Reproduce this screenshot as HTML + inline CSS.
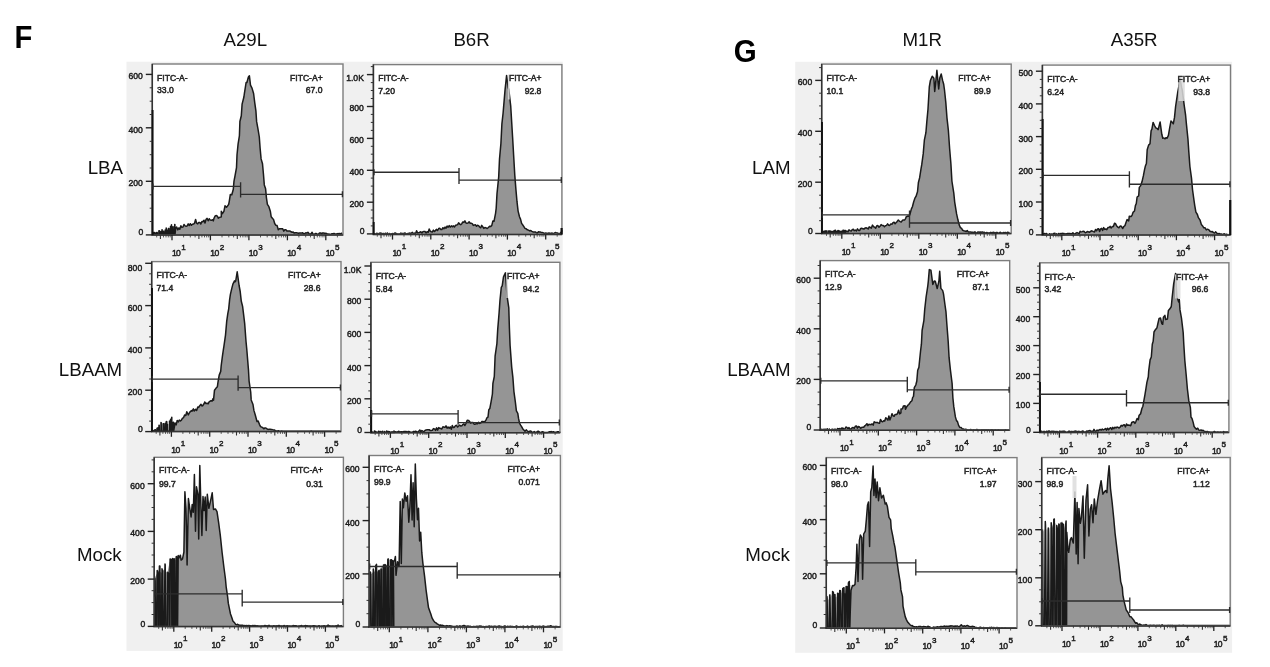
<!DOCTYPE html>
<html lang="en"><head><meta charset="utf-8"><title>Figure F G flow cytometry histograms</title>
<style>
html,body{margin:0;padding:0;background:#fff;}
body{width:1270px;height:667px;overflow:hidden;position:relative;font-family:"Liberation Sans",Arial,sans-serif;}
svg{position:absolute;left:0;top:0;display:block;filter:blur(0.35px);}
svg text{font-family:"Liberation Sans",Arial,sans-serif;}
.tk{font-size:8.6px;fill:#1c1c1c;stroke:#1c1c1c;stroke-width:0.45px;}
.ten{letter-spacing:-0.6px;}
.sup{font-size:8.1px;fill:#1c1c1c;stroke:#1c1c1c;stroke-width:0.45px;}
.lb{font-size:8.6px;fill:#262626;stroke:#262626;stroke-width:0.5px;}
.hd{font-size:18.7px;fill:#111;}
.big{font-size:31.4px;font-weight:bold;fill:#000;}
</style></head><body>
<svg width="1270" height="667" viewBox="0 0 1270 667">
<rect x="126.5" y="61.7" width="436.2" height="589.2" fill="#f0f0f0"/>
<rect x="795.2" y="61.8" width="436.9" height="591.0" fill="#f0f0f0"/>
<rect x="152.3" y="64.0" width="190.7" height="171.1" fill="#fff"/>
<path d="M153.4 234.8 L153.5 232.4 L153.7 232.4 L153.8 234.8 L154.5 234.8 L154.6 232.6 L155.1 232.7 L155.2 234.8 L156.6 234.8 L156.7 232.6 L157.2 232.5 L157.3 234.8 L158.8 234.8 L158.9 230.8 L159.4 230.8 L159.5 234.8 L160.9 234.8 L161.0 231.4 L160.9 231.4 L161.0 234.8 L162.0 234.8 L162.1 229.8 L162.0 229.8 L162.1 234.8 L163.0 234.8 L163.1 231.2 L163.6 231.2 L163.7 234.8 L165.1 234.8 L165.2 230.1 L165.4 230.2 L165.5 234.8 L166.2 234.8 L166.3 228.2 L166.2 228.1 L166.3 234.8 L167.2 234.8 L167.3 230.3 L167.8 230.2 L167.9 234.8 L168.3 234.8 L168.4 228.5 L168.9 228.5 L169.0 234.8 L170.4 234.8 L170.5 226.4 L170.7 226.4 L170.8 234.8 L171.4 234.8 L171.5 224.8 L171.4 225.0 L171.5 234.8 L172.5 234.8 L172.6 226.9 L173.1 226.8 L173.2 234.8 L174.6 234.8 L174.7 224.5 L174.9 224.5 L175.0 234.8 L175.6 228.6 L176.7 227.0 L177.7 229.8 L178.8 228.0 L179.8 229.3 L180.9 225.8 L181.9 227.4 L183.0 227.0 L184.0 224.4 L185.1 225.9 L186.1 226.3 L187.2 225.9 L188.2 223.9 L189.3 225.5 L190.3 223.7 L191.4 225.3 L192.4 224.3 L193.5 224.1 L194.5 223.2 L195.6 219.4 L196.6 223.2 L197.7 223.9 L198.7 222.4 L199.8 222.4 L200.8 224.0 L201.9 221.6 L202.9 221.7 L204.0 220.2 L205.0 223.1 L206.1 219.3 L207.1 218.4 L208.2 220.8 L209.2 218.7 L210.3 220.1 L211.3 220.3 L212.5 219.7 L213.3 220.9 L214.0 218.3 L215.1 216.0 L216.4 215.5 L217.6 216.4 L218.3 218.2 L219.3 217.5 L221.3 216.9 L221.3 211.2 L222.4 213.6 L223.9 211.3 L225.0 205.8 L226.5 207.2 L227.5 206.0 L228.7 204.4 L229.3 201.1 L230.3 194.6 L231.8 194.7 L233.3 189.3 L234.0 181.1 L235.0 176.0 L236.5 167.6 L237.0 155.0 L238.1 143.9 L239.4 135.8 L239.9 121.5 L241.3 115.7 L242.1 104.1 L243.9 97.0 L244.4 93.4 L246.1 82.5 L246.9 82.5 L248.4 77.0 L249.4 75.8 L250.5 85.2 L252.0 88.1 L253.6 93.5 L254.8 103.1 L255.9 110.8 L256.6 121.4 L258.0 129.2 L259.3 137.0 L260.1 148.0 L261.1 158.9 L262.5 163.8 L263.5 174.7 L264.3 184.9 L265.6 188.7 L266.4 197.6 L267.4 204.3 L268.9 206.7 L270.4 211.5 L271.2 216.8 L272.8 218.8 L273.5 219.4 L274.7 223.5 L275.9 225.3 L277.1 225.6 L278.3 229.7 L279.4 228.7 L280.6 228.7 L281.7 228.7 L282.7 228.7 L283.8 231.1 L284.8 229.8 L285.9 229.7 L286.9 230.9 L288.0 231.0 L289.0 231.0 L290.1 231.1 L291.1 231.8 L292.2 232.3 L293.2 232.1 L294.3 233.1 L295.3 232.8 L296.4 232.8 L297.4 232.9 L298.5 233.3 L299.5 233.0 L300.6 233.1 L301.6 233.1 L302.7 232.7 L303.7 234.0 L304.8 233.5 L305.8 232.8 L306.9 233.1 L307.9 232.3 L309.0 233.6 L310.0 234.6 L311.1 233.7 L312.1 232.3 L313.2 234.3 L314.2 234.3 L315.3 233.5 L316.3 233.6 L317.4 234.2 L318.4 234.3 L319.5 233.0 L320.5 232.9 L321.6 233.9 L322.6 232.9 L323.7 232.9 L324.7 233.7 L325.8 233.3 L326.8 233.7 L327.8 234.2 L328.9 234.0 L329.9 234.6 L330.9 234.2 L332.0 233.8 L333.0 233.8 L334.1 233.4 L335.1 233.9 L336.1 234.4 L337.2 233.6 L338.2 234.0 L339.2 233.4 L340.3 234.3 L341.3 233.2 L342.4 233.9 L342.4 235.1 L153.4 235.1 Z" fill="#959595" stroke="none"/>
<path d="M153.4 234.8 L153.5 232.4 L153.7 232.4 L153.8 234.8 L154.5 234.8 L154.6 232.6 L155.1 232.7 L155.2 234.8 L156.6 234.8 L156.7 232.6 L157.2 232.5 L157.3 234.8 L158.8 234.8 L158.9 230.8 L159.4 230.8 L159.5 234.8 L160.9 234.8 L161.0 231.4 L160.9 231.4 L161.0 234.8 L162.0 234.8 L162.1 229.8 L162.0 229.8 L162.1 234.8 L163.0 234.8 L163.1 231.2 L163.6 231.2 L163.7 234.8 L165.1 234.8 L165.2 230.1 L165.4 230.2 L165.5 234.8 L166.2 234.8 L166.3 228.2 L166.2 228.1 L166.3 234.8 L167.2 234.8 L167.3 230.3 L167.8 230.2 L167.9 234.8 L168.3 234.8 L168.4 228.5 L168.9 228.5 L169.0 234.8 L170.4 234.8 L170.5 226.4 L170.7 226.4 L170.8 234.8 L171.4 234.8 L171.5 224.8 L171.4 225.0 L171.5 234.8 L172.5 234.8 L172.6 226.9 L173.1 226.8 L173.2 234.8 L174.6 234.8 L174.7 224.5 L174.9 224.5 L175.0 234.8 L175.6 228.6 L176.7 227.0 L177.7 229.8 L178.8 228.0 L179.8 229.3 L180.9 225.8 L181.9 227.4 L183.0 227.0 L184.0 224.4 L185.1 225.9 L186.1 226.3 L187.2 225.9 L188.2 223.9 L189.3 225.5 L190.3 223.7 L191.4 225.3 L192.4 224.3 L193.5 224.1 L194.5 223.2 L195.6 219.4 L196.6 223.2 L197.7 223.9 L198.7 222.4 L199.8 222.4 L200.8 224.0 L201.9 221.6 L202.9 221.7 L204.0 220.2 L205.0 223.1 L206.1 219.3 L207.1 218.4 L208.2 220.8 L209.2 218.7 L210.3 220.1 L211.3 220.3 L212.5 219.7 L213.3 220.9 L214.0 218.3 L215.1 216.0 L216.4 215.5 L217.6 216.4 L218.3 218.2 L219.3 217.5 L221.3 216.9 L221.3 211.2 L222.4 213.6 L223.9 211.3 L225.0 205.8 L226.5 207.2 L227.5 206.0 L228.7 204.4 L229.3 201.1 L230.3 194.6 L231.8 194.7 L233.3 189.3 L234.0 181.1 L235.0 176.0 L236.5 167.6 L237.0 155.0 L238.1 143.9 L239.4 135.8 L239.9 121.5 L241.3 115.7 L242.1 104.1 L243.9 97.0 L244.4 93.4 L246.1 82.5 L246.9 82.5 L248.4 77.0 L249.4 75.8 L250.5 85.2 L252.0 88.1 L253.6 93.5 L254.8 103.1 L255.9 110.8 L256.6 121.4 L258.0 129.2 L259.3 137.0 L260.1 148.0 L261.1 158.9 L262.5 163.8 L263.5 174.7 L264.3 184.9 L265.6 188.7 L266.4 197.6 L267.4 204.3 L268.9 206.7 L270.4 211.5 L271.2 216.8 L272.8 218.8 L273.5 219.4 L274.7 223.5 L275.9 225.3 L277.1 225.6 L278.3 229.7 L279.4 228.7 L280.6 228.7 L281.7 228.7 L282.7 228.7 L283.8 231.1 L284.8 229.8 L285.9 229.7 L286.9 230.9 L288.0 231.0 L289.0 231.0 L290.1 231.1 L291.1 231.8 L292.2 232.3 L293.2 232.1 L294.3 233.1 L295.3 232.8 L296.4 232.8 L297.4 232.9 L298.5 233.3 L299.5 233.0 L300.6 233.1 L301.6 233.1 L302.7 232.7 L303.7 234.0 L304.8 233.5 L305.8 232.8 L306.9 233.1 L307.9 232.3 L309.0 233.6 L310.0 234.6 L311.1 233.7 L312.1 232.3 L313.2 234.3 L314.2 234.3 L315.3 233.5 L316.3 233.6 L317.4 234.2 L318.4 234.3 L319.5 233.0 L320.5 232.9 L321.6 233.9 L322.6 232.9 L323.7 232.9 L324.7 233.7 L325.8 233.3 L326.8 233.7 L327.8 234.2 L328.9 234.0 L329.9 234.6 L330.9 234.2 L332.0 233.8 L333.0 233.8 L334.1 233.4 L335.1 233.9 L336.1 234.4 L337.2 233.6 L338.2 234.0 L339.2 233.4 L340.3 234.3 L341.3 233.2 L342.4 233.9" fill="none" stroke="#1a1a1a" stroke-width="1.5" stroke-linejoin="round"/>
<rect x="152.3" y="64.0" width="190.7" height="171.1" fill="none" stroke="#7d7d7d" stroke-width="1.4"/>
<path d="M152.3 64.0 V235.1 H343.0" fill="none" stroke="#333" stroke-width="1.5"/>
<path d="M152.6 110.0 V235.1" stroke="#111" stroke-width="1.9"/>
<path d="M145.8 74.4 H152.3" stroke="#222" stroke-width="1.4"/>
<text x="142.8" y="79.3" text-anchor="end" class="tk">600</text>
<path d="M145.8 127.8 H152.3" stroke="#222" stroke-width="1.4"/>
<text x="142.8" y="132.7" text-anchor="end" class="tk">400</text>
<path d="M145.8 181.3 H152.3" stroke="#222" stroke-width="1.4"/>
<text x="142.8" y="186.2" text-anchor="end" class="tk">200</text>
<path d="M145.8 234.9 H152.3" stroke="#222" stroke-width="1.4"/>
<text x="143.4" y="235.2" text-anchor="end" class="tk">0</text>
<path d="M149.7 221.5 H152.3" stroke="#333" stroke-width="1"/>
<path d="M149.7 208.2 H152.3" stroke="#333" stroke-width="1"/>
<path d="M149.7 194.8 H152.3" stroke="#333" stroke-width="1"/>
<path d="M149.7 168.0 H152.3" stroke="#333" stroke-width="1"/>
<path d="M149.7 154.7 H152.3" stroke="#333" stroke-width="1"/>
<path d="M149.7 141.3 H152.3" stroke="#333" stroke-width="1"/>
<path d="M149.7 114.5 H152.3" stroke="#333" stroke-width="1"/>
<path d="M149.7 101.2 H152.3" stroke="#333" stroke-width="1"/>
<path d="M149.7 87.8 H152.3" stroke="#333" stroke-width="1"/>
<path d="M156.7 235.1 V237.4" stroke="#333" stroke-width="0.8"/>
<path d="M160.4 235.1 V239.0" stroke="#333" stroke-width="1.1"/>
<path d="M163.5 235.1 V237.4" stroke="#333" stroke-width="0.8"/>
<path d="M166.0 235.1 V237.4" stroke="#333" stroke-width="0.8"/>
<path d="M168.3 235.1 V237.4" stroke="#333" stroke-width="0.8"/>
<path d="M170.2 235.1 V237.4" stroke="#333" stroke-width="0.8"/>
<path d="M172.0 235.1 V240.3" stroke="#222" stroke-width="1.3"/>
<text x="171.9" y="256.3" class="tk ten">10</text><text x="181.3" y="249.8" class="sup">1</text>
<path d="M183.6 235.1 V237.4" stroke="#333" stroke-width="0.8"/>
<path d="M190.3 235.1 V237.4" stroke="#333" stroke-width="0.8"/>
<path d="M195.1 235.1 V237.4" stroke="#333" stroke-width="0.8"/>
<path d="M198.9 235.1 V239.0" stroke="#333" stroke-width="1.1"/>
<path d="M201.9 235.1 V237.4" stroke="#333" stroke-width="0.8"/>
<path d="M204.5 235.1 V237.4" stroke="#333" stroke-width="0.8"/>
<path d="M206.7 235.1 V237.4" stroke="#333" stroke-width="0.8"/>
<path d="M208.7 235.1 V237.4" stroke="#333" stroke-width="0.8"/>
<path d="M210.4 235.1 V240.3" stroke="#222" stroke-width="1.3"/>
<text x="210.3" y="256.3" class="tk ten">10</text><text x="219.8" y="249.8" class="sup">2</text>
<path d="M222.0 235.1 V237.4" stroke="#333" stroke-width="0.8"/>
<path d="M228.8 235.1 V237.4" stroke="#333" stroke-width="0.8"/>
<path d="M233.6 235.1 V237.4" stroke="#333" stroke-width="0.8"/>
<path d="M237.3 235.1 V239.0" stroke="#333" stroke-width="1.1"/>
<path d="M240.4 235.1 V237.4" stroke="#333" stroke-width="0.8"/>
<path d="M242.9 235.1 V237.4" stroke="#333" stroke-width="0.8"/>
<path d="M245.2 235.1 V237.4" stroke="#333" stroke-width="0.8"/>
<path d="M247.1 235.1 V237.4" stroke="#333" stroke-width="0.8"/>
<path d="M248.9 235.1 V240.3" stroke="#222" stroke-width="1.3"/>
<text x="248.8" y="256.3" class="tk ten">10</text><text x="258.2" y="249.8" class="sup">3</text>
<path d="M260.5 235.1 V237.4" stroke="#333" stroke-width="0.8"/>
<path d="M267.2 235.1 V237.4" stroke="#333" stroke-width="0.8"/>
<path d="M272.0 235.1 V237.4" stroke="#333" stroke-width="0.8"/>
<path d="M275.8 235.1 V239.0" stroke="#333" stroke-width="1.1"/>
<path d="M278.8 235.1 V237.4" stroke="#333" stroke-width="0.8"/>
<path d="M281.4 235.1 V237.4" stroke="#333" stroke-width="0.8"/>
<path d="M283.6 235.1 V237.4" stroke="#333" stroke-width="0.8"/>
<path d="M285.6 235.1 V237.4" stroke="#333" stroke-width="0.8"/>
<path d="M287.4 235.1 V240.3" stroke="#222" stroke-width="1.3"/>
<text x="287.2" y="256.3" class="tk ten">10</text><text x="296.7" y="249.8" class="sup">4</text>
<path d="M298.9 235.1 V237.4" stroke="#333" stroke-width="0.8"/>
<path d="M305.7 235.1 V237.4" stroke="#333" stroke-width="0.8"/>
<path d="M310.5 235.1 V237.4" stroke="#333" stroke-width="0.8"/>
<path d="M314.2 235.1 V239.0" stroke="#333" stroke-width="1.1"/>
<path d="M317.3 235.1 V237.4" stroke="#333" stroke-width="0.8"/>
<path d="M319.8 235.1 V237.4" stroke="#333" stroke-width="0.8"/>
<path d="M322.1 235.1 V237.4" stroke="#333" stroke-width="0.8"/>
<path d="M324.0 235.1 V237.4" stroke="#333" stroke-width="0.8"/>
<path d="M325.8 235.1 V240.3" stroke="#222" stroke-width="1.3"/>
<text x="325.7" y="256.3" class="tk ten">10</text><text x="335.1" y="249.8" class="sup">5</text>
<path d="M337.4 235.1 V237.4" stroke="#333" stroke-width="0.8"/>
<path d="M152.3 186.4 H240.6 M240.6 182.3 V197.4 M240.6 194.3 H343.0 M152.9 183.4 V189.4 M342.4 191.3 V197.3" fill="none" stroke="#2c2c2c" stroke-width="1.35"/>
<text x="157.1" y="81.3" class="lb">FITC-A-</text>
<text x="157.1" y="93.4" class="lb">33.0</text>
<text x="290.0" y="81.3" class="lb">FITC-A+</text>
<text x="322.5" y="93.4" class="lb" text-anchor="end">67.0</text>
<rect x="373.4" y="64.6" width="188.5" height="169.8" fill="#fff"/>
<path d="M373.4 234.1 L373.5 233.3 L373.4 233.3 L373.5 234.1 L374.5 234.1 L374.6 233.7 L375.1 233.7 L375.2 234.1 L376.6 234.1 L376.7 233.3 L376.9 233.3 L377.0 234.1 L377.6 234.1 L377.7 233.4 L378.2 233.4 L378.3 234.1 L379.8 234.1 L379.9 233.1 L379.8 233.1 L379.9 234.1 L380.8 234.1 L380.9 232.9 L380.8 232.9 L380.9 234.1 L381.9 234.1 L382.0 233.6 L381.9 233.6 L382.0 234.1 L383.0 234.1 L383.1 233.4 L383.6 233.4 L383.7 234.1 L385.1 234.1 L385.2 233.3 L385.7 233.3 L385.8 234.1 L387.2 234.1 L387.3 233.1 L387.5 233.1 L387.6 234.1 L389.3 234.1 L389.4 233.6 L389.6 233.6 L389.7 234.1 L391.4 234.1 L391.5 233.7 L391.7 233.7 L391.8 234.1 L392.5 234.1 L392.6 233.4 L393.1 233.4 L393.2 234.1 L393.5 234.1 L393.6 233.7 L393.8 233.7 L393.9 234.1 L394.6 234.1 L394.7 233.1 L394.9 233.1 L395.0 234.1 L395.6 234.1 L395.7 233.1 L395.6 233.1 L395.7 234.1 L396.7 233.8 L397.7 234.1 L398.8 233.9 L399.8 234.1 L400.9 233.1 L401.9 233.6 L403.0 233.5 L404.0 233.3 L405.1 232.9 L406.1 234.1 L407.2 233.8 L408.2 233.4 L409.3 233.1 L410.3 233.2 L411.4 233.2 L412.4 232.4 L413.5 233.9 L414.5 233.1 L415.6 233.6 L416.6 230.8 L417.7 233.1 L418.7 232.8 L419.8 232.2 L420.8 231.8 L421.9 233.1 L422.9 231.7 L424.0 231.4 L425.0 231.5 L426.1 233.2 L427.1 231.7 L428.2 232.3 L429.2 229.0 L430.3 231.3 L431.3 231.7 L432.4 231.9 L433.4 230.1 L434.5 231.5 L435.5 230.4 L436.6 229.4 L437.6 230.5 L438.7 228.5 L439.7 228.2 L440.8 229.4 L441.8 229.6 L442.9 227.7 L443.9 228.8 L445.0 227.1 L446.0 228.2 L447.1 226.1 L448.1 227.1 L449.2 225.6 L450.2 227.1 L451.3 225.9 L452.3 226.8 L453.4 225.9 L454.4 227.0 L455.5 225.3 L456.5 225.0 L457.6 224.6 L458.6 222.8 L459.7 224.1 L460.7 224.7 L461.8 223.7 L462.8 222.0 L463.9 222.4 L464.9 220.9 L466.0 223.0 L467.0 223.3 L468.1 222.9 L469.1 221.8 L470.2 223.2 L471.2 223.3 L472.3 223.6 L473.3 225.4 L474.4 224.9 L475.4 224.8 L476.5 226.2 L477.5 225.2 L478.6 225.6 L479.6 227.0 L480.7 227.8 L481.7 225.4 L482.8 226.8 L483.8 228.4 L484.9 227.5 L486.1 227.9 L487.2 228.5 L488.4 227.5 L489.6 226.2 L490.7 226.6 L491.8 225.4 L492.9 221.0 L494.0 221.3 L495.6 213.1 L496.2 208.1 L497.0 193.6 L498.7 176.8 L499.5 159.1 L500.9 143.6 L501.9 123.8 L503.1 113.0 L505.0 90.4 L506.6 75.4 L508.1 87.4 L508.8 89.6 L510.7 105.8 L512.6 137.3 L513.6 154.8 L514.8 175.4 L516.0 190.4 L517.0 201.7 L518.1 211.1 L519.5 216.7 L520.6 219.4 L521.6 223.4 L522.7 224.8 L523.9 226.7 L525.0 228.4 L526.2 228.8 L527.4 229.8 L528.5 230.1 L529.7 230.9 L530.8 230.5 L531.9 231.3 L533.0 231.9 L534.2 232.0 L535.3 231.9 L536.3 232.7 L537.4 233.1 L538.4 231.7 L539.5 231.9 L540.5 232.1 L541.6 232.6 L542.6 232.6 L543.7 233.0 L544.7 233.6 L545.8 232.9 L546.8 233.4 L547.9 233.2 L548.9 233.1 L550.0 233.3 L551.0 233.5 L552.1 232.9 L553.1 234.1 L554.2 233.1 L555.2 232.6 L556.3 232.8 L557.3 232.9 L558.4 233.7 L559.4 233.4 L560.5 233.1 L562.4 230.4 L562.4 234.4 L373.4 234.4 Z" fill="#959595" stroke="none"/>
<path d="M373.4 234.1 L373.5 233.3 L373.4 233.3 L373.5 234.1 L374.5 234.1 L374.6 233.7 L375.1 233.7 L375.2 234.1 L376.6 234.1 L376.7 233.3 L376.9 233.3 L377.0 234.1 L377.6 234.1 L377.7 233.4 L378.2 233.4 L378.3 234.1 L379.8 234.1 L379.9 233.1 L379.8 233.1 L379.9 234.1 L380.8 234.1 L380.9 232.9 L380.8 232.9 L380.9 234.1 L381.9 234.1 L382.0 233.6 L381.9 233.6 L382.0 234.1 L383.0 234.1 L383.1 233.4 L383.6 233.4 L383.7 234.1 L385.1 234.1 L385.2 233.3 L385.7 233.3 L385.8 234.1 L387.2 234.1 L387.3 233.1 L387.5 233.1 L387.6 234.1 L389.3 234.1 L389.4 233.6 L389.6 233.6 L389.7 234.1 L391.4 234.1 L391.5 233.7 L391.7 233.7 L391.8 234.1 L392.5 234.1 L392.6 233.4 L393.1 233.4 L393.2 234.1 L393.5 234.1 L393.6 233.7 L393.8 233.7 L393.9 234.1 L394.6 234.1 L394.7 233.1 L394.9 233.1 L395.0 234.1 L395.6 234.1 L395.7 233.1 L395.6 233.1 L395.7 234.1 L396.7 233.8 L397.7 234.1 L398.8 233.9 L399.8 234.1 L400.9 233.1 L401.9 233.6 L403.0 233.5 L404.0 233.3 L405.1 232.9 L406.1 234.1 L407.2 233.8 L408.2 233.4 L409.3 233.1 L410.3 233.2 L411.4 233.2 L412.4 232.4 L413.5 233.9 L414.5 233.1 L415.6 233.6 L416.6 230.8 L417.7 233.1 L418.7 232.8 L419.8 232.2 L420.8 231.8 L421.9 233.1 L422.9 231.7 L424.0 231.4 L425.0 231.5 L426.1 233.2 L427.1 231.7 L428.2 232.3 L429.2 229.0 L430.3 231.3 L431.3 231.7 L432.4 231.9 L433.4 230.1 L434.5 231.5 L435.5 230.4 L436.6 229.4 L437.6 230.5 L438.7 228.5 L439.7 228.2 L440.8 229.4 L441.8 229.6 L442.9 227.7 L443.9 228.8 L445.0 227.1 L446.0 228.2 L447.1 226.1 L448.1 227.1 L449.2 225.6 L450.2 227.1 L451.3 225.9 L452.3 226.8 L453.4 225.9 L454.4 227.0 L455.5 225.3 L456.5 225.0 L457.6 224.6 L458.6 222.8 L459.7 224.1 L460.7 224.7 L461.8 223.7 L462.8 222.0 L463.9 222.4 L464.9 220.9 L466.0 223.0 L467.0 223.3 L468.1 222.9 L469.1 221.8 L470.2 223.2 L471.2 223.3 L472.3 223.6 L473.3 225.4 L474.4 224.9 L475.4 224.8 L476.5 226.2 L477.5 225.2 L478.6 225.6 L479.6 227.0 L480.7 227.8 L481.7 225.4 L482.8 226.8 L483.8 228.4 L484.9 227.5 L486.1 227.9 L487.2 228.5 L488.4 227.5 L489.6 226.2 L490.7 226.6 L491.8 225.4 L492.9 221.0 L494.0 221.3 L495.6 213.1 L496.2 208.1 L497.0 193.6 L498.7 176.8 L499.5 159.1 L500.9 143.6 L501.9 123.8 L503.1 113.0 L505.0 90.4 L506.6 75.4 L508.1 87.4 L508.8 89.6 L510.7 105.8 L512.6 137.3 L513.6 154.8 L514.8 175.4 L516.0 190.4 L517.0 201.7 L518.1 211.1 L519.5 216.7 L520.6 219.4 L521.6 223.4 L522.7 224.8 L523.9 226.7 L525.0 228.4 L526.2 228.8 L527.4 229.8 L528.5 230.1 L529.7 230.9 L530.8 230.5 L531.9 231.3 L533.0 231.9 L534.2 232.0 L535.3 231.9 L536.3 232.7 L537.4 233.1 L538.4 231.7 L539.5 231.9 L540.5 232.1 L541.6 232.6 L542.6 232.6 L543.7 233.0 L544.7 233.6 L545.8 232.9 L546.8 233.4 L547.9 233.2 L548.9 233.1 L550.0 233.3 L551.0 233.5 L552.1 232.9 L553.1 234.1 L554.2 233.1 L555.2 232.6 L556.3 232.8 L557.3 232.9 L558.4 233.7 L559.4 233.4 L560.5 233.1 L562.4 230.4" fill="none" stroke="#1a1a1a" stroke-width="1.5" stroke-linejoin="round"/>
<rect x="507.9" y="74.5" width="1.8" height="25.0" fill="#dcdcdc" opacity="0.85"/>
<rect x="373.4" y="64.6" width="188.5" height="169.8" fill="none" stroke="#7d7d7d" stroke-width="1.4"/>
<path d="M373.4 64.6 V234.4 H561.9" fill="none" stroke="#333" stroke-width="1.5"/>
<path d="M373.7 222.0 V234.4" stroke="#111" stroke-width="1.9"/>
<path d="M561.6 228.0 V234.4" stroke="#111" stroke-width="2.2"/>
<path d="M366.9 74.6 H373.4" stroke="#222" stroke-width="1.4"/>
<text x="363.9" y="81.1" text-anchor="end" class="tk">1.0K</text>
<path d="M366.9 106.5 H373.4" stroke="#222" stroke-width="1.4"/>
<text x="363.9" y="111.4" text-anchor="end" class="tk">800</text>
<path d="M366.9 138.4 H373.4" stroke="#222" stroke-width="1.4"/>
<text x="363.9" y="143.3" text-anchor="end" class="tk">600</text>
<path d="M366.9 170.3 H373.4" stroke="#222" stroke-width="1.4"/>
<text x="363.9" y="175.2" text-anchor="end" class="tk">400</text>
<path d="M366.9 202.2 H373.4" stroke="#222" stroke-width="1.4"/>
<text x="363.9" y="207.1" text-anchor="end" class="tk">200</text>
<path d="M366.9 233.9 H373.4" stroke="#222" stroke-width="1.4"/>
<text x="364.5" y="234.2" text-anchor="end" class="tk">0</text>
<path d="M370.8 225.9 H373.4" stroke="#333" stroke-width="1"/>
<path d="M370.8 218.0 H373.4" stroke="#333" stroke-width="1"/>
<path d="M370.8 210.0 H373.4" stroke="#333" stroke-width="1"/>
<path d="M370.8 194.1 H373.4" stroke="#333" stroke-width="1"/>
<path d="M370.8 186.1 H373.4" stroke="#333" stroke-width="1"/>
<path d="M370.8 178.1 H373.4" stroke="#333" stroke-width="1"/>
<path d="M370.8 162.2 H373.4" stroke="#333" stroke-width="1"/>
<path d="M370.8 154.2 H373.4" stroke="#333" stroke-width="1"/>
<path d="M370.8 146.3 H373.4" stroke="#333" stroke-width="1"/>
<path d="M370.8 130.4 H373.4" stroke="#333" stroke-width="1"/>
<path d="M370.8 122.4 H373.4" stroke="#333" stroke-width="1"/>
<path d="M370.8 114.4 H373.4" stroke="#333" stroke-width="1"/>
<path d="M370.8 98.5 H373.4" stroke="#333" stroke-width="1"/>
<path d="M370.8 90.5 H373.4" stroke="#333" stroke-width="1"/>
<path d="M370.8 82.6 H373.4" stroke="#333" stroke-width="1"/>
<path d="M370.8 66.6 H373.4" stroke="#333" stroke-width="1"/>
<path d="M377.3 234.4 V236.7" stroke="#333" stroke-width="0.8"/>
<path d="M381.0 234.4 V238.3" stroke="#333" stroke-width="1.1"/>
<path d="M384.0 234.4 V236.7" stroke="#333" stroke-width="0.8"/>
<path d="M386.6 234.4 V236.7" stroke="#333" stroke-width="0.8"/>
<path d="M388.8 234.4 V236.7" stroke="#333" stroke-width="0.8"/>
<path d="M390.7 234.4 V236.7" stroke="#333" stroke-width="0.8"/>
<path d="M392.5 234.4 V239.6" stroke="#222" stroke-width="1.3"/>
<text x="392.4" y="255.6" class="tk ten">10</text><text x="401.8" y="249.1" class="sup">1</text>
<path d="M404.0 234.4 V236.7" stroke="#333" stroke-width="0.8"/>
<path d="M410.8 234.4 V236.7" stroke="#333" stroke-width="0.8"/>
<path d="M415.6 234.4 V236.7" stroke="#333" stroke-width="0.8"/>
<path d="M419.3 234.4 V238.3" stroke="#333" stroke-width="1.1"/>
<path d="M422.3 234.4 V236.7" stroke="#333" stroke-width="0.8"/>
<path d="M424.9 234.4 V236.7" stroke="#333" stroke-width="0.8"/>
<path d="M427.1 234.4 V236.7" stroke="#333" stroke-width="0.8"/>
<path d="M429.0 234.4 V236.7" stroke="#333" stroke-width="0.8"/>
<path d="M430.8 234.4 V239.6" stroke="#222" stroke-width="1.3"/>
<text x="430.7" y="255.6" class="tk ten">10</text><text x="440.1" y="249.1" class="sup">2</text>
<path d="M442.3 234.4 V236.7" stroke="#333" stroke-width="0.8"/>
<path d="M449.1 234.4 V236.7" stroke="#333" stroke-width="0.8"/>
<path d="M453.9 234.4 V236.7" stroke="#333" stroke-width="0.8"/>
<path d="M457.6 234.4 V238.3" stroke="#333" stroke-width="1.1"/>
<path d="M460.6 234.4 V236.7" stroke="#333" stroke-width="0.8"/>
<path d="M463.2 234.4 V236.7" stroke="#333" stroke-width="0.8"/>
<path d="M465.4 234.4 V236.7" stroke="#333" stroke-width="0.8"/>
<path d="M467.3 234.4 V236.7" stroke="#333" stroke-width="0.8"/>
<path d="M469.1 234.4 V239.6" stroke="#222" stroke-width="1.3"/>
<text x="469.0" y="255.6" class="tk ten">10</text><text x="478.4" y="249.1" class="sup">3</text>
<path d="M480.6 234.4 V236.7" stroke="#333" stroke-width="0.8"/>
<path d="M487.4 234.4 V236.7" stroke="#333" stroke-width="0.8"/>
<path d="M492.2 234.4 V236.7" stroke="#333" stroke-width="0.8"/>
<path d="M495.9 234.4 V238.3" stroke="#333" stroke-width="1.1"/>
<path d="M498.9 234.4 V236.7" stroke="#333" stroke-width="0.8"/>
<path d="M501.5 234.4 V236.7" stroke="#333" stroke-width="0.8"/>
<path d="M503.7 234.4 V236.7" stroke="#333" stroke-width="0.8"/>
<path d="M505.6 234.4 V236.7" stroke="#333" stroke-width="0.8"/>
<path d="M507.4 234.4 V239.6" stroke="#222" stroke-width="1.3"/>
<text x="507.3" y="255.6" class="tk ten">10</text><text x="516.7" y="249.1" class="sup">4</text>
<path d="M518.9 234.4 V236.7" stroke="#333" stroke-width="0.8"/>
<path d="M525.7 234.4 V236.7" stroke="#333" stroke-width="0.8"/>
<path d="M530.5 234.4 V236.7" stroke="#333" stroke-width="0.8"/>
<path d="M534.2 234.4 V238.3" stroke="#333" stroke-width="1.1"/>
<path d="M537.2 234.4 V236.7" stroke="#333" stroke-width="0.8"/>
<path d="M539.8 234.4 V236.7" stroke="#333" stroke-width="0.8"/>
<path d="M542.0 234.4 V236.7" stroke="#333" stroke-width="0.8"/>
<path d="M543.9 234.4 V236.7" stroke="#333" stroke-width="0.8"/>
<path d="M545.7 234.4 V239.6" stroke="#222" stroke-width="1.3"/>
<text x="545.6" y="255.6" class="tk ten">10</text><text x="555.0" y="249.1" class="sup">5</text>
<path d="M557.2 234.4 V236.7" stroke="#333" stroke-width="0.8"/>
<path d="M373.4 172.2 H459.0 M459.0 168.0 V183.9 M459.0 180.1 H561.9 M374.0 169.2 V175.2 M561.3 177.1 V183.1" fill="none" stroke="#2c2c2c" stroke-width="1.35"/>
<text x="378.2" y="81.4" class="lb">FITC-A-</text>
<text x="378.2" y="94.0" class="lb">7.20</text>
<text x="508.9" y="81.4" class="lb">FITC-A+</text>
<text x="541.4" y="94.0" class="lb" text-anchor="end">92.8</text>
<rect x="151.7" y="261.6" width="189.3" height="170.0" fill="#fff"/>
<path d="M152.8 431.3 L152.9 430.7 L152.8 430.7 L152.9 431.3 L153.8 431.3 L153.9 430.4 L153.8 430.5 L153.9 431.3 L154.8 431.3 L154.9 429.7 L155.4 429.8 L155.5 431.3 L156.9 431.3 L157.0 428.3 L157.2 428.4 L157.3 431.3 L157.9 431.3 L158.0 427.7 L157.9 427.8 L158.0 431.3 L158.9 431.3 L159.0 425.3 L159.2 425.3 L159.3 431.3 L160.9 431.3 L161.0 422.6 L161.2 422.7 L161.3 431.3 L163.0 431.3 L163.1 423.7 L163.6 423.8 L163.7 431.3 L165.1 431.3 L165.2 423.4 L165.4 423.3 L165.5 431.3 L166.2 431.3 L166.3 421.6 L166.8 421.7 L166.9 431.3 L167.2 431.3 L167.3 424.2 L167.5 424.4 L167.6 431.3 L169.5 431.3 L169.6 421.3 L169.5 421.1 L169.6 431.3 L170.6 431.3 L170.7 419.2 L170.6 419.2 L170.7 431.3 L171.7 431.3 L171.8 417.3 L171.7 417.6 L171.8 431.3 L172.9 431.3 L173.0 422.4 L173.5 422.2 L173.6 431.3 L175.1 422.9 L176.2 424.9 L177.2 420.4 L178.3 421.9 L179.3 420.1 L180.4 421.0 L181.4 420.1 L182.5 418.1 L183.5 417.8 L184.6 415.0 L185.8 415.5 L186.8 411.7 L188.3 414.9 L189.3 413.0 L189.8 412.1 L191.5 410.6 L192.1 411.1 L193.4 408.9 L194.2 411.0 L195.6 409.3 L196.6 410.5 L197.8 406.9 L198.7 407.4 L199.3 406.3 L201.0 404.3 L201.9 406.0 L202.8 405.5 L204.5 403.0 L204.7 401.9 L205.9 403.5 L207.2 403.2 L208.2 403.8 L209.1 401.9 L211.0 400.7 L212.2 400.9 L212.9 398.7 L213.5 400.1 L214.5 390.2 L216.1 388.1 L217.4 386.7 L218.0 382.1 L219.2 375.1 L220.7 371.4 L221.2 365.5 L222.4 356.3 L223.3 350.1 L223.9 346.4 L225.5 335.1 L226.7 321.4 L227.8 313.7 L228.7 308.8 L229.6 299.9 L230.4 294.4 L231.8 288.4 L232.9 284.1 L234.5 280.9 L235.0 281.9 L235.7 281.0 L237.2 271.8 L239.1 285.5 L240.2 291.5 L241.3 301.3 L242.6 306.4 L243.5 313.6 L244.7 323.7 L246.0 341.3 L246.8 349.5 L248.5 370.3 L249.1 381.1 L250.7 392.0 L251.2 399.9 L253.0 404.5 L253.9 410.4 L255.2 414.7 L256.0 417.8 L257.0 421.5 L258.2 421.0 L259.4 424.3 L260.6 426.6 L261.7 427.1 L262.8 427.7 L263.8 428.8 L264.9 427.9 L265.9 428.0 L267.0 428.8 L268.0 429.5 L269.1 429.3 L270.1 429.2 L271.2 429.5 L272.2 429.6 L273.3 429.9 L274.3 429.9 L275.4 430.6 L276.4 431.0 L277.5 431.1 L278.5 430.7 L279.6 431.3 L280.6 431.2 L281.7 431.1 L282.7 431.3 L283.8 431.3 L284.8 431.3 L285.9 431.3 L286.9 431.3 L287.9 431.3 L288.9 431.3 L290.0 431.3 L291.0 431.3 L292.0 431.3 L293.0 431.3 L294.0 431.3 L295.0 431.3 L296.0 431.3 L297.0 431.3 L298.0 431.3 L299.1 431.3 L300.1 431.3 L301.1 431.3 L302.1 431.3 L303.1 431.3 L304.1 431.3 L305.1 431.3 L306.1 431.3 L307.1 431.3 L308.1 431.3 L309.2 431.3 L310.2 431.3 L311.2 431.1 L312.2 431.3 L313.2 431.3 L314.2 431.3 L315.2 431.3 L316.2 431.3 L317.2 431.3 L318.2 431.3 L319.3 431.3 L320.3 431.3 L321.3 431.3 L322.3 431.3 L323.3 431.3 L324.3 431.3 L325.3 431.3 L326.3 431.3 L327.3 431.3 L328.3 431.3 L329.4 431.3 L330.4 431.3 L331.4 431.3 L332.4 431.3 L333.4 431.3 L334.4 431.3 L335.4 431.3 L336.4 431.3 L337.4 431.3 L338.5 431.3 L339.5 431.3 L340.5 431.3 L340.5 431.6 L152.8 431.6 Z" fill="#959595" stroke="none"/>
<path d="M152.8 431.3 L152.9 430.7 L152.8 430.7 L152.9 431.3 L153.8 431.3 L153.9 430.4 L153.8 430.5 L153.9 431.3 L154.8 431.3 L154.9 429.7 L155.4 429.8 L155.5 431.3 L156.9 431.3 L157.0 428.3 L157.2 428.4 L157.3 431.3 L157.9 431.3 L158.0 427.7 L157.9 427.8 L158.0 431.3 L158.9 431.3 L159.0 425.3 L159.2 425.3 L159.3 431.3 L160.9 431.3 L161.0 422.6 L161.2 422.7 L161.3 431.3 L163.0 431.3 L163.1 423.7 L163.6 423.8 L163.7 431.3 L165.1 431.3 L165.2 423.4 L165.4 423.3 L165.5 431.3 L166.2 431.3 L166.3 421.6 L166.8 421.7 L166.9 431.3 L167.2 431.3 L167.3 424.2 L167.5 424.4 L167.6 431.3 L169.5 431.3 L169.6 421.3 L169.5 421.1 L169.6 431.3 L170.6 431.3 L170.7 419.2 L170.6 419.2 L170.7 431.3 L171.7 431.3 L171.8 417.3 L171.7 417.6 L171.8 431.3 L172.9 431.3 L173.0 422.4 L173.5 422.2 L173.6 431.3 L175.1 422.9 L176.2 424.9 L177.2 420.4 L178.3 421.9 L179.3 420.1 L180.4 421.0 L181.4 420.1 L182.5 418.1 L183.5 417.8 L184.6 415.0 L185.8 415.5 L186.8 411.7 L188.3 414.9 L189.3 413.0 L189.8 412.1 L191.5 410.6 L192.1 411.1 L193.4 408.9 L194.2 411.0 L195.6 409.3 L196.6 410.5 L197.8 406.9 L198.7 407.4 L199.3 406.3 L201.0 404.3 L201.9 406.0 L202.8 405.5 L204.5 403.0 L204.7 401.9 L205.9 403.5 L207.2 403.2 L208.2 403.8 L209.1 401.9 L211.0 400.7 L212.2 400.9 L212.9 398.7 L213.5 400.1 L214.5 390.2 L216.1 388.1 L217.4 386.7 L218.0 382.1 L219.2 375.1 L220.7 371.4 L221.2 365.5 L222.4 356.3 L223.3 350.1 L223.9 346.4 L225.5 335.1 L226.7 321.4 L227.8 313.7 L228.7 308.8 L229.6 299.9 L230.4 294.4 L231.8 288.4 L232.9 284.1 L234.5 280.9 L235.0 281.9 L235.7 281.0 L237.2 271.8 L239.1 285.5 L240.2 291.5 L241.3 301.3 L242.6 306.4 L243.5 313.6 L244.7 323.7 L246.0 341.3 L246.8 349.5 L248.5 370.3 L249.1 381.1 L250.7 392.0 L251.2 399.9 L253.0 404.5 L253.9 410.4 L255.2 414.7 L256.0 417.8 L257.0 421.5 L258.2 421.0 L259.4 424.3 L260.6 426.6 L261.7 427.1 L262.8 427.7 L263.8 428.8 L264.9 427.9 L265.9 428.0 L267.0 428.8 L268.0 429.5 L269.1 429.3 L270.1 429.2 L271.2 429.5 L272.2 429.6 L273.3 429.9 L274.3 429.9 L275.4 430.6 L276.4 431.0 L277.5 431.1 L278.5 430.7 L279.6 431.3 L280.6 431.2 L281.7 431.1 L282.7 431.3 L283.8 431.3 L284.8 431.3 L285.9 431.3 L286.9 431.3 L287.9 431.3 L288.9 431.3 L290.0 431.3 L291.0 431.3 L292.0 431.3 L293.0 431.3 L294.0 431.3 L295.0 431.3 L296.0 431.3 L297.0 431.3 L298.0 431.3 L299.1 431.3 L300.1 431.3 L301.1 431.3 L302.1 431.3 L303.1 431.3 L304.1 431.3 L305.1 431.3 L306.1 431.3 L307.1 431.3 L308.1 431.3 L309.2 431.3 L310.2 431.3 L311.2 431.1 L312.2 431.3 L313.2 431.3 L314.2 431.3 L315.2 431.3 L316.2 431.3 L317.2 431.3 L318.2 431.3 L319.3 431.3 L320.3 431.3 L321.3 431.3 L322.3 431.3 L323.3 431.3 L324.3 431.3 L325.3 431.3 L326.3 431.3 L327.3 431.3 L328.3 431.3 L329.4 431.3 L330.4 431.3 L331.4 431.3 L332.4 431.3 L333.4 431.3 L334.4 431.3 L335.4 431.3 L336.4 431.3 L337.4 431.3 L338.5 431.3 L339.5 431.3 L340.5 431.3" fill="none" stroke="#1a1a1a" stroke-width="1.5" stroke-linejoin="round"/>
<rect x="151.7" y="261.6" width="189.3" height="170.0" fill="none" stroke="#7d7d7d" stroke-width="1.4"/>
<path d="M151.7 261.6 V431.6 H341.0" fill="none" stroke="#333" stroke-width="1.5"/>
<path d="M152.0 288.0 V431.6" stroke="#111" stroke-width="1.9"/>
<path d="M145.2 263.3 H151.7" stroke="#222" stroke-width="1.4"/>
<text x="142.2" y="270.7" text-anchor="end" class="tk">800</text>
<path d="M145.2 305.6 H151.7" stroke="#222" stroke-width="1.4"/>
<text x="142.2" y="310.5" text-anchor="end" class="tk">600</text>
<path d="M145.2 347.9 H151.7" stroke="#222" stroke-width="1.4"/>
<text x="142.2" y="352.8" text-anchor="end" class="tk">400</text>
<path d="M145.2 390.2 H151.7" stroke="#222" stroke-width="1.4"/>
<text x="142.2" y="395.1" text-anchor="end" class="tk">200</text>
<path d="M145.2 431.6 H151.7" stroke="#222" stroke-width="1.4"/>
<text x="142.8" y="431.9" text-anchor="end" class="tk">0</text>
<path d="M149.1 421.1 H151.7" stroke="#333" stroke-width="1"/>
<path d="M149.1 410.6 H151.7" stroke="#333" stroke-width="1"/>
<path d="M149.1 400.0 H151.7" stroke="#333" stroke-width="1"/>
<path d="M149.1 379.0 H151.7" stroke="#333" stroke-width="1"/>
<path d="M149.1 368.5 H151.7" stroke="#333" stroke-width="1"/>
<path d="M149.1 358.0 H151.7" stroke="#333" stroke-width="1"/>
<path d="M149.1 336.9 H151.7" stroke="#333" stroke-width="1"/>
<path d="M149.1 326.4 H151.7" stroke="#333" stroke-width="1"/>
<path d="M149.1 315.9 H151.7" stroke="#333" stroke-width="1"/>
<path d="M149.1 294.9 H151.7" stroke="#333" stroke-width="1"/>
<path d="M149.1 284.3 H151.7" stroke="#333" stroke-width="1"/>
<path d="M149.1 273.8 H151.7" stroke="#333" stroke-width="1"/>
<path d="M156.2 431.6 V433.9" stroke="#333" stroke-width="0.8"/>
<path d="M159.9 431.6 V435.5" stroke="#333" stroke-width="1.1"/>
<path d="M162.9 431.6 V433.9" stroke="#333" stroke-width="0.8"/>
<path d="M165.5 431.6 V433.9" stroke="#333" stroke-width="0.8"/>
<path d="M167.7 431.6 V433.9" stroke="#333" stroke-width="0.8"/>
<path d="M169.6 431.6 V433.9" stroke="#333" stroke-width="0.8"/>
<path d="M171.4 431.6 V436.8" stroke="#222" stroke-width="1.3"/>
<text x="171.3" y="452.8" class="tk ten">10</text><text x="180.7" y="446.3" class="sup">1</text>
<path d="M182.9 431.6 V433.9" stroke="#333" stroke-width="0.8"/>
<path d="M189.7 431.6 V433.9" stroke="#333" stroke-width="0.8"/>
<path d="M194.5 431.6 V433.9" stroke="#333" stroke-width="0.8"/>
<path d="M198.2 431.6 V435.5" stroke="#333" stroke-width="1.1"/>
<path d="M201.2 431.6 V433.9" stroke="#333" stroke-width="0.8"/>
<path d="M203.8 431.6 V433.9" stroke="#333" stroke-width="0.8"/>
<path d="M206.0 431.6 V433.9" stroke="#333" stroke-width="0.8"/>
<path d="M207.9 431.6 V433.9" stroke="#333" stroke-width="0.8"/>
<path d="M209.7 431.6 V436.8" stroke="#222" stroke-width="1.3"/>
<text x="209.6" y="452.8" class="tk ten">10</text><text x="219.0" y="446.3" class="sup">2</text>
<path d="M221.2 431.6 V433.9" stroke="#333" stroke-width="0.8"/>
<path d="M228.0 431.6 V433.9" stroke="#333" stroke-width="0.8"/>
<path d="M232.8 431.6 V433.9" stroke="#333" stroke-width="0.8"/>
<path d="M236.5 431.6 V435.5" stroke="#333" stroke-width="1.1"/>
<path d="M239.5 431.6 V433.9" stroke="#333" stroke-width="0.8"/>
<path d="M242.1 431.6 V433.9" stroke="#333" stroke-width="0.8"/>
<path d="M244.3 431.6 V433.9" stroke="#333" stroke-width="0.8"/>
<path d="M246.2 431.6 V433.9" stroke="#333" stroke-width="0.8"/>
<path d="M248.0 431.6 V436.8" stroke="#222" stroke-width="1.3"/>
<text x="247.9" y="452.8" class="tk ten">10</text><text x="257.3" y="446.3" class="sup">3</text>
<path d="M259.5 431.6 V433.9" stroke="#333" stroke-width="0.8"/>
<path d="M266.3 431.6 V433.9" stroke="#333" stroke-width="0.8"/>
<path d="M271.1 431.6 V433.9" stroke="#333" stroke-width="0.8"/>
<path d="M274.8 431.6 V435.5" stroke="#333" stroke-width="1.1"/>
<path d="M277.8 431.6 V433.9" stroke="#333" stroke-width="0.8"/>
<path d="M280.4 431.6 V433.9" stroke="#333" stroke-width="0.8"/>
<path d="M282.6 431.6 V433.9" stroke="#333" stroke-width="0.8"/>
<path d="M284.5 431.6 V433.9" stroke="#333" stroke-width="0.8"/>
<path d="M286.3 431.6 V436.8" stroke="#222" stroke-width="1.3"/>
<text x="286.2" y="452.8" class="tk ten">10</text><text x="295.6" y="446.3" class="sup">4</text>
<path d="M297.8 431.6 V433.9" stroke="#333" stroke-width="0.8"/>
<path d="M304.6 431.6 V433.9" stroke="#333" stroke-width="0.8"/>
<path d="M309.4 431.6 V433.9" stroke="#333" stroke-width="0.8"/>
<path d="M313.1 431.6 V435.5" stroke="#333" stroke-width="1.1"/>
<path d="M316.1 431.6 V433.9" stroke="#333" stroke-width="0.8"/>
<path d="M318.7 431.6 V433.9" stroke="#333" stroke-width="0.8"/>
<path d="M320.9 431.6 V433.9" stroke="#333" stroke-width="0.8"/>
<path d="M322.8 431.6 V433.9" stroke="#333" stroke-width="0.8"/>
<path d="M324.6 431.6 V436.8" stroke="#222" stroke-width="1.3"/>
<text x="324.5" y="452.8" class="tk ten">10</text><text x="333.9" y="446.3" class="sup">5</text>
<path d="M336.1 431.6 V433.9" stroke="#333" stroke-width="0.8"/>
<path d="M151.7 379.1 H238.1 M238.1 375.4 V390.8 M238.1 387.6 H341.0 M152.3 376.1 V382.1 M340.4 384.6 V390.6" fill="none" stroke="#2c2c2c" stroke-width="1.35"/>
<text x="156.5" y="278.4" class="lb">FITC-A-</text>
<text x="156.5" y="291.0" class="lb">71.4</text>
<text x="288.0" y="278.4" class="lb">FITC-A+</text>
<text x="320.5" y="291.0" class="lb" text-anchor="end">28.6</text>
<rect x="370.9" y="262.3" width="189.0" height="170.4" fill="#fff"/>
<path d="M371.2 432.4 L371.3 431.3 L371.2 431.3 L371.3 432.4 L372.2 432.4 L372.3 431.9 L372.5 431.9 L372.6 432.4 L374.3 432.4 L374.4 431.1 L374.6 431.1 L374.7 432.4 L375.3 432.4 L375.4 431.4 L375.3 431.4 L375.4 432.4 L376.3 432.4 L376.4 432.0 L376.9 432.0 L377.0 432.4 L378.4 432.4 L378.5 431.2 L379.0 431.2 L379.1 432.4 L380.4 432.4 L380.5 431.4 L381.0 431.4 L381.1 432.4 L382.5 432.4 L382.6 431.2 L382.8 431.2 L382.9 432.4 L384.5 432.4 L384.6 431.4 L384.8 431.4 L384.9 432.4 L386.6 432.4 L386.7 431.0 L386.6 431.0 L386.7 432.4 L387.6 432.4 L387.7 431.4 L387.9 431.4 L388.0 432.4 L388.6 432.4 L388.7 431.6 L388.9 431.6 L389.0 432.4 L389.7 432.4 L389.8 431.8 L390.0 431.8 L390.1 432.4 L391.7 432.4 L391.8 431.8 L392.3 431.8 L392.4 432.4 L393.8 432.4 L393.9 431.1 L394.1 431.1 L394.2 432.4 L394.8 432.4 L395.8 431.7 L396.8 432.3 L397.9 431.7 L398.9 431.3 L399.9 432.4 L400.9 431.7 L402.0 431.8 L403.0 431.9 L404.0 431.4 L405.1 431.5 L406.1 431.5 L407.2 432.1 L408.2 431.5 L409.3 431.6 L410.3 431.9 L411.4 432.2 L412.4 432.3 L413.5 431.4 L414.5 431.7 L415.6 431.2 L416.6 431.7 L417.7 432.3 L418.7 431.3 L419.8 430.0 L420.8 431.6 L421.9 430.6 L422.9 431.1 L424.0 431.5 L425.0 430.5 L426.1 429.9 L427.1 429.8 L428.2 429.7 L429.2 429.7 L430.3 430.6 L431.3 430.4 L432.4 430.3 L433.4 428.6 L434.5 428.9 L435.5 430.4 L436.6 427.9 L437.6 430.1 L438.7 427.6 L439.7 428.3 L440.8 428.5 L441.8 429.0 L442.9 426.7 L443.9 427.2 L445.0 427.2 L446.0 425.9 L447.1 428.1 L448.1 427.1 L449.2 428.3 L450.2 426.8 L451.3 429.3 L452.3 425.5 L453.4 427.6 L454.4 427.2 L455.5 425.6 L456.5 425.3 L457.6 427.0 L458.6 426.0 L459.7 425.1 L460.7 426.0 L461.8 425.7 L462.8 424.6 L463.9 423.8 L464.9 425.5 L466.0 423.3 L467.2 420.2 L468.5 420.4 L469.6 421.5 L470.7 423.2 L471.8 422.4 L473.0 422.4 L474.1 424.2 L475.2 424.2 L476.3 423.6 L477.5 423.8 L478.6 422.3 L479.6 423.4 L480.7 423.1 L481.7 421.6 L482.8 421.5 L483.8 421.7 L484.9 421.5 L485.9 420.1 L487.0 417.7 L488.0 417.1 L488.8 409.8 L489.8 408.6 L491.2 401.2 L492.4 394.0 L492.9 383.5 L494.3 376.5 L495.1 356.2 L496.9 343.6 L497.7 329.6 L499.1 312.7 L500.0 300.1 L501.3 287.4 L502.2 285.9 L503.5 276.8 L505.4 272.9 L507.2 297.1 L508.8 307.9 L509.4 328.1 L510.1 345.6 L511.7 367.1 L512.9 377.6 L513.9 391.3 L515.4 402.4 L516.4 410.9 L517.8 413.3 L518.5 418.2 L519.5 423.0 L520.6 425.2 L521.6 426.7 L522.7 428.7 L523.9 430.1 L525.0 431.3 L526.2 429.9 L527.4 431.0 L528.5 431.8 L529.7 431.3 L530.8 430.9 L531.9 432.3 L533.0 432.3 L534.2 431.6 L535.3 432.2 L536.3 432.4 L537.3 431.5 L538.3 431.2 L539.3 431.8 L540.3 432.4 L541.3 432.4 L542.3 431.7 L543.3 432.0 L544.3 432.4 L545.4 432.4 L546.4 432.4 L547.4 432.4 L548.4 432.3 L549.4 431.7 L550.4 431.7 L551.4 431.6 L552.4 432.2 L553.4 431.7 L554.4 432.2 L555.4 432.2 L556.4 432.4 L557.4 431.7 L558.5 431.7 L559.5 432.4 L560.5 432.0 L560.5 432.7 L371.2 432.7 Z" fill="#959595" stroke="none"/>
<path d="M371.2 432.4 L371.3 431.3 L371.2 431.3 L371.3 432.4 L372.2 432.4 L372.3 431.9 L372.5 431.9 L372.6 432.4 L374.3 432.4 L374.4 431.1 L374.6 431.1 L374.7 432.4 L375.3 432.4 L375.4 431.4 L375.3 431.4 L375.4 432.4 L376.3 432.4 L376.4 432.0 L376.9 432.0 L377.0 432.4 L378.4 432.4 L378.5 431.2 L379.0 431.2 L379.1 432.4 L380.4 432.4 L380.5 431.4 L381.0 431.4 L381.1 432.4 L382.5 432.4 L382.6 431.2 L382.8 431.2 L382.9 432.4 L384.5 432.4 L384.6 431.4 L384.8 431.4 L384.9 432.4 L386.6 432.4 L386.7 431.0 L386.6 431.0 L386.7 432.4 L387.6 432.4 L387.7 431.4 L387.9 431.4 L388.0 432.4 L388.6 432.4 L388.7 431.6 L388.9 431.6 L389.0 432.4 L389.7 432.4 L389.8 431.8 L390.0 431.8 L390.1 432.4 L391.7 432.4 L391.8 431.8 L392.3 431.8 L392.4 432.4 L393.8 432.4 L393.9 431.1 L394.1 431.1 L394.2 432.4 L394.8 432.4 L395.8 431.7 L396.8 432.3 L397.9 431.7 L398.9 431.3 L399.9 432.4 L400.9 431.7 L402.0 431.8 L403.0 431.9 L404.0 431.4 L405.1 431.5 L406.1 431.5 L407.2 432.1 L408.2 431.5 L409.3 431.6 L410.3 431.9 L411.4 432.2 L412.4 432.3 L413.5 431.4 L414.5 431.7 L415.6 431.2 L416.6 431.7 L417.7 432.3 L418.7 431.3 L419.8 430.0 L420.8 431.6 L421.9 430.6 L422.9 431.1 L424.0 431.5 L425.0 430.5 L426.1 429.9 L427.1 429.8 L428.2 429.7 L429.2 429.7 L430.3 430.6 L431.3 430.4 L432.4 430.3 L433.4 428.6 L434.5 428.9 L435.5 430.4 L436.6 427.9 L437.6 430.1 L438.7 427.6 L439.7 428.3 L440.8 428.5 L441.8 429.0 L442.9 426.7 L443.9 427.2 L445.0 427.2 L446.0 425.9 L447.1 428.1 L448.1 427.1 L449.2 428.3 L450.2 426.8 L451.3 429.3 L452.3 425.5 L453.4 427.6 L454.4 427.2 L455.5 425.6 L456.5 425.3 L457.6 427.0 L458.6 426.0 L459.7 425.1 L460.7 426.0 L461.8 425.7 L462.8 424.6 L463.9 423.8 L464.9 425.5 L466.0 423.3 L467.2 420.2 L468.5 420.4 L469.6 421.5 L470.7 423.2 L471.8 422.4 L473.0 422.4 L474.1 424.2 L475.2 424.2 L476.3 423.6 L477.5 423.8 L478.6 422.3 L479.6 423.4 L480.7 423.1 L481.7 421.6 L482.8 421.5 L483.8 421.7 L484.9 421.5 L485.9 420.1 L487.0 417.7 L488.0 417.1 L488.8 409.8 L489.8 408.6 L491.2 401.2 L492.4 394.0 L492.9 383.5 L494.3 376.5 L495.1 356.2 L496.9 343.6 L497.7 329.6 L499.1 312.7 L500.0 300.1 L501.3 287.4 L502.2 285.9 L503.5 276.8 L505.4 272.9 L507.2 297.1 L508.8 307.9 L509.4 328.1 L510.1 345.6 L511.7 367.1 L512.9 377.6 L513.9 391.3 L515.4 402.4 L516.4 410.9 L517.8 413.3 L518.5 418.2 L519.5 423.0 L520.6 425.2 L521.6 426.7 L522.7 428.7 L523.9 430.1 L525.0 431.3 L526.2 429.9 L527.4 431.0 L528.5 431.8 L529.7 431.3 L530.8 430.9 L531.9 432.3 L533.0 432.3 L534.2 431.6 L535.3 432.2 L536.3 432.4 L537.3 431.5 L538.3 431.2 L539.3 431.8 L540.3 432.4 L541.3 432.4 L542.3 431.7 L543.3 432.0 L544.3 432.4 L545.4 432.4 L546.4 432.4 L547.4 432.4 L548.4 432.3 L549.4 431.7 L550.4 431.7 L551.4 431.6 L552.4 432.2 L553.4 431.7 L554.4 432.2 L555.4 432.2 L556.4 432.4 L557.4 431.7 L558.5 431.7 L559.5 432.4 L560.5 432.0" fill="none" stroke="#1a1a1a" stroke-width="1.5" stroke-linejoin="round"/>
<rect x="506.3" y="272.0" width="1.5" height="26.0" fill="#dcdcdc" opacity="0.85"/>
<rect x="370.9" y="262.3" width="189.0" height="170.4" fill="none" stroke="#7d7d7d" stroke-width="1.4"/>
<path d="M370.9 262.3 V432.7 H559.9" fill="none" stroke="#333" stroke-width="1.5"/>
<path d="M371.2 410.0 V432.7" stroke="#111" stroke-width="1.9"/>
<path d="M364.4 266.0 H370.9" stroke="#222" stroke-width="1.4"/>
<text x="361.4" y="272.5" text-anchor="end" class="tk">1.0K</text>
<path d="M364.4 299.2 H370.9" stroke="#222" stroke-width="1.4"/>
<text x="361.4" y="304.1" text-anchor="end" class="tk">800</text>
<path d="M364.4 332.4 H370.9" stroke="#222" stroke-width="1.4"/>
<text x="361.4" y="337.3" text-anchor="end" class="tk">600</text>
<path d="M364.4 365.6 H370.9" stroke="#222" stroke-width="1.4"/>
<text x="361.4" y="370.5" text-anchor="end" class="tk">400</text>
<path d="M364.4 398.8 H370.9" stroke="#222" stroke-width="1.4"/>
<text x="361.4" y="403.7" text-anchor="end" class="tk">200</text>
<path d="M364.4 432.5 H370.9" stroke="#222" stroke-width="1.4"/>
<text x="362.0" y="432.8" text-anchor="end" class="tk">0</text>
<path d="M368.3 424.2 H370.9" stroke="#333" stroke-width="1"/>
<path d="M368.3 415.9 H370.9" stroke="#333" stroke-width="1"/>
<path d="M368.3 407.5 H370.9" stroke="#333" stroke-width="1"/>
<path d="M368.3 390.9 H370.9" stroke="#333" stroke-width="1"/>
<path d="M368.3 382.6 H370.9" stroke="#333" stroke-width="1"/>
<path d="M368.3 374.2 H370.9" stroke="#333" stroke-width="1"/>
<path d="M368.3 357.6 H370.9" stroke="#333" stroke-width="1"/>
<path d="M368.3 349.2 H370.9" stroke="#333" stroke-width="1"/>
<path d="M368.3 340.9 H370.9" stroke="#333" stroke-width="1"/>
<path d="M368.3 324.3 H370.9" stroke="#333" stroke-width="1"/>
<path d="M368.3 316.0 H370.9" stroke="#333" stroke-width="1"/>
<path d="M368.3 307.6 H370.9" stroke="#333" stroke-width="1"/>
<path d="M368.3 291.0 H370.9" stroke="#333" stroke-width="1"/>
<path d="M368.3 282.6 H370.9" stroke="#333" stroke-width="1"/>
<path d="M368.3 274.3 H370.9" stroke="#333" stroke-width="1"/>
<path d="M375.2 432.7 V435.0" stroke="#333" stroke-width="0.8"/>
<path d="M378.9 432.7 V436.6" stroke="#333" stroke-width="1.1"/>
<path d="M381.9 432.7 V435.0" stroke="#333" stroke-width="0.8"/>
<path d="M384.5 432.7 V435.0" stroke="#333" stroke-width="0.8"/>
<path d="M386.7 432.7 V435.0" stroke="#333" stroke-width="0.8"/>
<path d="M388.6 432.7 V435.0" stroke="#333" stroke-width="0.8"/>
<path d="M390.4 432.7 V437.9" stroke="#222" stroke-width="1.3"/>
<text x="390.3" y="453.9" class="tk ten">10</text><text x="399.7" y="447.4" class="sup">1</text>
<path d="M401.9 432.7 V435.0" stroke="#333" stroke-width="0.8"/>
<path d="M408.7 432.7 V435.0" stroke="#333" stroke-width="0.8"/>
<path d="M413.5 432.7 V435.0" stroke="#333" stroke-width="0.8"/>
<path d="M417.2 432.7 V436.6" stroke="#333" stroke-width="1.1"/>
<path d="M420.2 432.7 V435.0" stroke="#333" stroke-width="0.8"/>
<path d="M422.8 432.7 V435.0" stroke="#333" stroke-width="0.8"/>
<path d="M425.0 432.7 V435.0" stroke="#333" stroke-width="0.8"/>
<path d="M426.9 432.7 V435.0" stroke="#333" stroke-width="0.8"/>
<path d="M428.7 432.7 V437.9" stroke="#222" stroke-width="1.3"/>
<text x="428.6" y="453.9" class="tk ten">10</text><text x="438.0" y="447.4" class="sup">2</text>
<path d="M440.2 432.7 V435.0" stroke="#333" stroke-width="0.8"/>
<path d="M447.0 432.7 V435.0" stroke="#333" stroke-width="0.8"/>
<path d="M451.8 432.7 V435.0" stroke="#333" stroke-width="0.8"/>
<path d="M455.5 432.7 V436.6" stroke="#333" stroke-width="1.1"/>
<path d="M458.5 432.7 V435.0" stroke="#333" stroke-width="0.8"/>
<path d="M461.1 432.7 V435.0" stroke="#333" stroke-width="0.8"/>
<path d="M463.3 432.7 V435.0" stroke="#333" stroke-width="0.8"/>
<path d="M465.2 432.7 V435.0" stroke="#333" stroke-width="0.8"/>
<path d="M467.0 432.7 V437.9" stroke="#222" stroke-width="1.3"/>
<text x="466.9" y="453.9" class="tk ten">10</text><text x="476.3" y="447.4" class="sup">3</text>
<path d="M478.5 432.7 V435.0" stroke="#333" stroke-width="0.8"/>
<path d="M485.3 432.7 V435.0" stroke="#333" stroke-width="0.8"/>
<path d="M490.1 432.7 V435.0" stroke="#333" stroke-width="0.8"/>
<path d="M493.8 432.7 V436.6" stroke="#333" stroke-width="1.1"/>
<path d="M496.8 432.7 V435.0" stroke="#333" stroke-width="0.8"/>
<path d="M499.4 432.7 V435.0" stroke="#333" stroke-width="0.8"/>
<path d="M501.6 432.7 V435.0" stroke="#333" stroke-width="0.8"/>
<path d="M503.5 432.7 V435.0" stroke="#333" stroke-width="0.8"/>
<path d="M505.3 432.7 V437.9" stroke="#222" stroke-width="1.3"/>
<text x="505.2" y="453.9" class="tk ten">10</text><text x="514.6" y="447.4" class="sup">4</text>
<path d="M516.8 432.7 V435.0" stroke="#333" stroke-width="0.8"/>
<path d="M523.6 432.7 V435.0" stroke="#333" stroke-width="0.8"/>
<path d="M528.4 432.7 V435.0" stroke="#333" stroke-width="0.8"/>
<path d="M532.1 432.7 V436.6" stroke="#333" stroke-width="1.1"/>
<path d="M535.1 432.7 V435.0" stroke="#333" stroke-width="0.8"/>
<path d="M537.7 432.7 V435.0" stroke="#333" stroke-width="0.8"/>
<path d="M539.9 432.7 V435.0" stroke="#333" stroke-width="0.8"/>
<path d="M541.8 432.7 V435.0" stroke="#333" stroke-width="0.8"/>
<path d="M543.6 432.7 V437.9" stroke="#222" stroke-width="1.3"/>
<text x="543.5" y="453.9" class="tk ten">10</text><text x="552.9" y="447.4" class="sup">5</text>
<path d="M555.1 432.7 V435.0" stroke="#333" stroke-width="0.8"/>
<path d="M370.9 413.8 H458.1 M458.1 410.0 V424.8 M458.1 422.6 H559.9 M371.5 410.8 V416.8 M559.3 419.6 V425.6" fill="none" stroke="#2c2c2c" stroke-width="1.35"/>
<text x="375.7" y="279.1" class="lb">FITC-A-</text>
<text x="375.7" y="291.7" class="lb">5.84</text>
<text x="506.9" y="279.1" class="lb">FITC-A+</text>
<text x="539.4" y="291.7" class="lb" text-anchor="end">94.2</text>
<rect x="154.2" y="457.3" width="189.2" height="169.3" fill="#fff"/>
<path d="M154.5 626.3 L154.9 578.6 L155.1 581.2 L155.6 626.3 L156.6 626.3 L157.2 570.4 L158.0 573.6 L158.5 626.3 L158.8 626.3 L159.4 565.9 L159.9 565.9 L160.5 626.3 L161.5 626.3 L162.0 568.8 L162.5 571.0 L163.0 626.3 L164.2 626.3 L165.0 563.9 L165.2 564.9 L165.9 626.3 L167.4 626.3 L167.8 572.2 L169.1 574.4 L169.5 626.3 L169.6 626.3 L170.1 559.1 L171.4 559.4 L171.9 626.3 L172.3 626.3 L172.6 558.4 L173.5 562.2 L173.8 626.3 L173.6 626.3 L174.1 558.8 L174.5 560.3 L175.0 626.3 L176.0 626.3 L176.3 556.5 L177.2 557.4 L177.6 626.3 L178.2 555.4 L178.8 558.2 L180.4 555.2 L181.1 560.1 L182.5 558.9 L183.9 552.1 L184.9 491.7 L186.0 508.5 L187.1 564.9 L188.4 498.5 L189.8 508.6 L191.1 517.0 L192.2 504.5 L193.3 512.3 L194.4 474.6 L195.5 531.2 L196.5 486.8 L197.9 494.5 L198.7 539.0 L199.8 465.5 L200.8 502.3 L201.9 535.4 L203.0 496.6 L204.1 510.6 L205.2 497.0 L206.2 530.4 L207.3 494.3 L208.9 508.3 L210.5 501.2 L212.2 492.8 L213.5 509.4 L215.4 508.9 L217.0 511.6 L218.6 522.4 L220.3 535.4 L222.1 552.5 L224.0 568.0 L225.4 578.5 L226.2 587.2 L227.6 596.6 L228.3 603.2 L229.2 607.7 L230.5 614.0 L231.7 617.3 L232.9 620.9 L234.3 622.4 L235.6 624.4 L236.6 624.7 L237.6 624.3 L238.7 625.1 L239.7 625.3 L240.7 625.2 L241.7 625.2 L242.7 625.2 L243.7 625.9 L244.8 625.5 L245.8 626.0 L246.8 625.5 L247.8 626.0 L248.8 625.5 L249.9 625.8 L250.9 625.8 L251.9 626.1 L252.9 625.4 L253.9 626.0 L254.9 625.5 L256.0 625.9 L257.0 625.8 L258.0 626.0 L259.0 626.1 L260.0 626.3 L261.0 626.0 L262.0 626.1 L263.0 625.9 L264.0 626.0 L265.0 625.5 L266.0 626.1 L267.0 625.7 L268.0 626.3 L269.0 625.4 L270.0 626.3 L271.0 625.9 L272.0 626.3 L273.0 626.0 L274.0 625.8 L275.0 626.1 L276.0 626.1 L277.0 625.7 L278.0 626.3 L279.0 625.4 L280.0 625.9 L281.0 626.1 L282.0 625.9 L283.0 626.2 L284.0 625.5 L285.0 625.9 L286.0 626.3 L287.0 625.7 L288.0 625.9 L289.0 625.9 L290.0 626.1 L291.0 626.3 L292.0 626.1 L293.0 625.6 L294.1 625.7 L295.1 625.7 L296.1 625.8 L297.1 626.2 L298.1 626.3 L299.1 625.9 L300.1 626.1 L301.1 625.6 L302.1 625.8 L303.1 625.9 L304.1 625.9 L305.1 625.6 L306.1 625.7 L307.1 625.7 L308.1 625.9 L309.1 626.1 L310.1 626.1 L311.1 625.9 L312.1 626.2 L313.1 625.8 L314.1 625.8 L315.1 625.9 L316.1 626.1 L317.1 626.2 L318.1 626.0 L319.1 625.7 L320.1 626.3 L321.1 626.2 L322.1 625.9 L323.1 626.2 L324.1 625.7 L325.1 626.2 L326.1 626.0 L327.1 625.9 L328.1 625.1 L329.1 626.2 L330.1 625.8 L331.1 626.3 L332.1 625.9 L333.1 626.0 L334.1 626.3 L335.1 626.1 L336.1 625.7 L337.1 626.1 L338.1 625.1 L339.1 626.0 L340.1 626.0 L341.1 625.6 L342.1 626.0 L342.1 626.6 L154.5 626.6 Z" fill="#959595" stroke="none"/>
<path d="M154.2 626.6 L154.5 578.3 L158.8 570.2 L161.5 572.9 L164.2 568.9 L167.4 572.9 L169.6 562.1 L172.3 559.5 L175.0 558.1 L177.1 556.8 L177.4 556.8 L177.4 626.6 Z" fill="#151515" opacity="0.5"/>
<path d="M154.5 626.3 L154.9 578.6 L155.1 581.2 L155.6 626.3 L156.6 626.3 L157.2 570.4 L158.0 573.6 L158.5 626.3 L158.8 626.3 L159.4 565.9 L159.9 565.9 L160.5 626.3 L161.5 626.3 L162.0 568.8 L162.5 571.0 L163.0 626.3 L164.2 626.3 L165.0 563.9 L165.2 564.9 L165.9 626.3 L167.4 626.3 L167.8 572.2 L169.1 574.4 L169.5 626.3 L169.6 626.3 L170.1 559.1 L171.4 559.4 L171.9 626.3 L172.3 626.3 L172.6 558.4 L173.5 562.2 L173.8 626.3 L173.6 626.3 L174.1 558.8 L174.5 560.3 L175.0 626.3 L176.0 626.3 L176.3 556.5 L177.2 557.4 L177.6 626.3 L178.2 555.4 L178.8 558.2 L180.4 555.2 L181.1 560.1 L182.5 558.9 L183.9 552.1 L184.9 491.7 L186.0 508.5 L187.1 564.9 L188.4 498.5 L189.8 508.6 L191.1 517.0 L192.2 504.5 L193.3 512.3 L194.4 474.6 L195.5 531.2 L196.5 486.8 L197.9 494.5 L198.7 539.0 L199.8 465.5 L200.8 502.3 L201.9 535.4 L203.0 496.6 L204.1 510.6 L205.2 497.0 L206.2 530.4 L207.3 494.3 L208.9 508.3 L210.5 501.2 L212.2 492.8 L213.5 509.4 L215.4 508.9 L217.0 511.6 L218.6 522.4 L220.3 535.4 L222.1 552.5 L224.0 568.0 L225.4 578.5 L226.2 587.2 L227.6 596.6 L228.3 603.2 L229.2 607.7 L230.5 614.0 L231.7 617.3 L232.9 620.9 L234.3 622.4 L235.6 624.4 L236.6 624.7 L237.6 624.3 L238.7 625.1 L239.7 625.3 L240.7 625.2 L241.7 625.2 L242.7 625.2 L243.7 625.9 L244.8 625.5 L245.8 626.0 L246.8 625.5 L247.8 626.0 L248.8 625.5 L249.9 625.8 L250.9 625.8 L251.9 626.1 L252.9 625.4 L253.9 626.0 L254.9 625.5 L256.0 625.9 L257.0 625.8 L258.0 626.0 L259.0 626.1 L260.0 626.3 L261.0 626.0 L262.0 626.1 L263.0 625.9 L264.0 626.0 L265.0 625.5 L266.0 626.1 L267.0 625.7 L268.0 626.3 L269.0 625.4 L270.0 626.3 L271.0 625.9 L272.0 626.3 L273.0 626.0 L274.0 625.8 L275.0 626.1 L276.0 626.1 L277.0 625.7 L278.0 626.3 L279.0 625.4 L280.0 625.9 L281.0 626.1 L282.0 625.9 L283.0 626.2 L284.0 625.5 L285.0 625.9 L286.0 626.3 L287.0 625.7 L288.0 625.9 L289.0 625.9 L290.0 626.1 L291.0 626.3 L292.0 626.1 L293.0 625.6 L294.1 625.7 L295.1 625.7 L296.1 625.8 L297.1 626.2 L298.1 626.3 L299.1 625.9 L300.1 626.1 L301.1 625.6 L302.1 625.8 L303.1 625.9 L304.1 625.9 L305.1 625.6 L306.1 625.7 L307.1 625.7 L308.1 625.9 L309.1 626.1 L310.1 626.1 L311.1 625.9 L312.1 626.2 L313.1 625.8 L314.1 625.8 L315.1 625.9 L316.1 626.1 L317.1 626.2 L318.1 626.0 L319.1 625.7 L320.1 626.3 L321.1 626.2 L322.1 625.9 L323.1 626.2 L324.1 625.7 L325.1 626.2 L326.1 626.0 L327.1 625.9 L328.1 625.1 L329.1 626.2 L330.1 625.8 L331.1 626.3 L332.1 625.9 L333.1 626.0 L334.1 626.3 L335.1 626.1 L336.1 625.7 L337.1 626.1 L338.1 625.1 L339.1 626.0 L340.1 626.0 L341.1 625.6 L342.1 626.0" fill="none" stroke="#1a1a1a" stroke-width="1.5" stroke-linejoin="round"/>
<rect x="154.2" y="457.3" width="189.2" height="169.3" fill="none" stroke="#7d7d7d" stroke-width="1.4"/>
<path d="M154.2 457.3 V626.6 H343.4" fill="none" stroke="#333" stroke-width="1.5"/>
<path d="M147.7 483.7 H154.2" stroke="#222" stroke-width="1.4"/>
<text x="144.7" y="488.6" text-anchor="end" class="tk">600</text>
<path d="M147.7 531.4 H154.2" stroke="#222" stroke-width="1.4"/>
<text x="144.7" y="536.3" text-anchor="end" class="tk">400</text>
<path d="M147.7 579.1 H154.2" stroke="#222" stroke-width="1.4"/>
<text x="144.7" y="584.0" text-anchor="end" class="tk">200</text>
<path d="M147.7 626.4 H154.2" stroke="#222" stroke-width="1.4"/>
<text x="145.3" y="626.7" text-anchor="end" class="tk">0</text>
<path d="M151.6 614.5 H154.2" stroke="#333" stroke-width="1"/>
<path d="M151.6 602.6 H154.2" stroke="#333" stroke-width="1"/>
<path d="M151.6 590.7 H154.2" stroke="#333" stroke-width="1"/>
<path d="M151.6 566.9 H154.2" stroke="#333" stroke-width="1"/>
<path d="M151.6 555.0 H154.2" stroke="#333" stroke-width="1"/>
<path d="M151.6 543.2 H154.2" stroke="#333" stroke-width="1"/>
<path d="M151.6 519.4 H154.2" stroke="#333" stroke-width="1"/>
<path d="M151.6 507.5 H154.2" stroke="#333" stroke-width="1"/>
<path d="M151.6 495.6 H154.2" stroke="#333" stroke-width="1"/>
<path d="M151.6 471.8 H154.2" stroke="#333" stroke-width="1"/>
<path d="M151.6 459.9 H154.2" stroke="#333" stroke-width="1"/>
<path d="M158.7 626.6 V628.9" stroke="#333" stroke-width="0.8"/>
<path d="M162.4 626.6 V630.5" stroke="#333" stroke-width="1.1"/>
<path d="M165.4 626.6 V628.9" stroke="#333" stroke-width="0.8"/>
<path d="M167.9 626.6 V628.9" stroke="#333" stroke-width="0.8"/>
<path d="M170.1 626.6 V628.9" stroke="#333" stroke-width="0.8"/>
<path d="M172.1 626.6 V628.9" stroke="#333" stroke-width="0.8"/>
<path d="M173.8 626.6 V631.8" stroke="#222" stroke-width="1.3"/>
<text x="173.7" y="647.8" class="tk ten">10</text><text x="183.1" y="641.3" class="sup">1</text>
<path d="M185.2 626.6 V628.9" stroke="#333" stroke-width="0.8"/>
<path d="M191.9 626.6 V628.9" stroke="#333" stroke-width="0.8"/>
<path d="M196.6 626.6 V628.9" stroke="#333" stroke-width="0.8"/>
<path d="M200.3 626.6 V630.5" stroke="#333" stroke-width="1.1"/>
<path d="M203.3 626.6 V628.9" stroke="#333" stroke-width="0.8"/>
<path d="M205.8 626.6 V628.9" stroke="#333" stroke-width="0.8"/>
<path d="M208.0 626.6 V628.9" stroke="#333" stroke-width="0.8"/>
<path d="M210.0 626.6 V628.9" stroke="#333" stroke-width="0.8"/>
<path d="M211.7 626.6 V631.8" stroke="#222" stroke-width="1.3"/>
<text x="211.6" y="647.8" class="tk ten">10</text><text x="221.0" y="641.3" class="sup">2</text>
<path d="M223.1 626.6 V628.9" stroke="#333" stroke-width="0.8"/>
<path d="M229.8 626.6 V628.9" stroke="#333" stroke-width="0.8"/>
<path d="M234.5 626.6 V628.9" stroke="#333" stroke-width="0.8"/>
<path d="M238.2 626.6 V630.5" stroke="#333" stroke-width="1.1"/>
<path d="M241.2 626.6 V628.9" stroke="#333" stroke-width="0.8"/>
<path d="M243.7 626.6 V628.9" stroke="#333" stroke-width="0.8"/>
<path d="M245.9 626.6 V628.9" stroke="#333" stroke-width="0.8"/>
<path d="M247.9 626.6 V628.9" stroke="#333" stroke-width="0.8"/>
<path d="M249.6 626.6 V631.8" stroke="#222" stroke-width="1.3"/>
<text x="249.5" y="647.8" class="tk ten">10</text><text x="258.9" y="641.3" class="sup">3</text>
<path d="M261.0 626.6 V628.9" stroke="#333" stroke-width="0.8"/>
<path d="M267.7 626.6 V628.9" stroke="#333" stroke-width="0.8"/>
<path d="M272.4 626.6 V628.9" stroke="#333" stroke-width="0.8"/>
<path d="M276.1 626.6 V630.5" stroke="#333" stroke-width="1.1"/>
<path d="M279.1 626.6 V628.9" stroke="#333" stroke-width="0.8"/>
<path d="M281.6 626.6 V628.9" stroke="#333" stroke-width="0.8"/>
<path d="M283.8 626.6 V628.9" stroke="#333" stroke-width="0.8"/>
<path d="M285.8 626.6 V628.9" stroke="#333" stroke-width="0.8"/>
<path d="M287.5 626.6 V631.8" stroke="#222" stroke-width="1.3"/>
<text x="287.4" y="647.8" class="tk ten">10</text><text x="296.8" y="641.3" class="sup">4</text>
<path d="M298.9 626.6 V628.9" stroke="#333" stroke-width="0.8"/>
<path d="M305.6 626.6 V628.9" stroke="#333" stroke-width="0.8"/>
<path d="M310.3 626.6 V628.9" stroke="#333" stroke-width="0.8"/>
<path d="M314.0 626.6 V630.5" stroke="#333" stroke-width="1.1"/>
<path d="M317.0 626.6 V628.9" stroke="#333" stroke-width="0.8"/>
<path d="M319.5 626.6 V628.9" stroke="#333" stroke-width="0.8"/>
<path d="M321.7 626.6 V628.9" stroke="#333" stroke-width="0.8"/>
<path d="M323.7 626.6 V628.9" stroke="#333" stroke-width="0.8"/>
<path d="M325.4 626.6 V631.8" stroke="#222" stroke-width="1.3"/>
<text x="325.3" y="647.8" class="tk ten">10</text><text x="334.7" y="641.3" class="sup">5</text>
<path d="M336.8 626.6 V628.9" stroke="#333" stroke-width="0.8"/>
<path d="M154.2 593.8 H242.2 M242.2 589.8 V606.5 M242.2 602.1 H343.4 M154.8 590.8 V596.8 M342.8 599.1 V605.1" fill="none" stroke="#2c2c2c" stroke-width="1.35"/>
<text x="159.0" y="473.3" class="lb">FITC-A-</text>
<text x="159.0" y="486.7" class="lb">99.7</text>
<text x="290.4" y="473.3" class="lb">FITC-A+</text>
<text x="322.9" y="486.7" class="lb" text-anchor="end">0.31</text>
<rect x="369.1" y="455.5" width="191.3" height="171.6" fill="#fff"/>
<path d="M369.5 626.8 L370.3 572.1 L370.5 572.3 L371.2 626.8 L372.7 626.8 L373.3 569.1 L373.5 570.4 L374.1 626.8 L375.1 626.8 L375.7 565.9 L376.5 564.4 L377.2 626.8 L377.8 626.8 L378.4 571.2 L379.2 570.4 L379.7 626.8 L380.5 626.8 L381.0 569.0 L381.5 569.4 L381.9 626.8 L383.2 626.8 L383.5 565.1 L384.4 564.9 L384.7 626.8 L384.6 626.8 L385.0 564.6 L385.9 565.3 L386.3 626.8 L387.3 626.8 L387.8 559.7 L388.2 558.9 L388.7 626.8 L390.0 626.8 L390.3 560.0 L391.6 559.8 L391.9 626.8 L392.1 626.8 L392.5 560.8 L393.4 561.1 L393.8 626.8 L393.2 562.2 L394.7 560.0 L395.4 556.5 L396.0 575.3 L397.5 561.8 L399.1 566.4 L400.2 501.4 L401.3 563.6 L402.4 499.1 L403.4 507.8 L404.8 492.9 L406.1 501.2 L407.5 495.7 L408.8 522.3 L409.9 506.6 L411.0 474.7 L412.1 520.1 L413.1 482.8 L414.2 526.8 L415.3 463.9 L416.4 498.7 L417.5 519.8 L418.5 508.3 L419.6 541.0 L420.7 532.2 L421.8 552.7 L422.9 563.3 L424.5 575.6 L426.1 590.1 L427.7 601.9 L428.5 607.6 L429.9 611.4 L430.9 614.2 L432.0 617.9 L433.4 620.4 L434.7 622.1 L436.0 622.9 L437.2 623.9 L438.5 624.7 L439.6 625.3 L440.6 625.0 L441.7 625.4 L442.8 625.3 L443.9 625.9 L444.9 625.9 L445.9 625.9 L446.9 625.6 L447.9 626.0 L448.9 625.9 L449.9 625.7 L450.9 626.2 L451.9 626.1 L452.9 626.5 L453.9 626.4 L454.9 626.4 L455.9 626.3 L456.9 626.1 L457.9 626.2 L458.9 626.8 L459.9 625.8 L461.0 626.5 L462.0 626.1 L463.0 625.7 L464.0 625.4 L465.0 626.2 L466.0 626.1 L467.0 626.5 L468.0 626.0 L469.0 626.4 L470.0 626.2 L471.0 626.5 L472.0 626.7 L473.0 626.6 L474.0 626.4 L475.0 626.7 L476.0 626.4 L477.0 626.2 L478.0 626.7 L479.1 626.1 L480.1 626.3 L481.1 626.0 L482.1 626.8 L483.1 626.6 L484.1 626.7 L485.1 626.8 L486.1 626.4 L487.1 626.5 L488.1 626.7 L489.2 626.0 L490.2 626.6 L491.2 626.3 L492.2 626.5 L493.2 626.4 L494.2 626.3 L495.2 626.2 L496.2 626.4 L497.2 626.7 L498.2 626.3 L499.2 626.0 L500.3 626.3 L501.3 626.4 L502.3 626.8 L503.3 626.7 L504.3 626.1 L505.3 626.1 L506.3 626.8 L507.3 626.3 L508.3 626.5 L509.3 626.5 L510.4 626.3 L511.4 626.6 L512.4 626.4 L513.4 626.8 L514.4 626.7 L515.4 626.8 L516.4 625.9 L517.4 626.6 L518.4 626.8 L519.4 626.8 L520.4 626.6 L521.5 626.8 L522.5 626.5 L523.5 626.2 L524.5 626.8 L525.5 626.8 L526.5 626.7 L527.5 626.1 L528.5 626.7 L529.5 626.7 L530.5 626.5 L531.5 626.3 L532.6 626.1 L533.6 626.3 L534.6 626.8 L535.6 626.4 L536.6 626.4 L537.6 626.6 L538.6 626.5 L539.6 626.3 L540.6 626.5 L541.6 626.8 L542.7 626.2 L543.7 626.1 L544.7 626.6 L545.7 626.8 L546.7 626.6 L547.7 626.3 L548.7 626.2 L549.7 626.2 L550.7 625.8 L551.7 626.2 L552.7 626.8 L553.8 626.4 L554.8 626.8 L555.8 626.3 L556.8 626.6 L557.8 626.8 L558.8 626.8 L559.8 626.4 L559.8 627.1 L369.5 627.1 Z" fill="#959595" stroke="none"/>
<path d="M369.1 627.1 L369.5 575.6 L373.8 571.6 L376.5 571.6 L379.2 572.9 L381.9 566.2 L384.6 567.5 L387.3 564.8 L390.0 566.2 L392.1 563.5 L392.4 563.5 L392.4 627.1 Z" fill="#151515" opacity="0.5"/>
<path d="M369.5 626.8 L370.3 572.1 L370.5 572.3 L371.2 626.8 L372.7 626.8 L373.3 569.1 L373.5 570.4 L374.1 626.8 L375.1 626.8 L375.7 565.9 L376.5 564.4 L377.2 626.8 L377.8 626.8 L378.4 571.2 L379.2 570.4 L379.7 626.8 L380.5 626.8 L381.0 569.0 L381.5 569.4 L381.9 626.8 L383.2 626.8 L383.5 565.1 L384.4 564.9 L384.7 626.8 L384.6 626.8 L385.0 564.6 L385.9 565.3 L386.3 626.8 L387.3 626.8 L387.8 559.7 L388.2 558.9 L388.7 626.8 L390.0 626.8 L390.3 560.0 L391.6 559.8 L391.9 626.8 L392.1 626.8 L392.5 560.8 L393.4 561.1 L393.8 626.8 L393.2 562.2 L394.7 560.0 L395.4 556.5 L396.0 575.3 L397.5 561.8 L399.1 566.4 L400.2 501.4 L401.3 563.6 L402.4 499.1 L403.4 507.8 L404.8 492.9 L406.1 501.2 L407.5 495.7 L408.8 522.3 L409.9 506.6 L411.0 474.7 L412.1 520.1 L413.1 482.8 L414.2 526.8 L415.3 463.9 L416.4 498.7 L417.5 519.8 L418.5 508.3 L419.6 541.0 L420.7 532.2 L421.8 552.7 L422.9 563.3 L424.5 575.6 L426.1 590.1 L427.7 601.9 L428.5 607.6 L429.9 611.4 L430.9 614.2 L432.0 617.9 L433.4 620.4 L434.7 622.1 L436.0 622.9 L437.2 623.9 L438.5 624.7 L439.6 625.3 L440.6 625.0 L441.7 625.4 L442.8 625.3 L443.9 625.9 L444.9 625.9 L445.9 625.9 L446.9 625.6 L447.9 626.0 L448.9 625.9 L449.9 625.7 L450.9 626.2 L451.9 626.1 L452.9 626.5 L453.9 626.4 L454.9 626.4 L455.9 626.3 L456.9 626.1 L457.9 626.2 L458.9 626.8 L459.9 625.8 L461.0 626.5 L462.0 626.1 L463.0 625.7 L464.0 625.4 L465.0 626.2 L466.0 626.1 L467.0 626.5 L468.0 626.0 L469.0 626.4 L470.0 626.2 L471.0 626.5 L472.0 626.7 L473.0 626.6 L474.0 626.4 L475.0 626.7 L476.0 626.4 L477.0 626.2 L478.0 626.7 L479.1 626.1 L480.1 626.3 L481.1 626.0 L482.1 626.8 L483.1 626.6 L484.1 626.7 L485.1 626.8 L486.1 626.4 L487.1 626.5 L488.1 626.7 L489.2 626.0 L490.2 626.6 L491.2 626.3 L492.2 626.5 L493.2 626.4 L494.2 626.3 L495.2 626.2 L496.2 626.4 L497.2 626.7 L498.2 626.3 L499.2 626.0 L500.3 626.3 L501.3 626.4 L502.3 626.8 L503.3 626.7 L504.3 626.1 L505.3 626.1 L506.3 626.8 L507.3 626.3 L508.3 626.5 L509.3 626.5 L510.4 626.3 L511.4 626.6 L512.4 626.4 L513.4 626.8 L514.4 626.7 L515.4 626.8 L516.4 625.9 L517.4 626.6 L518.4 626.8 L519.4 626.8 L520.4 626.6 L521.5 626.8 L522.5 626.5 L523.5 626.2 L524.5 626.8 L525.5 626.8 L526.5 626.7 L527.5 626.1 L528.5 626.7 L529.5 626.7 L530.5 626.5 L531.5 626.3 L532.6 626.1 L533.6 626.3 L534.6 626.8 L535.6 626.4 L536.6 626.4 L537.6 626.6 L538.6 626.5 L539.6 626.3 L540.6 626.5 L541.6 626.8 L542.7 626.2 L543.7 626.1 L544.7 626.6 L545.7 626.8 L546.7 626.6 L547.7 626.3 L548.7 626.2 L549.7 626.2 L550.7 625.8 L551.7 626.2 L552.7 626.8 L553.8 626.4 L554.8 626.8 L555.8 626.3 L556.8 626.6 L557.8 626.8 L558.8 626.8 L559.8 626.4" fill="none" stroke="#1a1a1a" stroke-width="1.5" stroke-linejoin="round"/>
<rect x="369.1" y="455.5" width="191.3" height="171.6" fill="none" stroke="#7d7d7d" stroke-width="1.4"/>
<path d="M369.1 455.5 V627.1 H560.4" fill="none" stroke="#333" stroke-width="1.5"/>
<path d="M362.6 467.3 H369.1" stroke="#222" stroke-width="1.4"/>
<text x="359.6" y="472.2" text-anchor="end" class="tk">600</text>
<path d="M362.6 520.6 H369.1" stroke="#222" stroke-width="1.4"/>
<text x="359.6" y="525.5" text-anchor="end" class="tk">400</text>
<path d="M362.6 573.9 H369.1" stroke="#222" stroke-width="1.4"/>
<text x="359.6" y="578.8" text-anchor="end" class="tk">200</text>
<path d="M362.6 627.0 H369.1" stroke="#222" stroke-width="1.4"/>
<text x="360.2" y="627.3" text-anchor="end" class="tk">0</text>
<path d="M366.5 613.7 H369.1" stroke="#333" stroke-width="1"/>
<path d="M366.5 600.4 H369.1" stroke="#333" stroke-width="1"/>
<path d="M366.5 587.1 H369.1" stroke="#333" stroke-width="1"/>
<path d="M366.5 560.5 H369.1" stroke="#333" stroke-width="1"/>
<path d="M366.5 547.1 H369.1" stroke="#333" stroke-width="1"/>
<path d="M366.5 533.8 H369.1" stroke="#333" stroke-width="1"/>
<path d="M366.5 507.2 H369.1" stroke="#333" stroke-width="1"/>
<path d="M366.5 493.9 H369.1" stroke="#333" stroke-width="1"/>
<path d="M366.5 480.6 H369.1" stroke="#333" stroke-width="1"/>
<path d="M374.0 627.1 V629.4" stroke="#333" stroke-width="0.8"/>
<path d="M377.7 627.1 V631.0" stroke="#333" stroke-width="1.1"/>
<path d="M380.7 627.1 V629.4" stroke="#333" stroke-width="0.8"/>
<path d="M383.3 627.1 V629.4" stroke="#333" stroke-width="0.8"/>
<path d="M385.6 627.1 V629.4" stroke="#333" stroke-width="0.8"/>
<path d="M387.5 627.1 V629.4" stroke="#333" stroke-width="0.8"/>
<path d="M389.3 627.1 V632.3" stroke="#222" stroke-width="1.3"/>
<text x="389.2" y="648.3" class="tk ten">10</text><text x="398.6" y="641.8" class="sup">1</text>
<path d="M400.9 627.1 V629.4" stroke="#333" stroke-width="0.8"/>
<path d="M407.7 627.1 V629.4" stroke="#333" stroke-width="0.8"/>
<path d="M412.5 627.1 V629.4" stroke="#333" stroke-width="0.8"/>
<path d="M416.2 627.1 V631.0" stroke="#333" stroke-width="1.1"/>
<path d="M419.3 627.1 V629.4" stroke="#333" stroke-width="0.8"/>
<path d="M421.9 627.1 V629.4" stroke="#333" stroke-width="0.8"/>
<path d="M424.1 627.1 V629.4" stroke="#333" stroke-width="0.8"/>
<path d="M426.1 627.1 V629.4" stroke="#333" stroke-width="0.8"/>
<path d="M427.9 627.1 V632.3" stroke="#222" stroke-width="1.3"/>
<text x="427.8" y="648.3" class="tk ten">10</text><text x="437.2" y="641.8" class="sup">2</text>
<path d="M439.5 627.1 V629.4" stroke="#333" stroke-width="0.8"/>
<path d="M446.2 627.1 V629.4" stroke="#333" stroke-width="0.8"/>
<path d="M451.1 627.1 V629.4" stroke="#333" stroke-width="0.8"/>
<path d="M454.8 627.1 V631.0" stroke="#333" stroke-width="1.1"/>
<path d="M457.8 627.1 V629.4" stroke="#333" stroke-width="0.8"/>
<path d="M460.4 627.1 V629.4" stroke="#333" stroke-width="0.8"/>
<path d="M462.7 627.1 V629.4" stroke="#333" stroke-width="0.8"/>
<path d="M464.6 627.1 V629.4" stroke="#333" stroke-width="0.8"/>
<path d="M466.4 627.1 V632.3" stroke="#222" stroke-width="1.3"/>
<text x="466.3" y="648.3" class="tk ten">10</text><text x="475.7" y="641.8" class="sup">3</text>
<path d="M478.0 627.1 V629.4" stroke="#333" stroke-width="0.8"/>
<path d="M484.8 627.1 V629.4" stroke="#333" stroke-width="0.8"/>
<path d="M489.6 627.1 V629.4" stroke="#333" stroke-width="0.8"/>
<path d="M493.3 627.1 V631.0" stroke="#333" stroke-width="1.1"/>
<path d="M496.4 627.1 V629.4" stroke="#333" stroke-width="0.8"/>
<path d="M499.0 627.1 V629.4" stroke="#333" stroke-width="0.8"/>
<path d="M501.2 627.1 V629.4" stroke="#333" stroke-width="0.8"/>
<path d="M503.2 627.1 V629.4" stroke="#333" stroke-width="0.8"/>
<path d="M504.9 627.1 V632.3" stroke="#222" stroke-width="1.3"/>
<text x="504.8" y="648.3" class="tk ten">10</text><text x="514.2" y="641.8" class="sup">4</text>
<path d="M516.6 627.1 V629.4" stroke="#333" stroke-width="0.8"/>
<path d="M523.3 627.1 V629.4" stroke="#333" stroke-width="0.8"/>
<path d="M528.2 627.1 V629.4" stroke="#333" stroke-width="0.8"/>
<path d="M531.9 627.1 V631.0" stroke="#333" stroke-width="1.1"/>
<path d="M534.9 627.1 V629.4" stroke="#333" stroke-width="0.8"/>
<path d="M537.5 627.1 V629.4" stroke="#333" stroke-width="0.8"/>
<path d="M539.8 627.1 V629.4" stroke="#333" stroke-width="0.8"/>
<path d="M541.7 627.1 V629.4" stroke="#333" stroke-width="0.8"/>
<path d="M543.5 627.1 V632.3" stroke="#222" stroke-width="1.3"/>
<text x="543.4" y="648.3" class="tk ten">10</text><text x="552.8" y="641.8" class="sup">5</text>
<path d="M555.1 627.1 V629.4" stroke="#333" stroke-width="0.8"/>
<path d="M369.1 566.5 H457.2 M457.2 562.2 V578.8 M457.2 574.8 H560.4 M369.7 563.5 V569.5 M559.8 571.8 V577.8" fill="none" stroke="#2c2c2c" stroke-width="1.35"/>
<text x="373.9" y="471.5" class="lb">FITC-A-</text>
<text x="373.9" y="484.9" class="lb">99.9</text>
<text x="507.4" y="471.5" class="lb">FITC-A+</text>
<text x="539.9" y="484.9" class="lb" text-anchor="end">0.071</text>
<rect x="821.7" y="64.1" width="189.5" height="169.5" fill="#fff"/>
<path d="M822.9 233.3 L823.0 231.4 L823.2 231.5 L823.3 233.3 L823.9 233.3 L824.0 231.2 L824.5 231.2 L824.6 233.3 L824.9 233.3 L825.0 231.1 L824.9 231.2 L825.0 233.3 L825.9 233.3 L826.0 230.8 L826.2 230.8 L826.3 233.3 L827.9 233.3 L828.0 231.1 L828.5 231.0 L828.6 233.3 L829.9 233.3 L830.0 230.8 L829.9 230.7 L830.0 233.3 L830.9 233.3 L831.0 231.6 L831.5 231.6 L831.6 233.3 L831.9 233.3 L832.0 231.6 L832.5 231.6 L832.6 233.3 L833.9 233.3 L834.0 230.7 L833.9 230.7 L834.0 233.3 L834.9 233.3 L835.0 230.3 L835.5 230.3 L835.6 233.3 L836.9 233.3 L837.0 231.2 L837.2 231.2 L837.3 233.3 L837.9 233.3 L838.0 230.5 L838.2 230.5 L838.3 233.3 L838.9 233.3 L839.0 230.9 L839.5 231.0 L839.6 233.3 L840.9 233.3 L841.0 231.3 L841.2 231.3 L841.3 233.3 L841.9 233.3 L842.0 231.3 L841.9 231.4 L842.0 233.3 L842.9 233.3 L843.0 230.3 L843.5 230.3 L843.6 233.3 L843.9 233.3 L844.0 230.4 L844.2 230.4 L844.3 233.3 L844.9 233.3 L845.0 230.6 L845.5 230.6 L845.6 233.3 L845.9 231.4 L846.9 231.1 L848.0 232.0 L849.0 229.9 L850.1 230.6 L851.2 231.1 L852.2 229.7 L853.3 229.3 L854.3 230.7 L855.4 230.1 L856.4 231.0 L857.5 228.9 L858.6 230.4 L859.6 230.6 L860.7 228.4 L861.7 228.2 L862.8 228.8 L863.9 229.1 L864.9 228.1 L866.0 227.8 L867.1 228.2 L868.2 229.0 L869.2 226.9 L870.3 227.5 L871.4 228.1 L872.5 225.1 L873.6 226.7 L874.6 227.1 L875.7 228.2 L876.8 225.7 L877.9 225.6 L879.0 227.3 L880.0 226.3 L881.1 224.6 L882.2 225.5 L883.3 225.4 L884.4 226.8 L885.4 225.8 L886.5 225.4 L887.6 223.9 L888.7 225.3 L889.7 225.4 L890.8 223.9 L891.9 224.3 L893.0 222.7 L894.1 222.2 L895.1 223.8 L896.2 222.6 L897.2 221.4 L898.3 220.0 L899.3 221.1 L900.3 221.7 L901.4 221.9 L902.4 220.3 L903.4 220.1 L904.5 220.1 L905.6 218.6 L906.1 217.0 L907.6 216.1 L908.8 216.3 L909.8 214.8 L911.4 208.9 L912.4 206.7 L913.7 201.8 L914.9 198.2 L916.0 196.4 L917.5 191.8 L918.4 182.5 L919.6 177.9 L921.0 168.9 L921.7 164.9 L923.2 153.9 L924.4 139.8 L925.9 132.7 L926.8 121.9 L928.0 109.0 L929.3 87.0 L930.4 80.5 L932.2 76.3 L933.9 78.3 L934.7 91.5 L935.5 84.6 L936.9 70.2 L938.7 89.0 L939.8 78.1 L941.2 73.9 L942.6 80.4 L943.7 84.3 L944.5 90.0 L945.8 102.4 L947.0 118.1 L948.4 130.7 L949.6 148.2 L950.9 163.8 L951.9 181.0 L953.8 193.2 L954.7 202.1 L956.6 213.9 L957.9 219.8 L959.2 224.9 L960.4 227.6 L961.6 228.4 L962.7 230.3 L963.9 230.7 L965.0 231.0 L966.1 231.6 L967.2 230.5 L968.4 232.1 L969.5 232.0 L970.6 232.0 L971.7 232.2 L972.8 232.2 L973.9 232.5 L974.9 231.8 L976.0 233.2 L977.0 232.6 L978.1 231.9 L979.1 232.3 L980.2 232.1 L981.3 232.3 L982.3 231.9 L983.4 232.5 L984.4 232.3 L985.5 233.3 L986.5 232.5 L987.6 232.8 L988.7 233.0 L989.7 232.9 L990.8 232.3 L991.8 232.8 L992.8 232.4 L993.9 232.3 L994.9 233.0 L996.0 232.6 L997.0 232.4 L998.0 233.0 L999.1 233.3 L1000.1 232.2 L1001.2 233.0 L1002.2 233.3 L1003.3 232.5 L1004.3 232.7 L1005.3 232.5 L1006.4 233.2 L1007.4 232.2 L1008.5 232.4 L1009.5 232.7 L1009.5 233.6 L822.9 233.6 Z" fill="#959595" stroke="none"/>
<path d="M822.9 233.3 L823.0 231.4 L823.2 231.5 L823.3 233.3 L823.9 233.3 L824.0 231.2 L824.5 231.2 L824.6 233.3 L824.9 233.3 L825.0 231.1 L824.9 231.2 L825.0 233.3 L825.9 233.3 L826.0 230.8 L826.2 230.8 L826.3 233.3 L827.9 233.3 L828.0 231.1 L828.5 231.0 L828.6 233.3 L829.9 233.3 L830.0 230.8 L829.9 230.7 L830.0 233.3 L830.9 233.3 L831.0 231.6 L831.5 231.6 L831.6 233.3 L831.9 233.3 L832.0 231.6 L832.5 231.6 L832.6 233.3 L833.9 233.3 L834.0 230.7 L833.9 230.7 L834.0 233.3 L834.9 233.3 L835.0 230.3 L835.5 230.3 L835.6 233.3 L836.9 233.3 L837.0 231.2 L837.2 231.2 L837.3 233.3 L837.9 233.3 L838.0 230.5 L838.2 230.5 L838.3 233.3 L838.9 233.3 L839.0 230.9 L839.5 231.0 L839.6 233.3 L840.9 233.3 L841.0 231.3 L841.2 231.3 L841.3 233.3 L841.9 233.3 L842.0 231.3 L841.9 231.4 L842.0 233.3 L842.9 233.3 L843.0 230.3 L843.5 230.3 L843.6 233.3 L843.9 233.3 L844.0 230.4 L844.2 230.4 L844.3 233.3 L844.9 233.3 L845.0 230.6 L845.5 230.6 L845.6 233.3 L845.9 231.4 L846.9 231.1 L848.0 232.0 L849.0 229.9 L850.1 230.6 L851.2 231.1 L852.2 229.7 L853.3 229.3 L854.3 230.7 L855.4 230.1 L856.4 231.0 L857.5 228.9 L858.6 230.4 L859.6 230.6 L860.7 228.4 L861.7 228.2 L862.8 228.8 L863.9 229.1 L864.9 228.1 L866.0 227.8 L867.1 228.2 L868.2 229.0 L869.2 226.9 L870.3 227.5 L871.4 228.1 L872.5 225.1 L873.6 226.7 L874.6 227.1 L875.7 228.2 L876.8 225.7 L877.9 225.6 L879.0 227.3 L880.0 226.3 L881.1 224.6 L882.2 225.5 L883.3 225.4 L884.4 226.8 L885.4 225.8 L886.5 225.4 L887.6 223.9 L888.7 225.3 L889.7 225.4 L890.8 223.9 L891.9 224.3 L893.0 222.7 L894.1 222.2 L895.1 223.8 L896.2 222.6 L897.2 221.4 L898.3 220.0 L899.3 221.1 L900.3 221.7 L901.4 221.9 L902.4 220.3 L903.4 220.1 L904.5 220.1 L905.6 218.6 L906.1 217.0 L907.6 216.1 L908.8 216.3 L909.8 214.8 L911.4 208.9 L912.4 206.7 L913.7 201.8 L914.9 198.2 L916.0 196.4 L917.5 191.8 L918.4 182.5 L919.6 177.9 L921.0 168.9 L921.7 164.9 L923.2 153.9 L924.4 139.8 L925.9 132.7 L926.8 121.9 L928.0 109.0 L929.3 87.0 L930.4 80.5 L932.2 76.3 L933.9 78.3 L934.7 91.5 L935.5 84.6 L936.9 70.2 L938.7 89.0 L939.8 78.1 L941.2 73.9 L942.6 80.4 L943.7 84.3 L944.5 90.0 L945.8 102.4 L947.0 118.1 L948.4 130.7 L949.6 148.2 L950.9 163.8 L951.9 181.0 L953.8 193.2 L954.7 202.1 L956.6 213.9 L957.9 219.8 L959.2 224.9 L960.4 227.6 L961.6 228.4 L962.7 230.3 L963.9 230.7 L965.0 231.0 L966.1 231.6 L967.2 230.5 L968.4 232.1 L969.5 232.0 L970.6 232.0 L971.7 232.2 L972.8 232.2 L973.9 232.5 L974.9 231.8 L976.0 233.2 L977.0 232.6 L978.1 231.9 L979.1 232.3 L980.2 232.1 L981.3 232.3 L982.3 231.9 L983.4 232.5 L984.4 232.3 L985.5 233.3 L986.5 232.5 L987.6 232.8 L988.7 233.0 L989.7 232.9 L990.8 232.3 L991.8 232.8 L992.8 232.4 L993.9 232.3 L994.9 233.0 L996.0 232.6 L997.0 232.4 L998.0 233.0 L999.1 233.3 L1000.1 232.2 L1001.2 233.0 L1002.2 233.3 L1003.3 232.5 L1004.3 232.7 L1005.3 232.5 L1006.4 233.2 L1007.4 232.2 L1008.5 232.4 L1009.5 232.7" fill="none" stroke="#1a1a1a" stroke-width="1.5" stroke-linejoin="round"/>
<rect x="821.7" y="64.1" width="189.5" height="169.5" fill="none" stroke="#7d7d7d" stroke-width="1.4"/>
<path d="M821.7 64.1 V233.6 H1011.2" fill="none" stroke="#333" stroke-width="1.5"/>
<path d="M822.0 122.0 V233.6" stroke="#111" stroke-width="1.9"/>
<path d="M815.2 80.4 H821.7" stroke="#222" stroke-width="1.4"/>
<text x="812.2" y="85.3" text-anchor="end" class="tk">600</text>
<path d="M815.2 131.3 H821.7" stroke="#222" stroke-width="1.4"/>
<text x="812.2" y="136.2" text-anchor="end" class="tk">400</text>
<path d="M815.2 182.2 H821.7" stroke="#222" stroke-width="1.4"/>
<text x="812.2" y="187.1" text-anchor="end" class="tk">200</text>
<path d="M815.2 233.5 H821.7" stroke="#222" stroke-width="1.4"/>
<text x="812.8" y="233.8" text-anchor="end" class="tk">0</text>
<path d="M819.1 220.7 H821.7" stroke="#333" stroke-width="1"/>
<path d="M819.1 208.0 H821.7" stroke="#333" stroke-width="1"/>
<path d="M819.1 195.2 H821.7" stroke="#333" stroke-width="1"/>
<path d="M819.1 169.7 H821.7" stroke="#333" stroke-width="1"/>
<path d="M819.1 156.9 H821.7" stroke="#333" stroke-width="1"/>
<path d="M819.1 144.2 H821.7" stroke="#333" stroke-width="1"/>
<path d="M819.1 118.7 H821.7" stroke="#333" stroke-width="1"/>
<path d="M819.1 105.9 H821.7" stroke="#333" stroke-width="1"/>
<path d="M819.1 93.2 H821.7" stroke="#333" stroke-width="1"/>
<path d="M819.1 67.6 H821.7" stroke="#333" stroke-width="1"/>
<path d="M826.5 233.6 V235.9" stroke="#333" stroke-width="0.8"/>
<path d="M830.2 233.6 V237.5" stroke="#333" stroke-width="1.1"/>
<path d="M833.3 233.6 V235.9" stroke="#333" stroke-width="0.8"/>
<path d="M835.8 233.6 V235.9" stroke="#333" stroke-width="0.8"/>
<path d="M838.1 233.6 V235.9" stroke="#333" stroke-width="0.8"/>
<path d="M840.0 233.6 V235.9" stroke="#333" stroke-width="0.8"/>
<path d="M841.8 233.6 V238.8" stroke="#222" stroke-width="1.3"/>
<text x="841.7" y="254.8" class="tk ten">10</text><text x="851.1" y="248.3" class="sup">1</text>
<path d="M853.4 233.6 V235.9" stroke="#333" stroke-width="0.8"/>
<path d="M860.2 233.6 V235.9" stroke="#333" stroke-width="0.8"/>
<path d="M865.0 233.6 V235.9" stroke="#333" stroke-width="0.8"/>
<path d="M868.7 233.6 V237.5" stroke="#333" stroke-width="1.1"/>
<path d="M871.8 233.6 V235.9" stroke="#333" stroke-width="0.8"/>
<path d="M874.3 233.6 V235.9" stroke="#333" stroke-width="0.8"/>
<path d="M876.6 233.6 V235.9" stroke="#333" stroke-width="0.8"/>
<path d="M878.5 233.6 V235.9" stroke="#333" stroke-width="0.8"/>
<path d="M880.3 233.6 V238.8" stroke="#222" stroke-width="1.3"/>
<text x="880.2" y="254.8" class="tk ten">10</text><text x="889.6" y="248.3" class="sup">2</text>
<path d="M891.9 233.6 V235.9" stroke="#333" stroke-width="0.8"/>
<path d="M898.7 233.6 V235.9" stroke="#333" stroke-width="0.8"/>
<path d="M903.5 233.6 V235.9" stroke="#333" stroke-width="0.8"/>
<path d="M907.2 233.6 V237.5" stroke="#333" stroke-width="1.1"/>
<path d="M910.3 233.6 V235.9" stroke="#333" stroke-width="0.8"/>
<path d="M912.8 233.6 V235.9" stroke="#333" stroke-width="0.8"/>
<path d="M915.1 233.6 V235.9" stroke="#333" stroke-width="0.8"/>
<path d="M917.0 233.6 V235.9" stroke="#333" stroke-width="0.8"/>
<path d="M918.8 233.6 V238.8" stroke="#222" stroke-width="1.3"/>
<text x="918.7" y="254.8" class="tk ten">10</text><text x="928.1" y="248.3" class="sup">3</text>
<path d="M930.4 233.6 V235.9" stroke="#333" stroke-width="0.8"/>
<path d="M937.2 233.6 V235.9" stroke="#333" stroke-width="0.8"/>
<path d="M942.0 233.6 V235.9" stroke="#333" stroke-width="0.8"/>
<path d="M945.7 233.6 V237.5" stroke="#333" stroke-width="1.1"/>
<path d="M948.8 233.6 V235.9" stroke="#333" stroke-width="0.8"/>
<path d="M951.3 233.6 V235.9" stroke="#333" stroke-width="0.8"/>
<path d="M953.6 233.6 V235.9" stroke="#333" stroke-width="0.8"/>
<path d="M955.5 233.6 V235.9" stroke="#333" stroke-width="0.8"/>
<path d="M957.3 233.6 V238.8" stroke="#222" stroke-width="1.3"/>
<text x="957.2" y="254.8" class="tk ten">10</text><text x="966.6" y="248.3" class="sup">4</text>
<path d="M968.9 233.6 V235.9" stroke="#333" stroke-width="0.8"/>
<path d="M975.7 233.6 V235.9" stroke="#333" stroke-width="0.8"/>
<path d="M980.5 233.6 V235.9" stroke="#333" stroke-width="0.8"/>
<path d="M984.2 233.6 V237.5" stroke="#333" stroke-width="1.1"/>
<path d="M987.3 233.6 V235.9" stroke="#333" stroke-width="0.8"/>
<path d="M989.8 233.6 V235.9" stroke="#333" stroke-width="0.8"/>
<path d="M992.1 233.6 V235.9" stroke="#333" stroke-width="0.8"/>
<path d="M994.0 233.6 V235.9" stroke="#333" stroke-width="0.8"/>
<path d="M995.8 233.6 V238.8" stroke="#222" stroke-width="1.3"/>
<text x="995.7" y="254.8" class="tk ten">10</text><text x="1005.1" y="248.3" class="sup">5</text>
<path d="M1007.4 233.6 V235.9" stroke="#333" stroke-width="0.8"/>
<path d="M821.7 214.8 H909.5 M909.5 210.6 V227.8 M909.5 223.0 H1011.2 M822.3 211.8 V217.8 M1010.6 220.0 V226.0" fill="none" stroke="#2c2c2c" stroke-width="1.35"/>
<text x="826.5" y="80.9" class="lb">FITC-A-</text>
<text x="826.5" y="93.5" class="lb">10.1</text>
<text x="958.2" y="80.9" class="lb">FITC-A+</text>
<text x="990.7" y="93.5" class="lb" text-anchor="end">89.9</text>
<rect x="1042.4" y="65.1" width="188.1" height="169.9" fill="#fff"/>
<path d="M1042.3 234.7 L1042.4 234.5 L1042.6 234.5 L1042.7 234.7 L1043.3 234.7 L1043.4 233.8 L1043.3 233.8 L1043.4 234.7 L1044.4 234.7 L1044.5 233.6 L1045.0 233.6 L1045.1 234.7 L1046.4 234.7 L1046.5 233.6 L1046.4 233.6 L1046.5 234.7 L1047.4 234.7 L1047.5 234.3 L1048.0 234.3 L1048.1 234.7 L1049.4 234.7 L1049.5 233.8 L1050.0 233.8 L1050.1 234.7 L1051.4 234.7 L1051.5 234.0 L1052.0 234.0 L1052.1 234.7 L1053.4 234.7 L1053.5 233.6 L1053.4 233.6 L1053.5 234.7 L1054.4 234.7 L1054.5 233.3 L1055.0 233.3 L1055.1 234.7 L1056.5 234.7 L1056.6 233.8 L1056.8 233.7 L1056.9 234.7 L1058.5 234.7 L1058.6 233.5 L1059.1 233.5 L1059.2 234.7 L1060.5 234.7 L1060.6 233.5 L1060.8 233.5 L1060.9 234.7 L1061.6 234.7 L1061.7 233.4 L1061.6 233.5 L1061.7 234.7 L1062.6 234.7 L1062.7 233.2 L1062.9 233.3 L1063.0 234.7 L1063.6 234.7 L1063.7 233.6 L1064.2 233.6 L1064.3 234.7 L1065.7 233.8 L1066.7 234.2 L1067.7 233.4 L1068.8 233.5 L1069.8 233.6 L1070.8 233.8 L1071.9 233.7 L1072.9 232.9 L1073.9 233.8 L1075.0 234.0 L1076.0 233.1 L1077.0 232.6 L1078.1 233.2 L1079.1 233.8 L1080.1 231.3 L1081.1 231.9 L1082.2 231.6 L1083.2 231.3 L1084.2 231.5 L1085.3 232.7 L1086.3 232.4 L1087.3 231.6 L1088.4 231.8 L1089.4 232.3 L1090.4 231.5 L1091.5 230.8 L1092.5 231.1 L1093.5 231.6 L1094.5 232.0 L1095.5 229.5 L1096.5 230.8 L1097.6 229.0 L1098.6 228.7 L1099.6 231.4 L1100.6 228.9 L1101.6 228.4 L1102.6 230.5 L1103.7 227.6 L1104.7 229.4 L1105.7 229.0 L1106.8 229.6 L1107.9 227.5 L1109.0 227.6 L1110.1 226.4 L1111.2 228.0 L1112.3 226.6 L1113.4 226.6 L1114.5 223.3 L1115.6 223.8 L1116.7 226.0 L1117.8 227.1 L1118.9 227.8 L1120.1 226.1 L1121.4 226.3 L1122.6 228.5 L1123.8 226.5 L1124.9 225.7 L1126.0 222.4 L1127.1 219.6 L1128.7 220.9 L1129.3 216.2 L1131.3 216.5 L1132.1 215.1 L1133.0 212.4 L1134.5 211.0 L1135.4 205.6 L1136.3 203.5 L1137.1 197.0 L1138.7 195.8 L1139.3 187.4 L1140.5 185.9 L1142.0 181.8 L1143.4 175.7 L1144.6 169.3 L1145.3 166.3 L1146.4 163.5 L1147.2 149.7 L1148.6 145.1 L1150.0 143.7 L1151.1 130.8 L1151.9 129.1 L1153.1 122.4 L1154.5 125.5 L1155.8 127.8 L1156.8 128.3 L1158.2 129.6 L1159.1 125.8 L1160.1 121.9 L1161.8 134.3 L1162.8 138.2 L1163.4 137.9 L1165.1 138.7 L1165.9 137.8 L1167.1 138.2 L1168.4 135.4 L1169.6 128.3 L1171.0 120.9 L1171.9 121.9 L1173.3 123.8 L1174.5 117.4 L1175.6 106.5 L1177.6 93.0 L1178.8 86.7 L1179.9 77.8 L1181.6 87.4 L1182.2 89.7 L1184.2 105.4 L1185.6 115.2 L1186.5 124.9 L1188.0 139.7 L1188.8 151.6 L1189.9 166.5 L1191.5 178.1 L1192.5 189.5 L1194.1 201.1 L1194.8 205.8 L1195.9 212.2 L1197.4 214.5 L1198.4 217.7 L1200.1 220.2 L1201.4 224.6 L1202.6 225.9 L1203.8 227.8 L1205.1 227.8 L1206.3 229.9 L1207.6 229.2 L1208.8 229.8 L1210.0 231.3 L1211.3 231.8 L1212.4 231.6 L1213.5 232.6 L1214.6 233.0 L1215.7 231.9 L1216.8 233.1 L1217.9 233.9 L1219.0 233.5 L1220.1 234.0 L1221.2 233.9 L1222.2 234.7 L1223.2 234.1 L1224.3 233.8 L1225.3 234.7 L1226.4 234.2 L1227.4 234.7 L1228.4 234.6 L1228.4 235.0 L1042.3 235.0 Z" fill="#959595" stroke="none"/>
<path d="M1042.3 234.7 L1042.4 234.5 L1042.6 234.5 L1042.7 234.7 L1043.3 234.7 L1043.4 233.8 L1043.3 233.8 L1043.4 234.7 L1044.4 234.7 L1044.5 233.6 L1045.0 233.6 L1045.1 234.7 L1046.4 234.7 L1046.5 233.6 L1046.4 233.6 L1046.5 234.7 L1047.4 234.7 L1047.5 234.3 L1048.0 234.3 L1048.1 234.7 L1049.4 234.7 L1049.5 233.8 L1050.0 233.8 L1050.1 234.7 L1051.4 234.7 L1051.5 234.0 L1052.0 234.0 L1052.1 234.7 L1053.4 234.7 L1053.5 233.6 L1053.4 233.6 L1053.5 234.7 L1054.4 234.7 L1054.5 233.3 L1055.0 233.3 L1055.1 234.7 L1056.5 234.7 L1056.6 233.8 L1056.8 233.7 L1056.9 234.7 L1058.5 234.7 L1058.6 233.5 L1059.1 233.5 L1059.2 234.7 L1060.5 234.7 L1060.6 233.5 L1060.8 233.5 L1060.9 234.7 L1061.6 234.7 L1061.7 233.4 L1061.6 233.5 L1061.7 234.7 L1062.6 234.7 L1062.7 233.2 L1062.9 233.3 L1063.0 234.7 L1063.6 234.7 L1063.7 233.6 L1064.2 233.6 L1064.3 234.7 L1065.7 233.8 L1066.7 234.2 L1067.7 233.4 L1068.8 233.5 L1069.8 233.6 L1070.8 233.8 L1071.9 233.7 L1072.9 232.9 L1073.9 233.8 L1075.0 234.0 L1076.0 233.1 L1077.0 232.6 L1078.1 233.2 L1079.1 233.8 L1080.1 231.3 L1081.1 231.9 L1082.2 231.6 L1083.2 231.3 L1084.2 231.5 L1085.3 232.7 L1086.3 232.4 L1087.3 231.6 L1088.4 231.8 L1089.4 232.3 L1090.4 231.5 L1091.5 230.8 L1092.5 231.1 L1093.5 231.6 L1094.5 232.0 L1095.5 229.5 L1096.5 230.8 L1097.6 229.0 L1098.6 228.7 L1099.6 231.4 L1100.6 228.9 L1101.6 228.4 L1102.6 230.5 L1103.7 227.6 L1104.7 229.4 L1105.7 229.0 L1106.8 229.6 L1107.9 227.5 L1109.0 227.6 L1110.1 226.4 L1111.2 228.0 L1112.3 226.6 L1113.4 226.6 L1114.5 223.3 L1115.6 223.8 L1116.7 226.0 L1117.8 227.1 L1118.9 227.8 L1120.1 226.1 L1121.4 226.3 L1122.6 228.5 L1123.8 226.5 L1124.9 225.7 L1126.0 222.4 L1127.1 219.6 L1128.7 220.9 L1129.3 216.2 L1131.3 216.5 L1132.1 215.1 L1133.0 212.4 L1134.5 211.0 L1135.4 205.6 L1136.3 203.5 L1137.1 197.0 L1138.7 195.8 L1139.3 187.4 L1140.5 185.9 L1142.0 181.8 L1143.4 175.7 L1144.6 169.3 L1145.3 166.3 L1146.4 163.5 L1147.2 149.7 L1148.6 145.1 L1150.0 143.7 L1151.1 130.8 L1151.9 129.1 L1153.1 122.4 L1154.5 125.5 L1155.8 127.8 L1156.8 128.3 L1158.2 129.6 L1159.1 125.8 L1160.1 121.9 L1161.8 134.3 L1162.8 138.2 L1163.4 137.9 L1165.1 138.7 L1165.9 137.8 L1167.1 138.2 L1168.4 135.4 L1169.6 128.3 L1171.0 120.9 L1171.9 121.9 L1173.3 123.8 L1174.5 117.4 L1175.6 106.5 L1177.6 93.0 L1178.8 86.7 L1179.9 77.8 L1181.6 87.4 L1182.2 89.7 L1184.2 105.4 L1185.6 115.2 L1186.5 124.9 L1188.0 139.7 L1188.8 151.6 L1189.9 166.5 L1191.5 178.1 L1192.5 189.5 L1194.1 201.1 L1194.8 205.8 L1195.9 212.2 L1197.4 214.5 L1198.4 217.7 L1200.1 220.2 L1201.4 224.6 L1202.6 225.9 L1203.8 227.8 L1205.1 227.8 L1206.3 229.9 L1207.6 229.2 L1208.8 229.8 L1210.0 231.3 L1211.3 231.8 L1212.4 231.6 L1213.5 232.6 L1214.6 233.0 L1215.7 231.9 L1216.8 233.1 L1217.9 233.9 L1219.0 233.5 L1220.1 234.0 L1221.2 233.9 L1222.2 234.7 L1223.2 234.1 L1224.3 233.8 L1225.3 234.7 L1226.4 234.2 L1227.4 234.7 L1228.4 234.6" fill="none" stroke="#1a1a1a" stroke-width="1.5" stroke-linejoin="round"/>
<rect x="1178.4" y="76.5" width="6.4" height="24.5" fill="#dcdcdc" opacity="0.85"/>
<rect x="1042.4" y="65.1" width="188.1" height="169.9" fill="none" stroke="#7d7d7d" stroke-width="1.4"/>
<path d="M1042.4 65.1 V235.0 H1230.5" fill="none" stroke="#333" stroke-width="1.5"/>
<path d="M1042.7 119.0 V235.0" stroke="#111" stroke-width="1.9"/>
<path d="M1230.2 200.0 V235.0" stroke="#111" stroke-width="2.2"/>
<path d="M1035.9 71.2 H1042.4" stroke="#222" stroke-width="1.4"/>
<text x="1032.9" y="76.1" text-anchor="end" class="tk">500</text>
<path d="M1035.9 103.9 H1042.4" stroke="#222" stroke-width="1.4"/>
<text x="1032.9" y="108.8" text-anchor="end" class="tk">400</text>
<path d="M1035.9 136.6 H1042.4" stroke="#222" stroke-width="1.4"/>
<text x="1032.9" y="141.5" text-anchor="end" class="tk">300</text>
<path d="M1035.9 169.3 H1042.4" stroke="#222" stroke-width="1.4"/>
<text x="1032.9" y="174.2" text-anchor="end" class="tk">200</text>
<path d="M1035.9 202.0 H1042.4" stroke="#222" stroke-width="1.4"/>
<text x="1032.9" y="206.9" text-anchor="end" class="tk">100</text>
<path d="M1035.9 234.9 H1042.4" stroke="#222" stroke-width="1.4"/>
<text x="1033.5" y="235.2" text-anchor="end" class="tk">0</text>
<path d="M1039.8 226.7 H1042.4" stroke="#333" stroke-width="1"/>
<path d="M1039.8 218.5 H1042.4" stroke="#333" stroke-width="1"/>
<path d="M1039.8 210.3 H1042.4" stroke="#333" stroke-width="1"/>
<path d="M1039.8 194.0 H1042.4" stroke="#333" stroke-width="1"/>
<path d="M1039.8 185.8 H1042.4" stroke="#333" stroke-width="1"/>
<path d="M1039.8 177.6 H1042.4" stroke="#333" stroke-width="1"/>
<path d="M1039.8 161.2 H1042.4" stroke="#333" stroke-width="1"/>
<path d="M1039.8 153.1 H1042.4" stroke="#333" stroke-width="1"/>
<path d="M1039.8 144.9 H1042.4" stroke="#333" stroke-width="1"/>
<path d="M1039.8 128.5 H1042.4" stroke="#333" stroke-width="1"/>
<path d="M1039.8 120.3 H1042.4" stroke="#333" stroke-width="1"/>
<path d="M1039.8 112.1 H1042.4" stroke="#333" stroke-width="1"/>
<path d="M1039.8 95.8 H1042.4" stroke="#333" stroke-width="1"/>
<path d="M1039.8 87.6 H1042.4" stroke="#333" stroke-width="1"/>
<path d="M1039.8 79.4 H1042.4" stroke="#333" stroke-width="1"/>
<path d="M1046.6 235.0 V237.3" stroke="#333" stroke-width="0.8"/>
<path d="M1050.3 235.0 V238.9" stroke="#333" stroke-width="1.1"/>
<path d="M1053.3 235.0 V237.3" stroke="#333" stroke-width="0.8"/>
<path d="M1055.9 235.0 V237.3" stroke="#333" stroke-width="0.8"/>
<path d="M1058.1 235.0 V237.3" stroke="#333" stroke-width="0.8"/>
<path d="M1060.1 235.0 V237.3" stroke="#333" stroke-width="0.8"/>
<path d="M1061.8 235.0 V240.2" stroke="#222" stroke-width="1.3"/>
<text x="1061.7" y="256.2" class="tk ten">10</text><text x="1071.1" y="249.7" class="sup">1</text>
<path d="M1073.3 235.0 V237.3" stroke="#333" stroke-width="0.8"/>
<path d="M1080.0 235.0 V237.3" stroke="#333" stroke-width="0.8"/>
<path d="M1084.8 235.0 V237.3" stroke="#333" stroke-width="0.8"/>
<path d="M1088.5 235.0 V238.9" stroke="#333" stroke-width="1.1"/>
<path d="M1091.5 235.0 V237.3" stroke="#333" stroke-width="0.8"/>
<path d="M1094.1 235.0 V237.3" stroke="#333" stroke-width="0.8"/>
<path d="M1096.3 235.0 V237.3" stroke="#333" stroke-width="0.8"/>
<path d="M1098.3 235.0 V237.3" stroke="#333" stroke-width="0.8"/>
<path d="M1100.0 235.0 V240.2" stroke="#222" stroke-width="1.3"/>
<text x="1099.9" y="256.2" class="tk ten">10</text><text x="1109.3" y="249.7" class="sup">2</text>
<path d="M1111.5 235.0 V237.3" stroke="#333" stroke-width="0.8"/>
<path d="M1118.2 235.0 V237.3" stroke="#333" stroke-width="0.8"/>
<path d="M1123.0 235.0 V237.3" stroke="#333" stroke-width="0.8"/>
<path d="M1126.7 235.0 V238.9" stroke="#333" stroke-width="1.1"/>
<path d="M1129.7 235.0 V237.3" stroke="#333" stroke-width="0.8"/>
<path d="M1132.3 235.0 V237.3" stroke="#333" stroke-width="0.8"/>
<path d="M1134.5 235.0 V237.3" stroke="#333" stroke-width="0.8"/>
<path d="M1136.5 235.0 V237.3" stroke="#333" stroke-width="0.8"/>
<path d="M1138.2 235.0 V240.2" stroke="#222" stroke-width="1.3"/>
<text x="1138.1" y="256.2" class="tk ten">10</text><text x="1147.5" y="249.7" class="sup">3</text>
<path d="M1149.7 235.0 V237.3" stroke="#333" stroke-width="0.8"/>
<path d="M1156.4 235.0 V237.3" stroke="#333" stroke-width="0.8"/>
<path d="M1161.2 235.0 V237.3" stroke="#333" stroke-width="0.8"/>
<path d="M1164.9 235.0 V238.9" stroke="#333" stroke-width="1.1"/>
<path d="M1167.9 235.0 V237.3" stroke="#333" stroke-width="0.8"/>
<path d="M1170.5 235.0 V237.3" stroke="#333" stroke-width="0.8"/>
<path d="M1172.7 235.0 V237.3" stroke="#333" stroke-width="0.8"/>
<path d="M1174.7 235.0 V237.3" stroke="#333" stroke-width="0.8"/>
<path d="M1176.4 235.0 V240.2" stroke="#222" stroke-width="1.3"/>
<text x="1176.3" y="256.2" class="tk ten">10</text><text x="1185.7" y="249.7" class="sup">4</text>
<path d="M1187.9 235.0 V237.3" stroke="#333" stroke-width="0.8"/>
<path d="M1194.6 235.0 V237.3" stroke="#333" stroke-width="0.8"/>
<path d="M1199.4 235.0 V237.3" stroke="#333" stroke-width="0.8"/>
<path d="M1203.1 235.0 V238.9" stroke="#333" stroke-width="1.1"/>
<path d="M1206.1 235.0 V237.3" stroke="#333" stroke-width="0.8"/>
<path d="M1208.7 235.0 V237.3" stroke="#333" stroke-width="0.8"/>
<path d="M1210.9 235.0 V237.3" stroke="#333" stroke-width="0.8"/>
<path d="M1212.9 235.0 V237.3" stroke="#333" stroke-width="0.8"/>
<path d="M1214.6 235.0 V240.2" stroke="#222" stroke-width="1.3"/>
<text x="1214.5" y="256.2" class="tk ten">10</text><text x="1223.9" y="249.7" class="sup">5</text>
<path d="M1226.1 235.0 V237.3" stroke="#333" stroke-width="0.8"/>
<path d="M1042.4 175.3 H1129.4 M1129.4 171.3 V187.5 M1129.4 184.2 H1230.5 M1043.0 172.3 V178.3 M1229.9 181.2 V187.2" fill="none" stroke="#2c2c2c" stroke-width="1.35"/>
<text x="1047.2" y="81.9" class="lb">FITC-A-</text>
<text x="1047.2" y="94.5" class="lb">6.24</text>
<text x="1177.5" y="81.9" class="lb">FITC-A+</text>
<text x="1210.0" y="94.5" class="lb" text-anchor="end">93.8</text>
<rect x="820.2" y="260.6" width="189.5" height="169.6" fill="#fff"/>
<path d="M820.7 429.9 L820.8 429.1 L820.7 429.1 L820.8 429.9 L821.8 429.9 L821.9 429.5 L821.8 429.5 L821.9 429.9 L822.8 429.9 L822.9 429.5 L822.8 429.5 L822.9 429.9 L823.9 429.9 L824.0 429.3 L823.9 429.3 L824.0 429.9 L824.9 429.9 L825.0 429.2 L825.5 429.2 L825.6 429.9 L827.0 429.9 L827.1 428.8 L827.3 428.8 L827.4 429.9 L829.1 429.9 L829.2 429.0 L829.4 429.0 L829.5 429.9 L831.2 429.9 L831.3 429.5 L831.8 429.5 L831.9 429.9 L832.3 429.9 L832.4 429.2 L832.9 429.2 L833.0 429.9 L834.3 429.9 L834.4 429.2 L834.6 429.2 L834.7 429.9 L835.4 429.9 L835.5 429.2 L836.0 429.2 L836.1 429.9 L837.5 429.9 L837.6 428.5 L837.8 428.5 L837.9 429.9 L838.5 429.9 L838.6 428.8 L838.5 428.8 L838.6 429.9 L839.6 429.9 L839.7 428.6 L840.2 428.6 L840.3 429.9 L841.7 429.9 L841.8 428.1 L841.7 428.1 L841.8 429.9 L842.7 429.9 L842.8 428.1 L843.0 428.0 L843.1 429.9 L843.8 429.0 L844.8 429.1 L845.9 427.0 L846.9 427.4 L848.0 428.7 L849.0 427.5 L850.1 429.9 L851.1 428.9 L852.2 427.8 L853.2 427.5 L854.3 428.3 L855.3 426.2 L856.4 425.9 L857.4 428.1 L858.5 426.5 L859.5 427.0 L860.6 428.4 L861.6 427.4 L862.7 427.3 L863.7 427.3 L864.8 425.8 L865.8 425.1 L866.9 423.7 L867.9 425.6 L869.0 424.3 L870.0 424.6 L871.1 424.7 L872.1 423.9 L873.2 425.1 L874.2 421.8 L875.3 422.4 L876.3 422.4 L877.4 422.4 L878.4 423.1 L879.5 423.2 L880.5 419.5 L881.6 421.4 L882.6 421.8 L883.7 420.7 L884.7 421.0 L885.8 417.7 L886.8 418.8 L887.9 420.1 L888.9 415.9 L889.9 419.9 L891.0 416.9 L892.0 413.7 L893.1 415.8 L894.1 416.3 L895.0 414.5 L896.2 414.5 L897.4 413.8 L898.6 410.2 L899.6 413.9 L900.9 412.9 L901.0 409.0 L902.5 408.7 L903.4 406.1 L905.1 405.8 L905.4 409.3 L906.9 406.4 L907.9 405.2 L908.8 404.5 L910.6 401.9 L911.9 400.8 L912.6 397.6 L913.5 396.4 L914.3 387.6 L915.8 385.0 L916.8 381.0 L917.7 370.2 L918.9 367.4 L920.5 351.5 L921.4 344.2 L922.1 330.5 L923.9 320.3 L924.7 309.6 L926.1 297.0 L927.8 285.8 L928.3 281.3 L929.3 269.6 L930.9 270.2 L932.8 284.4 L934.2 281.1 L935.3 281.3 L937.2 288.6 L938.9 281.2 L939.7 271.3 L940.9 288.4 L942.7 290.6 L943.5 293.9 L945.0 305.0 L946.0 312.2 L946.8 323.5 L948.2 341.5 L949.1 357.7 L950.4 369.9 L952.1 383.4 L952.9 398.0 L953.8 406.7 L955.4 416.9 L956.5 420.6 L957.5 421.6 L958.6 425.4 L959.8 427.5 L961.1 427.4 L962.3 428.9 L963.4 429.0 L964.4 429.6 L965.5 429.3 L966.5 429.4 L967.6 429.9 L968.6 429.9 L969.7 429.9 L970.7 429.5 L971.8 429.9 L972.8 429.9 L973.8 429.8 L974.8 429.9 L975.9 429.7 L976.9 429.4 L977.9 429.9 L978.9 429.9 L979.9 429.9 L981.0 429.9 L982.0 429.8 L983.0 429.9 L984.0 429.7 L985.0 429.9 L986.1 429.7 L987.1 429.9 L988.1 429.8 L989.1 429.9 L990.1 429.9 L991.2 429.7 L992.2 429.7 L993.2 429.9 L994.2 429.9 L995.3 429.7 L996.3 429.9 L997.3 429.9 L998.3 429.7 L999.3 429.9 L1000.4 429.9 L1001.4 429.9 L1002.4 429.9 L1003.4 429.9 L1004.4 429.9 L1005.5 429.7 L1006.5 429.9 L1007.5 429.9 L1008.5 429.9 L1009.5 429.9 L1009.5 430.2 L820.7 430.2 Z" fill="#959595" stroke="none"/>
<path d="M820.7 429.9 L820.8 429.1 L820.7 429.1 L820.8 429.9 L821.8 429.9 L821.9 429.5 L821.8 429.5 L821.9 429.9 L822.8 429.9 L822.9 429.5 L822.8 429.5 L822.9 429.9 L823.9 429.9 L824.0 429.3 L823.9 429.3 L824.0 429.9 L824.9 429.9 L825.0 429.2 L825.5 429.2 L825.6 429.9 L827.0 429.9 L827.1 428.8 L827.3 428.8 L827.4 429.9 L829.1 429.9 L829.2 429.0 L829.4 429.0 L829.5 429.9 L831.2 429.9 L831.3 429.5 L831.8 429.5 L831.9 429.9 L832.3 429.9 L832.4 429.2 L832.9 429.2 L833.0 429.9 L834.3 429.9 L834.4 429.2 L834.6 429.2 L834.7 429.9 L835.4 429.9 L835.5 429.2 L836.0 429.2 L836.1 429.9 L837.5 429.9 L837.6 428.5 L837.8 428.5 L837.9 429.9 L838.5 429.9 L838.6 428.8 L838.5 428.8 L838.6 429.9 L839.6 429.9 L839.7 428.6 L840.2 428.6 L840.3 429.9 L841.7 429.9 L841.8 428.1 L841.7 428.1 L841.8 429.9 L842.7 429.9 L842.8 428.1 L843.0 428.0 L843.1 429.9 L843.8 429.0 L844.8 429.1 L845.9 427.0 L846.9 427.4 L848.0 428.7 L849.0 427.5 L850.1 429.9 L851.1 428.9 L852.2 427.8 L853.2 427.5 L854.3 428.3 L855.3 426.2 L856.4 425.9 L857.4 428.1 L858.5 426.5 L859.5 427.0 L860.6 428.4 L861.6 427.4 L862.7 427.3 L863.7 427.3 L864.8 425.8 L865.8 425.1 L866.9 423.7 L867.9 425.6 L869.0 424.3 L870.0 424.6 L871.1 424.7 L872.1 423.9 L873.2 425.1 L874.2 421.8 L875.3 422.4 L876.3 422.4 L877.4 422.4 L878.4 423.1 L879.5 423.2 L880.5 419.5 L881.6 421.4 L882.6 421.8 L883.7 420.7 L884.7 421.0 L885.8 417.7 L886.8 418.8 L887.9 420.1 L888.9 415.9 L889.9 419.9 L891.0 416.9 L892.0 413.7 L893.1 415.8 L894.1 416.3 L895.0 414.5 L896.2 414.5 L897.4 413.8 L898.6 410.2 L899.6 413.9 L900.9 412.9 L901.0 409.0 L902.5 408.7 L903.4 406.1 L905.1 405.8 L905.4 409.3 L906.9 406.4 L907.9 405.2 L908.8 404.5 L910.6 401.9 L911.9 400.8 L912.6 397.6 L913.5 396.4 L914.3 387.6 L915.8 385.0 L916.8 381.0 L917.7 370.2 L918.9 367.4 L920.5 351.5 L921.4 344.2 L922.1 330.5 L923.9 320.3 L924.7 309.6 L926.1 297.0 L927.8 285.8 L928.3 281.3 L929.3 269.6 L930.9 270.2 L932.8 284.4 L934.2 281.1 L935.3 281.3 L937.2 288.6 L938.9 281.2 L939.7 271.3 L940.9 288.4 L942.7 290.6 L943.5 293.9 L945.0 305.0 L946.0 312.2 L946.8 323.5 L948.2 341.5 L949.1 357.7 L950.4 369.9 L952.1 383.4 L952.9 398.0 L953.8 406.7 L955.4 416.9 L956.5 420.6 L957.5 421.6 L958.6 425.4 L959.8 427.5 L961.1 427.4 L962.3 428.9 L963.4 429.0 L964.4 429.6 L965.5 429.3 L966.5 429.4 L967.6 429.9 L968.6 429.9 L969.7 429.9 L970.7 429.5 L971.8 429.9 L972.8 429.9 L973.8 429.8 L974.8 429.9 L975.9 429.7 L976.9 429.4 L977.9 429.9 L978.9 429.9 L979.9 429.9 L981.0 429.9 L982.0 429.8 L983.0 429.9 L984.0 429.7 L985.0 429.9 L986.1 429.7 L987.1 429.9 L988.1 429.8 L989.1 429.9 L990.1 429.9 L991.2 429.7 L992.2 429.7 L993.2 429.9 L994.2 429.9 L995.3 429.7 L996.3 429.9 L997.3 429.9 L998.3 429.7 L999.3 429.9 L1000.4 429.9 L1001.4 429.9 L1002.4 429.9 L1003.4 429.9 L1004.4 429.9 L1005.5 429.7 L1006.5 429.9 L1007.5 429.9 L1008.5 429.9 L1009.5 429.9" fill="none" stroke="#1a1a1a" stroke-width="1.5" stroke-linejoin="round"/>
<rect x="820.2" y="260.6" width="189.5" height="169.6" fill="none" stroke="#7d7d7d" stroke-width="1.4"/>
<path d="M820.2 260.6 V430.2 H1009.7" fill="none" stroke="#333" stroke-width="1.5"/>
<path d="M813.7 278.2 H820.2" stroke="#222" stroke-width="1.4"/>
<text x="810.7" y="283.1" text-anchor="end" class="tk">600</text>
<path d="M813.7 328.8 H820.2" stroke="#222" stroke-width="1.4"/>
<text x="810.7" y="333.7" text-anchor="end" class="tk">400</text>
<path d="M813.7 379.4 H820.2" stroke="#222" stroke-width="1.4"/>
<text x="810.7" y="384.3" text-anchor="end" class="tk">200</text>
<path d="M813.7 430.0 H820.2" stroke="#222" stroke-width="1.4"/>
<text x="811.3" y="430.3" text-anchor="end" class="tk">0</text>
<path d="M817.6 417.4 H820.2" stroke="#333" stroke-width="1"/>
<path d="M817.6 404.7 H820.2" stroke="#333" stroke-width="1"/>
<path d="M817.6 392.1 H820.2" stroke="#333" stroke-width="1"/>
<path d="M817.6 366.8 H820.2" stroke="#333" stroke-width="1"/>
<path d="M817.6 354.1 H820.2" stroke="#333" stroke-width="1"/>
<path d="M817.6 341.4 H820.2" stroke="#333" stroke-width="1"/>
<path d="M817.6 316.1 H820.2" stroke="#333" stroke-width="1"/>
<path d="M817.6 303.5 H820.2" stroke="#333" stroke-width="1"/>
<path d="M817.6 290.9 H820.2" stroke="#333" stroke-width="1"/>
<path d="M817.6 265.5 H820.2" stroke="#333" stroke-width="1"/>
<path d="M824.8 430.2 V432.5" stroke="#333" stroke-width="0.8"/>
<path d="M828.5 430.2 V434.1" stroke="#333" stroke-width="1.1"/>
<path d="M831.5 430.2 V432.5" stroke="#333" stroke-width="0.8"/>
<path d="M834.1 430.2 V432.5" stroke="#333" stroke-width="0.8"/>
<path d="M836.3 430.2 V432.5" stroke="#333" stroke-width="0.8"/>
<path d="M838.2 430.2 V432.5" stroke="#333" stroke-width="0.8"/>
<path d="M840.0 430.2 V435.4" stroke="#222" stroke-width="1.3"/>
<text x="839.9" y="451.4" class="tk ten">10</text><text x="849.3" y="444.9" class="sup">1</text>
<path d="M851.5 430.2 V432.5" stroke="#333" stroke-width="0.8"/>
<path d="M858.3 430.2 V432.5" stroke="#333" stroke-width="0.8"/>
<path d="M863.1 430.2 V432.5" stroke="#333" stroke-width="0.8"/>
<path d="M866.8 430.2 V434.1" stroke="#333" stroke-width="1.1"/>
<path d="M869.8 430.2 V432.5" stroke="#333" stroke-width="0.8"/>
<path d="M872.4 430.2 V432.5" stroke="#333" stroke-width="0.8"/>
<path d="M874.6 430.2 V432.5" stroke="#333" stroke-width="0.8"/>
<path d="M876.5 430.2 V432.5" stroke="#333" stroke-width="0.8"/>
<path d="M878.3 430.2 V435.4" stroke="#222" stroke-width="1.3"/>
<text x="878.2" y="451.4" class="tk ten">10</text><text x="887.6" y="444.9" class="sup">2</text>
<path d="M889.8 430.2 V432.5" stroke="#333" stroke-width="0.8"/>
<path d="M896.6 430.2 V432.5" stroke="#333" stroke-width="0.8"/>
<path d="M901.4 430.2 V432.5" stroke="#333" stroke-width="0.8"/>
<path d="M905.1 430.2 V434.1" stroke="#333" stroke-width="1.1"/>
<path d="M908.1 430.2 V432.5" stroke="#333" stroke-width="0.8"/>
<path d="M910.7 430.2 V432.5" stroke="#333" stroke-width="0.8"/>
<path d="M912.9 430.2 V432.5" stroke="#333" stroke-width="0.8"/>
<path d="M914.8 430.2 V432.5" stroke="#333" stroke-width="0.8"/>
<path d="M916.6 430.2 V435.4" stroke="#222" stroke-width="1.3"/>
<text x="916.5" y="451.4" class="tk ten">10</text><text x="925.9" y="444.9" class="sup">3</text>
<path d="M928.1 430.2 V432.5" stroke="#333" stroke-width="0.8"/>
<path d="M934.9 430.2 V432.5" stroke="#333" stroke-width="0.8"/>
<path d="M939.7 430.2 V432.5" stroke="#333" stroke-width="0.8"/>
<path d="M943.4 430.2 V434.1" stroke="#333" stroke-width="1.1"/>
<path d="M946.4 430.2 V432.5" stroke="#333" stroke-width="0.8"/>
<path d="M949.0 430.2 V432.5" stroke="#333" stroke-width="0.8"/>
<path d="M951.2 430.2 V432.5" stroke="#333" stroke-width="0.8"/>
<path d="M953.1 430.2 V432.5" stroke="#333" stroke-width="0.8"/>
<path d="M954.9 430.2 V435.4" stroke="#222" stroke-width="1.3"/>
<text x="954.8" y="451.4" class="tk ten">10</text><text x="964.2" y="444.9" class="sup">4</text>
<path d="M966.4 430.2 V432.5" stroke="#333" stroke-width="0.8"/>
<path d="M973.2 430.2 V432.5" stroke="#333" stroke-width="0.8"/>
<path d="M978.0 430.2 V432.5" stroke="#333" stroke-width="0.8"/>
<path d="M981.7 430.2 V434.1" stroke="#333" stroke-width="1.1"/>
<path d="M984.7 430.2 V432.5" stroke="#333" stroke-width="0.8"/>
<path d="M987.3 430.2 V432.5" stroke="#333" stroke-width="0.8"/>
<path d="M989.5 430.2 V432.5" stroke="#333" stroke-width="0.8"/>
<path d="M991.4 430.2 V432.5" stroke="#333" stroke-width="0.8"/>
<path d="M993.2 430.2 V435.4" stroke="#222" stroke-width="1.3"/>
<text x="993.1" y="451.4" class="tk ten">10</text><text x="1002.5" y="444.9" class="sup">5</text>
<path d="M1004.7 430.2 V432.5" stroke="#333" stroke-width="0.8"/>
<path d="M820.2 380.8 H907.3 M907.3 376.8 V392.3 M907.3 389.8 H1009.7 M820.8 377.8 V383.8 M1009.1 386.8 V392.8" fill="none" stroke="#2c2c2c" stroke-width="1.35"/>
<text x="825.0" y="277.4" class="lb">FITC-A-</text>
<text x="825.0" y="290.0" class="lb">12.9</text>
<text x="956.7" y="277.4" class="lb">FITC-A+</text>
<text x="989.2" y="290.0" class="lb" text-anchor="end">87.1</text>
<rect x="1039.7" y="262.8" width="189.2" height="169.7" fill="#fff"/>
<path d="M1040.2 432.2 L1040.3 431.1 L1040.2 431.1 L1040.3 432.2 L1041.2 432.2 L1041.3 431.2 L1041.8 431.2 L1041.9 432.2 L1043.3 432.2 L1043.4 431.5 L1043.9 431.5 L1044.0 432.2 L1044.3 432.2 L1044.4 431.4 L1044.9 431.4 L1045.0 432.2 L1046.4 432.2 L1046.5 431.3 L1047.0 431.3 L1047.1 432.2 L1047.4 432.2 L1047.5 431.7 L1048.0 431.8 L1048.1 432.2 L1048.4 432.2 L1048.5 431.0 L1048.4 431.0 L1048.5 432.2 L1049.4 432.2 L1049.5 431.1 L1049.7 431.1 L1049.8 432.2 L1050.4 432.2 L1050.5 431.7 L1050.4 431.7 L1050.5 432.2 L1051.5 432.2 L1051.6 431.3 L1051.5 431.3 L1051.6 432.2 L1052.5 432.2 L1052.6 431.2 L1052.5 431.2 L1052.6 432.2 L1053.5 432.2 L1053.6 431.3 L1053.8 431.3 L1053.9 432.2 L1054.5 432.2 L1054.6 431.5 L1054.8 431.5 L1054.9 432.2 L1055.6 432.2 L1055.7 431.6 L1055.9 431.6 L1056.0 432.2 L1056.6 432.2 L1056.7 431.6 L1056.6 431.6 L1056.7 432.2 L1057.6 432.2 L1057.7 431.5 L1057.9 431.5 L1058.0 432.2 L1059.7 432.2 L1059.8 431.1 L1060.0 431.1 L1060.1 432.2 L1060.7 432.2 L1060.8 431.8 L1060.7 431.8 L1060.8 432.2 L1061.7 432.2 L1061.8 431.3 L1062.0 431.3 L1062.1 432.2 L1062.7 432.2 L1062.8 431.2 L1063.3 431.2 L1063.4 432.2 L1063.7 431.2 L1064.8 431.3 L1065.8 432.2 L1066.8 432.2 L1067.8 431.9 L1068.9 431.2 L1069.9 431.3 L1070.9 432.0 L1071.9 431.3 L1073.0 432.0 L1074.0 431.3 L1075.0 431.3 L1076.0 431.1 L1077.0 431.8 L1078.0 431.3 L1079.0 431.6 L1080.0 431.5 L1081.0 432.2 L1082.0 431.3 L1083.0 430.9 L1084.0 432.2 L1085.0 432.1 L1086.0 431.6 L1087.0 431.0 L1088.0 431.5 L1089.0 430.7 L1090.0 430.4 L1091.0 432.1 L1092.0 431.1 L1093.0 431.6 L1094.0 429.4 L1095.0 431.2 L1096.0 431.3 L1097.1 430.1 L1098.1 430.9 L1099.2 429.7 L1100.2 429.5 L1101.3 430.1 L1102.3 429.1 L1103.4 429.8 L1104.4 429.3 L1105.5 428.5 L1106.5 430.2 L1107.6 428.2 L1108.6 429.8 L1109.7 428.4 L1110.7 427.7 L1111.8 429.5 L1112.8 427.4 L1113.9 428.7 L1114.9 427.2 L1116.0 428.0 L1117.0 427.0 L1118.1 427.4 L1119.1 428.0 L1120.2 427.0 L1121.2 425.4 L1122.3 426.1 L1123.3 425.0 L1124.4 424.8 L1125.4 426.9 L1126.5 423.9 L1127.5 425.3 L1128.6 425.1 L1129.6 425.2 L1130.7 425.7 L1131.7 422.5 L1132.8 422.0 L1133.8 421.7 L1134.9 423.4 L1135.9 421.6 L1137.1 418.5 L1138.3 419.8 L1139.0 415.6 L1140.6 413.7 L1141.9 408.5 L1142.9 406.2 L1143.8 401.1 L1145.0 394.4 L1145.9 388.9 L1146.9 382.4 L1148.3 376.7 L1148.7 370.8 L1150.1 359.9 L1151.3 357.0 L1152.3 344.2 L1153.2 341.1 L1154.0 332.0 L1155.4 329.7 L1157.0 327.7 L1157.9 323.5 L1159.1 318.4 L1160.5 318.0 L1161.8 323.7 L1162.7 324.3 L1163.4 317.3 L1164.9 315.4 L1165.6 319.5 L1167.4 319.1 L1168.4 310.6 L1169.9 308.8 L1171.3 306.5 L1172.1 298.0 L1173.7 283.6 L1175.6 273.4 L1176.8 296.1 L1178.6 301.9 L1179.3 299.5 L1180.0 309.9 L1181.5 318.4 L1183.2 332.7 L1183.8 344.3 L1184.8 360.3 L1186.3 376.2 L1187.4 389.0 L1188.8 400.7 L1190.4 407.6 L1191.0 417.1 L1192.0 418.5 L1193.1 422.1 L1194.1 426.5 L1195.3 428.1 L1196.5 429.2 L1197.7 428.2 L1198.9 430.1 L1199.9 430.4 L1201.0 429.9 L1202.0 430.8 L1203.1 430.3 L1204.1 431.1 L1205.2 431.6 L1206.2 431.8 L1207.3 431.5 L1208.3 432.0 L1209.3 432.0 L1210.4 432.2 L1211.4 432.2 L1212.4 432.2 L1213.4 431.9 L1214.4 431.4 L1215.5 432.2 L1216.5 432.2 L1217.5 431.9 L1218.5 432.1 L1219.6 432.2 L1220.6 432.0 L1221.6 432.2 L1222.6 432.2 L1223.7 431.6 L1224.7 432.2 L1225.7 432.0 L1226.7 431.9 L1227.7 431.9 L1228.8 432.0 L1228.8 432.5 L1040.2 432.5 Z" fill="#959595" stroke="none"/>
<path d="M1040.2 432.2 L1040.3 431.1 L1040.2 431.1 L1040.3 432.2 L1041.2 432.2 L1041.3 431.2 L1041.8 431.2 L1041.9 432.2 L1043.3 432.2 L1043.4 431.5 L1043.9 431.5 L1044.0 432.2 L1044.3 432.2 L1044.4 431.4 L1044.9 431.4 L1045.0 432.2 L1046.4 432.2 L1046.5 431.3 L1047.0 431.3 L1047.1 432.2 L1047.4 432.2 L1047.5 431.7 L1048.0 431.8 L1048.1 432.2 L1048.4 432.2 L1048.5 431.0 L1048.4 431.0 L1048.5 432.2 L1049.4 432.2 L1049.5 431.1 L1049.7 431.1 L1049.8 432.2 L1050.4 432.2 L1050.5 431.7 L1050.4 431.7 L1050.5 432.2 L1051.5 432.2 L1051.6 431.3 L1051.5 431.3 L1051.6 432.2 L1052.5 432.2 L1052.6 431.2 L1052.5 431.2 L1052.6 432.2 L1053.5 432.2 L1053.6 431.3 L1053.8 431.3 L1053.9 432.2 L1054.5 432.2 L1054.6 431.5 L1054.8 431.5 L1054.9 432.2 L1055.6 432.2 L1055.7 431.6 L1055.9 431.6 L1056.0 432.2 L1056.6 432.2 L1056.7 431.6 L1056.6 431.6 L1056.7 432.2 L1057.6 432.2 L1057.7 431.5 L1057.9 431.5 L1058.0 432.2 L1059.7 432.2 L1059.8 431.1 L1060.0 431.1 L1060.1 432.2 L1060.7 432.2 L1060.8 431.8 L1060.7 431.8 L1060.8 432.2 L1061.7 432.2 L1061.8 431.3 L1062.0 431.3 L1062.1 432.2 L1062.7 432.2 L1062.8 431.2 L1063.3 431.2 L1063.4 432.2 L1063.7 431.2 L1064.8 431.3 L1065.8 432.2 L1066.8 432.2 L1067.8 431.9 L1068.9 431.2 L1069.9 431.3 L1070.9 432.0 L1071.9 431.3 L1073.0 432.0 L1074.0 431.3 L1075.0 431.3 L1076.0 431.1 L1077.0 431.8 L1078.0 431.3 L1079.0 431.6 L1080.0 431.5 L1081.0 432.2 L1082.0 431.3 L1083.0 430.9 L1084.0 432.2 L1085.0 432.1 L1086.0 431.6 L1087.0 431.0 L1088.0 431.5 L1089.0 430.7 L1090.0 430.4 L1091.0 432.1 L1092.0 431.1 L1093.0 431.6 L1094.0 429.4 L1095.0 431.2 L1096.0 431.3 L1097.1 430.1 L1098.1 430.9 L1099.2 429.7 L1100.2 429.5 L1101.3 430.1 L1102.3 429.1 L1103.4 429.8 L1104.4 429.3 L1105.5 428.5 L1106.5 430.2 L1107.6 428.2 L1108.6 429.8 L1109.7 428.4 L1110.7 427.7 L1111.8 429.5 L1112.8 427.4 L1113.9 428.7 L1114.9 427.2 L1116.0 428.0 L1117.0 427.0 L1118.1 427.4 L1119.1 428.0 L1120.2 427.0 L1121.2 425.4 L1122.3 426.1 L1123.3 425.0 L1124.4 424.8 L1125.4 426.9 L1126.5 423.9 L1127.5 425.3 L1128.6 425.1 L1129.6 425.2 L1130.7 425.7 L1131.7 422.5 L1132.8 422.0 L1133.8 421.7 L1134.9 423.4 L1135.9 421.6 L1137.1 418.5 L1138.3 419.8 L1139.0 415.6 L1140.6 413.7 L1141.9 408.5 L1142.9 406.2 L1143.8 401.1 L1145.0 394.4 L1145.9 388.9 L1146.9 382.4 L1148.3 376.7 L1148.7 370.8 L1150.1 359.9 L1151.3 357.0 L1152.3 344.2 L1153.2 341.1 L1154.0 332.0 L1155.4 329.7 L1157.0 327.7 L1157.9 323.5 L1159.1 318.4 L1160.5 318.0 L1161.8 323.7 L1162.7 324.3 L1163.4 317.3 L1164.9 315.4 L1165.6 319.5 L1167.4 319.1 L1168.4 310.6 L1169.9 308.8 L1171.3 306.5 L1172.1 298.0 L1173.7 283.6 L1175.6 273.4 L1176.8 296.1 L1178.6 301.9 L1179.3 299.5 L1180.0 309.9 L1181.5 318.4 L1183.2 332.7 L1183.8 344.3 L1184.8 360.3 L1186.3 376.2 L1187.4 389.0 L1188.8 400.7 L1190.4 407.6 L1191.0 417.1 L1192.0 418.5 L1193.1 422.1 L1194.1 426.5 L1195.3 428.1 L1196.5 429.2 L1197.7 428.2 L1198.9 430.1 L1199.9 430.4 L1201.0 429.9 L1202.0 430.8 L1203.1 430.3 L1204.1 431.1 L1205.2 431.6 L1206.2 431.8 L1207.3 431.5 L1208.3 432.0 L1209.3 432.0 L1210.4 432.2 L1211.4 432.2 L1212.4 432.2 L1213.4 431.9 L1214.4 431.4 L1215.5 432.2 L1216.5 432.2 L1217.5 431.9 L1218.5 432.1 L1219.6 432.2 L1220.6 432.0 L1221.6 432.2 L1222.6 432.2 L1223.7 431.6 L1224.7 432.2 L1225.7 432.0 L1226.7 431.9 L1227.7 431.9 L1228.8 432.0" fill="none" stroke="#1a1a1a" stroke-width="1.5" stroke-linejoin="round"/>
<rect x="1175.0" y="274.5" width="5.5" height="24.0" fill="#dcdcdc" opacity="0.85"/>
<rect x="1039.7" y="262.8" width="189.2" height="169.7" fill="none" stroke="#7d7d7d" stroke-width="1.4"/>
<path d="M1039.7 262.8 V432.5 H1228.9" fill="none" stroke="#333" stroke-width="1.5"/>
<path d="M1040.0 382.0 V432.5" stroke="#111" stroke-width="1.9"/>
<path d="M1033.2 287.8 H1039.7" stroke="#222" stroke-width="1.4"/>
<text x="1030.2" y="292.7" text-anchor="end" class="tk">500</text>
<path d="M1033.2 316.7 H1039.7" stroke="#222" stroke-width="1.4"/>
<text x="1030.2" y="321.6" text-anchor="end" class="tk">400</text>
<path d="M1033.2 345.6 H1039.7" stroke="#222" stroke-width="1.4"/>
<text x="1030.2" y="350.5" text-anchor="end" class="tk">300</text>
<path d="M1033.2 374.5 H1039.7" stroke="#222" stroke-width="1.4"/>
<text x="1030.2" y="379.4" text-anchor="end" class="tk">200</text>
<path d="M1033.2 403.4 H1039.7" stroke="#222" stroke-width="1.4"/>
<text x="1030.2" y="408.3" text-anchor="end" class="tk">100</text>
<path d="M1033.2 432.3 H1039.7" stroke="#222" stroke-width="1.4"/>
<text x="1030.8" y="432.6" text-anchor="end" class="tk">0</text>
<path d="M1037.1 425.1 H1039.7" stroke="#333" stroke-width="1"/>
<path d="M1037.1 417.9 H1039.7" stroke="#333" stroke-width="1"/>
<path d="M1037.1 410.6 H1039.7" stroke="#333" stroke-width="1"/>
<path d="M1037.1 396.2 H1039.7" stroke="#333" stroke-width="1"/>
<path d="M1037.1 389.0 H1039.7" stroke="#333" stroke-width="1"/>
<path d="M1037.1 381.7 H1039.7" stroke="#333" stroke-width="1"/>
<path d="M1037.1 367.3 H1039.7" stroke="#333" stroke-width="1"/>
<path d="M1037.1 360.1 H1039.7" stroke="#333" stroke-width="1"/>
<path d="M1037.1 352.8 H1039.7" stroke="#333" stroke-width="1"/>
<path d="M1037.1 338.4 H1039.7" stroke="#333" stroke-width="1"/>
<path d="M1037.1 331.2 H1039.7" stroke="#333" stroke-width="1"/>
<path d="M1037.1 323.9 H1039.7" stroke="#333" stroke-width="1"/>
<path d="M1037.1 309.5 H1039.7" stroke="#333" stroke-width="1"/>
<path d="M1037.1 302.2 H1039.7" stroke="#333" stroke-width="1"/>
<path d="M1037.1 295.0 H1039.7" stroke="#333" stroke-width="1"/>
<path d="M1037.1 280.6 H1039.7" stroke="#333" stroke-width="1"/>
<path d="M1037.1 273.4 H1039.7" stroke="#333" stroke-width="1"/>
<path d="M1037.1 266.1 H1039.7" stroke="#333" stroke-width="1"/>
<path d="M1044.2 432.5 V434.8" stroke="#333" stroke-width="0.8"/>
<path d="M1047.9 432.5 V436.4" stroke="#333" stroke-width="1.1"/>
<path d="M1050.9 432.5 V434.8" stroke="#333" stroke-width="0.8"/>
<path d="M1053.5 432.5 V434.8" stroke="#333" stroke-width="0.8"/>
<path d="M1055.7 432.5 V434.8" stroke="#333" stroke-width="0.8"/>
<path d="M1057.7 432.5 V434.8" stroke="#333" stroke-width="0.8"/>
<path d="M1059.4 432.5 V437.7" stroke="#222" stroke-width="1.3"/>
<text x="1059.3" y="453.7" class="tk ten">10</text><text x="1068.7" y="447.2" class="sup">1</text>
<path d="M1070.9 432.5 V434.8" stroke="#333" stroke-width="0.8"/>
<path d="M1077.6 432.5 V434.8" stroke="#333" stroke-width="0.8"/>
<path d="M1082.4 432.5 V434.8" stroke="#333" stroke-width="0.8"/>
<path d="M1086.1 432.5 V436.4" stroke="#333" stroke-width="1.1"/>
<path d="M1089.1 432.5 V434.8" stroke="#333" stroke-width="0.8"/>
<path d="M1091.7 432.5 V434.8" stroke="#333" stroke-width="0.8"/>
<path d="M1093.9 432.5 V434.8" stroke="#333" stroke-width="0.8"/>
<path d="M1095.9 432.5 V434.8" stroke="#333" stroke-width="0.8"/>
<path d="M1097.6 432.5 V437.7" stroke="#222" stroke-width="1.3"/>
<text x="1097.5" y="453.7" class="tk ten">10</text><text x="1106.9" y="447.2" class="sup">2</text>
<path d="M1109.1 432.5 V434.8" stroke="#333" stroke-width="0.8"/>
<path d="M1115.8 432.5 V434.8" stroke="#333" stroke-width="0.8"/>
<path d="M1120.6 432.5 V434.8" stroke="#333" stroke-width="0.8"/>
<path d="M1124.3 432.5 V436.4" stroke="#333" stroke-width="1.1"/>
<path d="M1127.3 432.5 V434.8" stroke="#333" stroke-width="0.8"/>
<path d="M1129.9 432.5 V434.8" stroke="#333" stroke-width="0.8"/>
<path d="M1132.1 432.5 V434.8" stroke="#333" stroke-width="0.8"/>
<path d="M1134.1 432.5 V434.8" stroke="#333" stroke-width="0.8"/>
<path d="M1135.8 432.5 V437.7" stroke="#222" stroke-width="1.3"/>
<text x="1135.7" y="453.7" class="tk ten">10</text><text x="1145.1" y="447.2" class="sup">3</text>
<path d="M1147.3 432.5 V434.8" stroke="#333" stroke-width="0.8"/>
<path d="M1154.0 432.5 V434.8" stroke="#333" stroke-width="0.8"/>
<path d="M1158.8 432.5 V434.8" stroke="#333" stroke-width="0.8"/>
<path d="M1162.5 432.5 V436.4" stroke="#333" stroke-width="1.1"/>
<path d="M1165.5 432.5 V434.8" stroke="#333" stroke-width="0.8"/>
<path d="M1168.1 432.5 V434.8" stroke="#333" stroke-width="0.8"/>
<path d="M1170.3 432.5 V434.8" stroke="#333" stroke-width="0.8"/>
<path d="M1172.3 432.5 V434.8" stroke="#333" stroke-width="0.8"/>
<path d="M1174.0 432.5 V437.7" stroke="#222" stroke-width="1.3"/>
<text x="1173.9" y="453.7" class="tk ten">10</text><text x="1183.3" y="447.2" class="sup">4</text>
<path d="M1185.5 432.5 V434.8" stroke="#333" stroke-width="0.8"/>
<path d="M1192.2 432.5 V434.8" stroke="#333" stroke-width="0.8"/>
<path d="M1197.0 432.5 V434.8" stroke="#333" stroke-width="0.8"/>
<path d="M1200.7 432.5 V436.4" stroke="#333" stroke-width="1.1"/>
<path d="M1203.7 432.5 V434.8" stroke="#333" stroke-width="0.8"/>
<path d="M1206.3 432.5 V434.8" stroke="#333" stroke-width="0.8"/>
<path d="M1208.5 432.5 V434.8" stroke="#333" stroke-width="0.8"/>
<path d="M1210.5 432.5 V434.8" stroke="#333" stroke-width="0.8"/>
<path d="M1212.2 432.5 V437.7" stroke="#222" stroke-width="1.3"/>
<text x="1212.1" y="453.7" class="tk ten">10</text><text x="1221.5" y="447.2" class="sup">5</text>
<path d="M1223.7 432.5 V434.8" stroke="#333" stroke-width="0.8"/>
<path d="M1039.7 394.2 H1126.5 M1126.5 390.0 V406.4 M1126.5 402.7 H1228.9 M1040.3 391.2 V397.2 M1228.3 399.7 V405.7" fill="none" stroke="#2c2c2c" stroke-width="1.35"/>
<text x="1044.5" y="279.6" class="lb">FITC-A-</text>
<text x="1044.5" y="292.2" class="lb">3.42</text>
<text x="1175.9" y="279.6" class="lb">FITC-A+</text>
<text x="1208.4" y="292.2" class="lb" text-anchor="end">96.6</text>
<rect x="826.3" y="457.6" width="190.7" height="170.6" fill="#fff"/>
<path d="M826.5 627.9 L826.9 596.4 L827.1 598.0 L827.6 627.9 L829.1 627.9 L829.7 595.2 L829.9 594.9 L830.5 627.9 L832.1 627.9 L832.6 591.4 L833.4 592.5 L833.8 627.9 L834.2 627.9 L834.8 594.4 L835.0 594.9 L835.6 627.9 L837.2 627.9 L837.6 593.2 L838.4 593.8 L838.9 627.9 L839.2 627.9 L839.7 590.4 L840.5 590.7 L841.1 627.9 L842.2 627.9 L842.7 588.7 L844.0 587.7 L844.6 627.9 L844.3 627.9 L844.6 593.7 L845.0 595.2 L845.3 627.9 L845.6 627.9 L846.1 586.6 L847.0 586.8 L847.5 627.9 L848.0 627.9 L848.4 583.0 L849.3 581.5 L849.7 627.9 L851.0 590.3 L852.5 585.6 L853.7 585.7 L855.0 584.4 L856.1 567.7 L856.9 544.2 L858.0 581.5 L859.4 540.3 L860.4 535.1 L861.8 537.7 L862.6 579.3 L863.7 534.0 L865.3 531.1 L866.4 519.0 L867.5 505.3 L868.5 502.0 L869.6 546.4 L870.7 491.9 L871.8 487.5 L873.1 466.1 L873.9 495.5 L875.0 479.1 L876.1 497.6 L877.2 481.9 L878.5 500.7 L879.9 487.8 L881.5 498.0 L883.4 495.3 L885.2 504.1 L886.2 502.9 L887.4 506.6 L889.0 517.3 L890.6 519.8 L891.2 528.3 L892.8 536.2 L894.0 542.9 L895.0 547.5 L896.8 560.2 L898.7 573.3 L900.3 582.9 L900.9 589.9 L902.5 596.7 L903.0 606.1 L903.9 610.6 L905.2 616.6 L906.4 619.6 L907.6 622.0 L909.0 623.6 L910.3 625.0 L911.3 625.7 L912.3 625.6 L913.4 626.6 L914.4 626.8 L915.4 627.0 L916.4 626.7 L917.5 627.1 L918.5 626.6 L919.6 626.6 L920.6 626.5 L921.7 627.1 L922.7 626.7 L923.7 626.5 L924.8 626.8 L925.8 626.7 L926.9 627.4 L927.9 626.2 L929.0 626.6 L930.0 627.0 L928.8 627.4 L927.6 627.9 L926.4 627.9 L927.5 627.9 L928.5 627.9 L929.5 627.9 L930.5 627.9 L931.6 627.9 L932.6 627.7 L933.6 627.0 L934.6 627.5 L935.7 627.2 L936.7 627.0 L937.7 626.8 L938.7 627.1 L939.8 626.8 L940.8 626.4 L941.8 626.5 L942.8 626.7 L943.9 626.3 L944.9 626.1 L945.9 626.6 L946.9 626.1 L948.0 626.7 L949.0 626.0 L950.0 626.2 L951.0 625.8 L952.1 626.1 L953.1 626.1 L954.1 626.6 L955.1 626.0 L956.2 626.3 L957.2 625.9 L958.2 626.4 L959.2 626.7 L960.3 625.8 L961.3 624.7 L962.3 626.0 L963.3 626.2 L964.4 625.8 L965.4 626.3 L966.4 625.8 L967.5 625.5 L968.6 626.2 L969.7 626.4 L970.8 627.0 L972.0 626.3 L973.1 626.5 L974.2 626.7 L975.3 627.6 L976.4 627.5 L977.4 627.9 L978.4 627.9 L979.5 627.5 L980.5 627.2 L981.5 627.9 L982.5 627.9 L983.6 627.5 L984.6 627.9 L985.6 627.8 L986.6 627.8 L987.7 627.8 L988.7 627.9 L989.7 627.5 L990.7 627.7 L991.8 627.3 L992.8 627.9 L993.8 627.5 L994.8 627.9 L995.9 627.9 L996.9 627.5 L997.9 627.7 L998.9 627.7 L1000.0 627.9 L1001.0 627.9 L1002.0 627.8 L1003.0 627.9 L1004.1 627.9 L1005.1 627.8 L1006.1 627.9 L1007.1 627.9 L1008.2 627.9 L1009.2 627.9 L1010.2 627.9 L1011.2 627.9 L1012.2 627.9 L1013.3 627.9 L1014.3 627.9 L1015.3 627.9 L1016.3 627.9 L1016.3 628.2 L826.5 628.2 Z" fill="#959595" stroke="none"/>
<path d="M826.3 628.2 L826.5 599.9 L828.1 599.9 L832.1 594.5 L836.2 597.2 L840.2 591.8 L844.3 594.5 L847.0 586.4 L849.1 585.1 L850.6 585.1 L850.6 628.2 Z" fill="#151515" opacity="0.3"/>
<path d="M826.5 627.9 L826.9 596.4 L827.1 598.0 L827.6 627.9 L829.1 627.9 L829.7 595.2 L829.9 594.9 L830.5 627.9 L832.1 627.9 L832.6 591.4 L833.4 592.5 L833.8 627.9 L834.2 627.9 L834.8 594.4 L835.0 594.9 L835.6 627.9 L837.2 627.9 L837.6 593.2 L838.4 593.8 L838.9 627.9 L839.2 627.9 L839.7 590.4 L840.5 590.7 L841.1 627.9 L842.2 627.9 L842.7 588.7 L844.0 587.7 L844.6 627.9 L844.3 627.9 L844.6 593.7 L845.0 595.2 L845.3 627.9 L845.6 627.9 L846.1 586.6 L847.0 586.8 L847.5 627.9 L848.0 627.9 L848.4 583.0 L849.3 581.5 L849.7 627.9 L851.0 590.3 L852.5 585.6 L853.7 585.7 L855.0 584.4 L856.1 567.7 L856.9 544.2 L858.0 581.5 L859.4 540.3 L860.4 535.1 L861.8 537.7 L862.6 579.3 L863.7 534.0 L865.3 531.1 L866.4 519.0 L867.5 505.3 L868.5 502.0 L869.6 546.4 L870.7 491.9 L871.8 487.5 L873.1 466.1 L873.9 495.5 L875.0 479.1 L876.1 497.6 L877.2 481.9 L878.5 500.7 L879.9 487.8 L881.5 498.0 L883.4 495.3 L885.2 504.1 L886.2 502.9 L887.4 506.6 L889.0 517.3 L890.6 519.8 L891.2 528.3 L892.8 536.2 L894.0 542.9 L895.0 547.5 L896.8 560.2 L898.7 573.3 L900.3 582.9 L900.9 589.9 L902.5 596.7 L903.0 606.1 L903.9 610.6 L905.2 616.6 L906.4 619.6 L907.6 622.0 L909.0 623.6 L910.3 625.0 L911.3 625.7 L912.3 625.6 L913.4 626.6 L914.4 626.8 L915.4 627.0 L916.4 626.7 L917.5 627.1 L918.5 626.6 L919.6 626.6 L920.6 626.5 L921.7 627.1 L922.7 626.7 L923.7 626.5 L924.8 626.8 L925.8 626.7 L926.9 627.4 L927.9 626.2 L929.0 626.6 L930.0 627.0 L928.8 627.4 L927.6 627.9 L926.4 627.9 L927.5 627.9 L928.5 627.9 L929.5 627.9 L930.5 627.9 L931.6 627.9 L932.6 627.7 L933.6 627.0 L934.6 627.5 L935.7 627.2 L936.7 627.0 L937.7 626.8 L938.7 627.1 L939.8 626.8 L940.8 626.4 L941.8 626.5 L942.8 626.7 L943.9 626.3 L944.9 626.1 L945.9 626.6 L946.9 626.1 L948.0 626.7 L949.0 626.0 L950.0 626.2 L951.0 625.8 L952.1 626.1 L953.1 626.1 L954.1 626.6 L955.1 626.0 L956.2 626.3 L957.2 625.9 L958.2 626.4 L959.2 626.7 L960.3 625.8 L961.3 624.7 L962.3 626.0 L963.3 626.2 L964.4 625.8 L965.4 626.3 L966.4 625.8 L967.5 625.5 L968.6 626.2 L969.7 626.4 L970.8 627.0 L972.0 626.3 L973.1 626.5 L974.2 626.7 L975.3 627.6 L976.4 627.5 L977.4 627.9 L978.4 627.9 L979.5 627.5 L980.5 627.2 L981.5 627.9 L982.5 627.9 L983.6 627.5 L984.6 627.9 L985.6 627.8 L986.6 627.8 L987.7 627.8 L988.7 627.9 L989.7 627.5 L990.7 627.7 L991.8 627.3 L992.8 627.9 L993.8 627.5 L994.8 627.9 L995.9 627.9 L996.9 627.5 L997.9 627.7 L998.9 627.7 L1000.0 627.9 L1001.0 627.9 L1002.0 627.8 L1003.0 627.9 L1004.1 627.9 L1005.1 627.8 L1006.1 627.9 L1007.1 627.9 L1008.2 627.9 L1009.2 627.9 L1010.2 627.9 L1011.2 627.9 L1012.2 627.9 L1013.3 627.9 L1014.3 627.9 L1015.3 627.9 L1016.3 627.9" fill="none" stroke="#1a1a1a" stroke-width="1.5" stroke-linejoin="round"/>
<rect x="826.3" y="457.6" width="190.7" height="170.6" fill="none" stroke="#7d7d7d" stroke-width="1.4"/>
<path d="M826.3 457.6 V628.2 H1017.0" fill="none" stroke="#333" stroke-width="1.5"/>
<path d="M819.8 465.4 H826.3" stroke="#222" stroke-width="1.4"/>
<text x="816.8" y="470.3" text-anchor="end" class="tk">600</text>
<path d="M819.8 519.6 H826.3" stroke="#222" stroke-width="1.4"/>
<text x="816.8" y="524.5" text-anchor="end" class="tk">400</text>
<path d="M819.8 573.8 H826.3" stroke="#222" stroke-width="1.4"/>
<text x="816.8" y="578.7" text-anchor="end" class="tk">200</text>
<path d="M819.8 628.0 H826.3" stroke="#222" stroke-width="1.4"/>
<text x="817.4" y="628.3" text-anchor="end" class="tk">0</text>
<path d="M823.7 614.5 H826.3" stroke="#333" stroke-width="1"/>
<path d="M823.7 600.9 H826.3" stroke="#333" stroke-width="1"/>
<path d="M823.7 587.4 H826.3" stroke="#333" stroke-width="1"/>
<path d="M823.7 560.2 H826.3" stroke="#333" stroke-width="1"/>
<path d="M823.7 546.7 H826.3" stroke="#333" stroke-width="1"/>
<path d="M823.7 533.1 H826.3" stroke="#333" stroke-width="1"/>
<path d="M823.7 506.0 H826.3" stroke="#333" stroke-width="1"/>
<path d="M823.7 492.5 H826.3" stroke="#333" stroke-width="1"/>
<path d="M823.7 478.9 H826.3" stroke="#333" stroke-width="1"/>
<path d="M831.1 628.2 V630.5" stroke="#333" stroke-width="0.8"/>
<path d="M834.8 628.2 V632.1" stroke="#333" stroke-width="1.1"/>
<path d="M837.8 628.2 V630.5" stroke="#333" stroke-width="0.8"/>
<path d="M840.4 628.2 V630.5" stroke="#333" stroke-width="0.8"/>
<path d="M842.6 628.2 V630.5" stroke="#333" stroke-width="0.8"/>
<path d="M844.6 628.2 V630.5" stroke="#333" stroke-width="0.8"/>
<path d="M846.3 628.2 V633.4" stroke="#222" stroke-width="1.3"/>
<text x="846.2" y="649.4" class="tk ten">10</text><text x="855.6" y="642.9" class="sup">1</text>
<path d="M857.8 628.2 V630.5" stroke="#333" stroke-width="0.8"/>
<path d="M864.5 628.2 V630.5" stroke="#333" stroke-width="0.8"/>
<path d="M869.3 628.2 V630.5" stroke="#333" stroke-width="0.8"/>
<path d="M873.0 628.2 V632.1" stroke="#333" stroke-width="1.1"/>
<path d="M876.0 628.2 V630.5" stroke="#333" stroke-width="0.8"/>
<path d="M878.6 628.2 V630.5" stroke="#333" stroke-width="0.8"/>
<path d="M880.8 628.2 V630.5" stroke="#333" stroke-width="0.8"/>
<path d="M882.8 628.2 V630.5" stroke="#333" stroke-width="0.8"/>
<path d="M884.5 628.2 V633.4" stroke="#222" stroke-width="1.3"/>
<text x="884.4" y="649.4" class="tk ten">10</text><text x="893.8" y="642.9" class="sup">2</text>
<path d="M896.0 628.2 V630.5" stroke="#333" stroke-width="0.8"/>
<path d="M902.7 628.2 V630.5" stroke="#333" stroke-width="0.8"/>
<path d="M907.5 628.2 V630.5" stroke="#333" stroke-width="0.8"/>
<path d="M911.2 628.2 V632.1" stroke="#333" stroke-width="1.1"/>
<path d="M914.2 628.2 V630.5" stroke="#333" stroke-width="0.8"/>
<path d="M916.8 628.2 V630.5" stroke="#333" stroke-width="0.8"/>
<path d="M919.0 628.2 V630.5" stroke="#333" stroke-width="0.8"/>
<path d="M921.0 628.2 V630.5" stroke="#333" stroke-width="0.8"/>
<path d="M922.7 628.2 V633.4" stroke="#222" stroke-width="1.3"/>
<text x="922.6" y="649.4" class="tk ten">10</text><text x="932.0" y="642.9" class="sup">3</text>
<path d="M934.2 628.2 V630.5" stroke="#333" stroke-width="0.8"/>
<path d="M940.9 628.2 V630.5" stroke="#333" stroke-width="0.8"/>
<path d="M945.7 628.2 V630.5" stroke="#333" stroke-width="0.8"/>
<path d="M949.4 628.2 V632.1" stroke="#333" stroke-width="1.1"/>
<path d="M952.4 628.2 V630.5" stroke="#333" stroke-width="0.8"/>
<path d="M955.0 628.2 V630.5" stroke="#333" stroke-width="0.8"/>
<path d="M957.2 628.2 V630.5" stroke="#333" stroke-width="0.8"/>
<path d="M959.2 628.2 V630.5" stroke="#333" stroke-width="0.8"/>
<path d="M960.9 628.2 V633.4" stroke="#222" stroke-width="1.3"/>
<text x="960.8" y="649.4" class="tk ten">10</text><text x="970.2" y="642.9" class="sup">4</text>
<path d="M972.4 628.2 V630.5" stroke="#333" stroke-width="0.8"/>
<path d="M979.1 628.2 V630.5" stroke="#333" stroke-width="0.8"/>
<path d="M983.9 628.2 V630.5" stroke="#333" stroke-width="0.8"/>
<path d="M987.6 628.2 V632.1" stroke="#333" stroke-width="1.1"/>
<path d="M990.6 628.2 V630.5" stroke="#333" stroke-width="0.8"/>
<path d="M993.2 628.2 V630.5" stroke="#333" stroke-width="0.8"/>
<path d="M995.4 628.2 V630.5" stroke="#333" stroke-width="0.8"/>
<path d="M997.4 628.2 V630.5" stroke="#333" stroke-width="0.8"/>
<path d="M999.1 628.2 V633.4" stroke="#222" stroke-width="1.3"/>
<text x="999.0" y="649.4" class="tk ten">10</text><text x="1008.4" y="642.9" class="sup">5</text>
<path d="M1010.6 628.2 V630.5" stroke="#333" stroke-width="0.8"/>
<path d="M826.3 562.9 H915.8 M915.8 559.2 V575.5 M915.8 571.8 H1017.0 M826.9 559.9 V565.9 M1016.4 568.8 V574.8" fill="none" stroke="#2c2c2c" stroke-width="1.35"/>
<text x="831.1" y="474.4" class="lb">FITC-A-</text>
<text x="831.1" y="487.0" class="lb">98.0</text>
<text x="964.0" y="474.4" class="lb">FITC-A+</text>
<text x="996.5" y="487.0" class="lb" text-anchor="end">1.97</text>
<rect x="1041.7" y="457.5" width="188.5" height="168.4" fill="#fff"/>
<path d="M1041.5 625.6 L1042.0 529.8 L1042.5 531.7 L1043.0 625.6 L1044.5 625.6 L1045.3 521.5 L1045.5 524.8 L1046.2 625.6 L1047.5 625.6 L1048.3 528.0 L1048.5 533.8 L1049.2 625.6 L1050.7 625.6 L1051.2 522.8 L1052.0 528.2 L1052.4 625.6 L1053.0 625.6 L1053.8 519.3 L1054.3 519.0 L1055.0 625.6 L1056.2 625.6 L1056.7 525.4 L1057.6 530.0 L1058.1 625.6 L1058.3 625.6 L1058.8 523.9 L1059.2 524.5 L1059.7 625.6 L1060.6 625.6 L1061.0 523.0 L1062.3 523.2 L1062.7 625.6 L1063.0 625.6 L1063.4 524.3 L1063.8 530.0 L1064.2 625.6 L1065.2 625.6 L1065.7 524.3 L1066.1 520.9 L1066.6 625.6 L1066.8 532.2 L1067.8 547.4 L1068.7 552.3 L1070.3 539.7 L1071.4 537.6 L1073.3 543.1 L1074.9 492.1 L1076.2 553.9 L1077.1 502.6 L1078.1 563.7 L1078.9 508.6 L1080.3 523.3 L1081.4 517.6 L1083.0 496.1 L1084.3 558.2 L1085.4 517.5 L1086.0 500.0 L1087.6 484.8 L1088.9 536.0 L1090.3 509.0 L1091.6 504.7 L1093.0 522.7 L1094.3 498.9 L1095.9 514.3 L1097.5 501.0 L1099.2 490.9 L1101.1 480.7 L1102.9 494.2 L1103.8 492.7 L1105.6 490.5 L1106.9 492.7 L1107.8 479.1 L1109.1 465.8 L1110.5 488.5 L1112.1 502.2 L1113.7 518.0 L1115.1 533.5 L1116.7 546.8 L1118.6 562.6 L1119.6 570.9 L1120.7 581.6 L1122.3 587.4 L1122.9 595.1 L1124.1 601.4 L1125.3 606.1 L1126.2 609.9 L1128.0 612.5 L1129.9 616.7 L1131.0 616.7 L1132.1 618.1 L1133.4 619.7 L1134.8 622.0 L1135.8 623.2 L1136.8 622.8 L1137.8 624.1 L1138.8 624.4 L1139.8 624.0 L1140.9 624.9 L1141.9 625.1 L1142.9 625.4 L1144.0 624.9 L1145.0 625.3 L1146.0 624.6 L1147.0 625.2 L1148.0 625.4 L1149.0 625.6 L1150.0 625.2 L1151.0 625.3 L1152.0 625.6 L1153.0 625.2 L1154.0 625.3 L1155.1 625.5 L1156.1 625.5 L1157.1 625.3 L1158.1 625.6 L1159.1 625.1 L1160.1 625.6 L1161.1 625.6 L1162.1 624.7 L1163.1 625.6 L1164.1 625.6 L1165.1 625.6 L1166.1 625.6 L1167.1 625.6 L1168.1 625.3 L1169.1 625.6 L1170.1 625.3 L1171.1 625.6 L1172.1 625.3 L1173.2 625.6 L1174.2 625.6 L1175.2 625.6 L1176.2 625.6 L1177.2 625.6 L1178.2 625.4 L1179.2 625.3 L1180.2 625.6 L1181.2 625.5 L1182.2 625.6 L1183.2 625.1 L1184.2 625.5 L1185.2 625.6 L1186.2 625.4 L1187.2 625.6 L1188.2 625.6 L1189.2 625.6 L1190.2 625.6 L1191.3 625.5 L1192.3 625.6 L1193.3 625.6 L1194.3 625.6 L1195.3 625.4 L1196.3 625.5 L1197.3 625.6 L1198.3 625.6 L1199.3 625.6 L1200.3 625.6 L1201.3 625.6 L1202.3 625.5 L1203.3 625.6 L1204.3 625.5 L1205.3 625.6 L1206.3 625.6 L1207.3 625.6 L1208.3 625.6 L1209.4 625.6 L1210.4 625.6 L1211.4 625.5 L1212.4 625.6 L1213.4 625.6 L1214.4 625.6 L1215.4 625.6 L1216.4 625.6 L1217.4 625.6 L1218.4 625.6 L1219.4 625.6 L1220.4 625.6 L1221.4 625.6 L1222.4 625.6 L1223.4 625.6 L1224.4 625.6 L1225.4 625.6 L1226.4 625.6 L1227.4 625.6 L1228.5 625.6 L1229.5 625.6 L1230.5 625.6 L1230.5 625.9 L1041.5 625.9 Z" fill="#959595" stroke="none"/>
<path d="M1041.7 625.9 L1041.5 529.8 L1048.5 529.3 L1055.2 523.1 L1059.3 527.6 L1062.0 520.4 L1065.2 528.4 L1066.0 528.4 L1066.0 625.9 Z" fill="#151515" opacity="0.22"/>
<path d="M1041.5 625.6 L1042.0 529.8 L1042.5 531.7 L1043.0 625.6 L1044.5 625.6 L1045.3 521.5 L1045.5 524.8 L1046.2 625.6 L1047.5 625.6 L1048.3 528.0 L1048.5 533.8 L1049.2 625.6 L1050.7 625.6 L1051.2 522.8 L1052.0 528.2 L1052.4 625.6 L1053.0 625.6 L1053.8 519.3 L1054.3 519.0 L1055.0 625.6 L1056.2 625.6 L1056.7 525.4 L1057.6 530.0 L1058.1 625.6 L1058.3 625.6 L1058.8 523.9 L1059.2 524.5 L1059.7 625.6 L1060.6 625.6 L1061.0 523.0 L1062.3 523.2 L1062.7 625.6 L1063.0 625.6 L1063.4 524.3 L1063.8 530.0 L1064.2 625.6 L1065.2 625.6 L1065.7 524.3 L1066.1 520.9 L1066.6 625.6 L1066.8 532.2 L1067.8 547.4 L1068.7 552.3 L1070.3 539.7 L1071.4 537.6 L1073.3 543.1 L1074.9 492.1 L1076.2 553.9 L1077.1 502.6 L1078.1 563.7 L1078.9 508.6 L1080.3 523.3 L1081.4 517.6 L1083.0 496.1 L1084.3 558.2 L1085.4 517.5 L1086.0 500.0 L1087.6 484.8 L1088.9 536.0 L1090.3 509.0 L1091.6 504.7 L1093.0 522.7 L1094.3 498.9 L1095.9 514.3 L1097.5 501.0 L1099.2 490.9 L1101.1 480.7 L1102.9 494.2 L1103.8 492.7 L1105.6 490.5 L1106.9 492.7 L1107.8 479.1 L1109.1 465.8 L1110.5 488.5 L1112.1 502.2 L1113.7 518.0 L1115.1 533.5 L1116.7 546.8 L1118.6 562.6 L1119.6 570.9 L1120.7 581.6 L1122.3 587.4 L1122.9 595.1 L1124.1 601.4 L1125.3 606.1 L1126.2 609.9 L1128.0 612.5 L1129.9 616.7 L1131.0 616.7 L1132.1 618.1 L1133.4 619.7 L1134.8 622.0 L1135.8 623.2 L1136.8 622.8 L1137.8 624.1 L1138.8 624.4 L1139.8 624.0 L1140.9 624.9 L1141.9 625.1 L1142.9 625.4 L1144.0 624.9 L1145.0 625.3 L1146.0 624.6 L1147.0 625.2 L1148.0 625.4 L1149.0 625.6 L1150.0 625.2 L1151.0 625.3 L1152.0 625.6 L1153.0 625.2 L1154.0 625.3 L1155.1 625.5 L1156.1 625.5 L1157.1 625.3 L1158.1 625.6 L1159.1 625.1 L1160.1 625.6 L1161.1 625.6 L1162.1 624.7 L1163.1 625.6 L1164.1 625.6 L1165.1 625.6 L1166.1 625.6 L1167.1 625.6 L1168.1 625.3 L1169.1 625.6 L1170.1 625.3 L1171.1 625.6 L1172.1 625.3 L1173.2 625.6 L1174.2 625.6 L1175.2 625.6 L1176.2 625.6 L1177.2 625.6 L1178.2 625.4 L1179.2 625.3 L1180.2 625.6 L1181.2 625.5 L1182.2 625.6 L1183.2 625.1 L1184.2 625.5 L1185.2 625.6 L1186.2 625.4 L1187.2 625.6 L1188.2 625.6 L1189.2 625.6 L1190.2 625.6 L1191.3 625.5 L1192.3 625.6 L1193.3 625.6 L1194.3 625.6 L1195.3 625.4 L1196.3 625.5 L1197.3 625.6 L1198.3 625.6 L1199.3 625.6 L1200.3 625.6 L1201.3 625.6 L1202.3 625.5 L1203.3 625.6 L1204.3 625.5 L1205.3 625.6 L1206.3 625.6 L1207.3 625.6 L1208.3 625.6 L1209.4 625.6 L1210.4 625.6 L1211.4 625.5 L1212.4 625.6 L1213.4 625.6 L1214.4 625.6 L1215.4 625.6 L1216.4 625.6 L1217.4 625.6 L1218.4 625.6 L1219.4 625.6 L1220.4 625.6 L1221.4 625.6 L1222.4 625.6 L1223.4 625.6 L1224.4 625.6 L1225.4 625.6 L1226.4 625.6 L1227.4 625.6 L1228.5 625.6 L1229.5 625.6 L1230.5 625.6" fill="none" stroke="#1a1a1a" stroke-width="1.5" stroke-linejoin="round"/>
<rect x="1072.5" y="476.0" width="4.0" height="22.0" fill="#dcdcdc" opacity="0.85"/>
<rect x="1041.7" y="457.5" width="188.5" height="168.4" fill="none" stroke="#7d7d7d" stroke-width="1.4"/>
<path d="M1041.7 457.5 V625.9 H1230.2" fill="none" stroke="#333" stroke-width="1.5"/>
<path d="M1035.2 481.6 H1041.7" stroke="#222" stroke-width="1.4"/>
<text x="1032.2" y="486.5" text-anchor="end" class="tk">300</text>
<path d="M1035.2 529.7 H1041.7" stroke="#222" stroke-width="1.4"/>
<text x="1032.2" y="534.6" text-anchor="end" class="tk">200</text>
<path d="M1035.2 577.8 H1041.7" stroke="#222" stroke-width="1.4"/>
<text x="1032.2" y="582.7" text-anchor="end" class="tk">100</text>
<path d="M1035.2 625.8 H1041.7" stroke="#222" stroke-width="1.4"/>
<text x="1032.8" y="626.1" text-anchor="end" class="tk">0</text>
<path d="M1039.1 613.8 H1041.7" stroke="#333" stroke-width="1"/>
<path d="M1039.1 601.8 H1041.7" stroke="#333" stroke-width="1"/>
<path d="M1039.1 589.8 H1041.7" stroke="#333" stroke-width="1"/>
<path d="M1039.1 565.7 H1041.7" stroke="#333" stroke-width="1"/>
<path d="M1039.1 553.7 H1041.7" stroke="#333" stroke-width="1"/>
<path d="M1039.1 541.7 H1041.7" stroke="#333" stroke-width="1"/>
<path d="M1039.1 517.6 H1041.7" stroke="#333" stroke-width="1"/>
<path d="M1039.1 505.6 H1041.7" stroke="#333" stroke-width="1"/>
<path d="M1039.1 493.6 H1041.7" stroke="#333" stroke-width="1"/>
<path d="M1039.1 469.6 H1041.7" stroke="#333" stroke-width="1"/>
<path d="M1046.9 625.9 V628.2" stroke="#333" stroke-width="0.8"/>
<path d="M1050.6 625.9 V629.8" stroke="#333" stroke-width="1.1"/>
<path d="M1053.6 625.9 V628.2" stroke="#333" stroke-width="0.8"/>
<path d="M1056.1 625.9 V628.2" stroke="#333" stroke-width="0.8"/>
<path d="M1058.3 625.9 V628.2" stroke="#333" stroke-width="0.8"/>
<path d="M1060.3 625.9 V628.2" stroke="#333" stroke-width="0.8"/>
<path d="M1062.0 625.9 V631.1" stroke="#222" stroke-width="1.3"/>
<text x="1061.9" y="647.1" class="tk ten">10</text><text x="1071.3" y="640.6" class="sup">1</text>
<path d="M1073.4 625.9 V628.2" stroke="#333" stroke-width="0.8"/>
<path d="M1080.1 625.9 V628.2" stroke="#333" stroke-width="0.8"/>
<path d="M1084.8 625.9 V628.2" stroke="#333" stroke-width="0.8"/>
<path d="M1088.5 625.9 V629.8" stroke="#333" stroke-width="1.1"/>
<path d="M1091.5 625.9 V628.2" stroke="#333" stroke-width="0.8"/>
<path d="M1094.1 625.9 V628.2" stroke="#333" stroke-width="0.8"/>
<path d="M1096.3 625.9 V628.2" stroke="#333" stroke-width="0.8"/>
<path d="M1098.2 625.9 V628.2" stroke="#333" stroke-width="0.8"/>
<path d="M1100.0 625.9 V631.1" stroke="#222" stroke-width="1.3"/>
<text x="1099.9" y="647.1" class="tk ten">10</text><text x="1109.2" y="640.6" class="sup">2</text>
<path d="M1111.4 625.9 V628.2" stroke="#333" stroke-width="0.8"/>
<path d="M1118.1 625.9 V628.2" stroke="#333" stroke-width="0.8"/>
<path d="M1122.8 625.9 V628.2" stroke="#333" stroke-width="0.8"/>
<path d="M1126.5 625.9 V629.8" stroke="#333" stroke-width="1.1"/>
<path d="M1129.5 625.9 V628.2" stroke="#333" stroke-width="0.8"/>
<path d="M1132.0 625.9 V628.2" stroke="#333" stroke-width="0.8"/>
<path d="M1134.2 625.9 V628.2" stroke="#333" stroke-width="0.8"/>
<path d="M1136.2 625.9 V628.2" stroke="#333" stroke-width="0.8"/>
<path d="M1137.9 625.9 V631.1" stroke="#222" stroke-width="1.3"/>
<text x="1137.8" y="647.1" class="tk ten">10</text><text x="1147.2" y="640.6" class="sup">3</text>
<path d="M1149.3 625.9 V628.2" stroke="#333" stroke-width="0.8"/>
<path d="M1156.0 625.9 V628.2" stroke="#333" stroke-width="0.8"/>
<path d="M1160.7 625.9 V628.2" stroke="#333" stroke-width="0.8"/>
<path d="M1164.4 625.9 V629.8" stroke="#333" stroke-width="1.1"/>
<path d="M1167.4 625.9 V628.2" stroke="#333" stroke-width="0.8"/>
<path d="M1170.0 625.9 V628.2" stroke="#333" stroke-width="0.8"/>
<path d="M1172.2 625.9 V628.2" stroke="#333" stroke-width="0.8"/>
<path d="M1174.1 625.9 V628.2" stroke="#333" stroke-width="0.8"/>
<path d="M1175.8 625.9 V631.1" stroke="#222" stroke-width="1.3"/>
<text x="1175.8" y="647.1" class="tk ten">10</text><text x="1185.1" y="640.6" class="sup">4</text>
<path d="M1187.3 625.9 V628.2" stroke="#333" stroke-width="0.8"/>
<path d="M1194.0 625.9 V628.2" stroke="#333" stroke-width="0.8"/>
<path d="M1198.7 625.9 V628.2" stroke="#333" stroke-width="0.8"/>
<path d="M1202.4 625.9 V629.8" stroke="#333" stroke-width="1.1"/>
<path d="M1205.4 625.9 V628.2" stroke="#333" stroke-width="0.8"/>
<path d="M1207.9 625.9 V628.2" stroke="#333" stroke-width="0.8"/>
<path d="M1210.1 625.9 V628.2" stroke="#333" stroke-width="0.8"/>
<path d="M1212.1 625.9 V628.2" stroke="#333" stroke-width="0.8"/>
<path d="M1213.8 625.9 V631.1" stroke="#222" stroke-width="1.3"/>
<text x="1213.7" y="647.1" class="tk ten">10</text><text x="1223.1" y="640.6" class="sup">5</text>
<path d="M1225.2 625.9 V628.2" stroke="#333" stroke-width="0.8"/>
<path d="M1041.7 601.0 H1129.8 M1129.8 597.5 V613.1 M1129.8 610.0 H1230.2 M1042.3 598.0 V604.0 M1229.6 607.0 V613.0" fill="none" stroke="#2c2c2c" stroke-width="1.35"/>
<text x="1046.5" y="474.3" class="lb">FITC-A-</text>
<text x="1046.5" y="486.9" class="lb">98.9</text>
<text x="1177.2" y="474.3" class="lb">FITC-A+</text>
<text x="1209.7" y="486.9" class="lb" text-anchor="end">1.12</text>
<text transform="translate(14.5 47.9) scale(0.93 1)" class="big">F</text>
<text transform="translate(733.7 62.2) scale(0.94 1)" class="big">G</text>
<text x="223.5" y="45.8" class="hd">A29L</text>
<text x="453.4" y="45.8" class="hd">B6R</text>
<text x="902.5" y="45.8" class="hd">M1R</text>
<text x="1110.8" y="45.8" class="hd">A35R</text>
<text x="123.0" y="173.7" class="hd" text-anchor="end">LBA</text>
<text x="122.2" y="376.2" class="hd" text-anchor="end">LBAAM</text>
<text x="121.7" y="561.4" class="hd" text-anchor="end">Mock</text>
<text x="790.5" y="173.7" class="hd" text-anchor="end">LAM</text>
<text x="790.5" y="376.0" class="hd" text-anchor="end">LBAAM</text>
<text x="789.9" y="561.4" class="hd" text-anchor="end">Mock</text>
</svg>
</body></html>
